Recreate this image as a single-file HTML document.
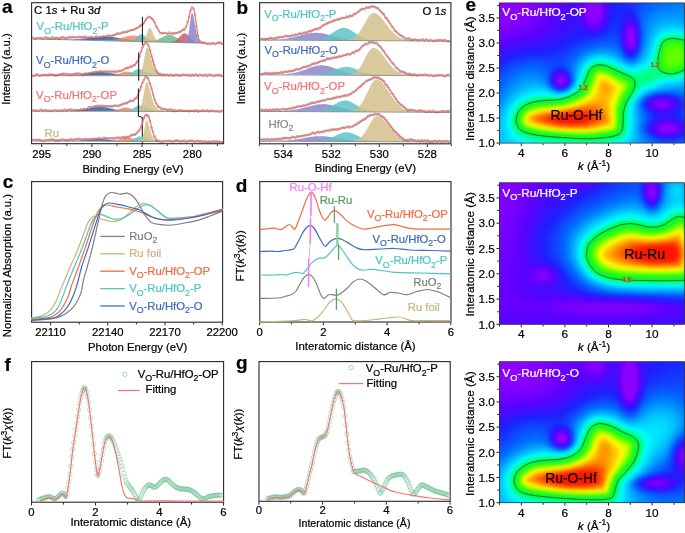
<!DOCTYPE html>
<html><head><meta charset="utf-8"><style>
html,body{margin:0;padding:0;background:#fff;width:685px;height:533px;overflow:hidden}
svg{position:absolute;left:0;top:0}
canvas{position:absolute}
text{font-family:"Liberation Sans", sans-serif}
</style></head><body>
<svg width="685" height="533" style="position:absolute;left:0;top:0"><defs><linearGradient id="fbg" x1="0" y1="0" x2="1" y2="1"><stop offset="0" stop-color="#7a00ff"/><stop offset="0.5" stop-color="#3a20ff"/><stop offset="1" stop-color="#1060ff"/></linearGradient><filter id="fb6" filterUnits="userSpaceOnUse" x="470" y="0" width="230" height="533"><feGaussianBlur stdDeviation="5"/></filter><filter id="fb2" filterUnits="userSpaceOnUse" x="470" y="0" width="230" height="533"><feGaussianBlur stdDeviation="2.5"/></filter><filter id="fb8" filterUnits="userSpaceOnUse" x="470" y="0" width="230" height="533"><feGaussianBlur stdDeviation="7"/></filter><clipPath id="fbc0"><rect x="499" y="3" width="186" height="140"/></clipPath><clipPath id="fbc1"><rect x="499" y="183" width="186" height="141"/></clipPath><clipPath id="fbc2"><rect x="499" y="362" width="186" height="141"/></clipPath></defs><g clip-path="url(#fbc0)"><rect x="499" y="3" width="186" height="140" fill="url(#fbg)"/><path d="M516.2,122.4C515.7,119.85 516.45,116.68 517.3,114.3C518.15,111.92 519.6,109.82 521.3,108.1C523,106.38 525.1,105.08 527.5,104C529.9,102.92 532.63,102.2 535.7,101.6C538.77,101 542.17,100.73 545.9,100.4C549.63,100.07 554.35,100.18 558.1,99.6C561.85,99.02 565.33,98.03 568.4,96.9C571.47,95.77 574.3,94.25 576.5,92.8C578.7,91.35 580.07,90.42 581.6,88.2C583.13,85.98 584.5,82.32 585.7,79.5C586.9,76.68 587.6,73.4 588.8,71.3C590,69.2 591.2,67.98 592.9,66.9C594.6,65.82 596.62,64.92 599,64.8C601.38,64.68 604.13,65.18 607.2,66.2C610.27,67.22 614,69.37 617.4,70.9C620.8,72.43 624.87,73.97 627.6,75.4C630.33,76.83 632.6,77.78 633.8,79.5C635,81.22 635.15,83.32 634.8,85.7C634.45,88.08 633.07,91.08 631.7,93.8C630.33,96.52 627.97,98.93 626.6,102C625.23,105.07 624.08,108.8 623.5,112.2C622.92,115.6 623.43,119.17 623.1,122.4C622.77,125.63 622.78,129.38 621.5,131.6C620.22,133.82 618.47,134.67 615.4,135.7C612.33,136.73 607.88,137.28 603.1,137.8C598.32,138.32 592.83,138.8 586.7,138.8C580.57,138.8 573.1,138.22 566.3,137.8C559.5,137.38 552.03,136.98 545.9,136.3C539.77,135.62 533.77,134.82 529.5,133.7C525.23,132.58 522.52,131.48 520.3,129.6C518.08,127.72 516.7,124.95 516.2,122.4Z" fill="#00ffff" stroke="#00ffff" stroke-width="22" stroke-linejoin="round" filter="url(#fb6)"/><path d="M516.2,122.4C515.7,119.85 516.45,116.68 517.3,114.3C518.15,111.92 519.6,109.82 521.3,108.1C523,106.38 525.1,105.08 527.5,104C529.9,102.92 532.63,102.2 535.7,101.6C538.77,101 542.17,100.73 545.9,100.4C549.63,100.07 554.35,100.18 558.1,99.6C561.85,99.02 565.33,98.03 568.4,96.9C571.47,95.77 574.3,94.25 576.5,92.8C578.7,91.35 580.07,90.42 581.6,88.2C583.13,85.98 584.5,82.32 585.7,79.5C586.9,76.68 587.6,73.4 588.8,71.3C590,69.2 591.2,67.98 592.9,66.9C594.6,65.82 596.62,64.92 599,64.8C601.38,64.68 604.13,65.18 607.2,66.2C610.27,67.22 614,69.37 617.4,70.9C620.8,72.43 624.87,73.97 627.6,75.4C630.33,76.83 632.6,77.78 633.8,79.5C635,81.22 635.15,83.32 634.8,85.7C634.45,88.08 633.07,91.08 631.7,93.8C630.33,96.52 627.97,98.93 626.6,102C625.23,105.07 624.08,108.8 623.5,112.2C622.92,115.6 623.43,119.17 623.1,122.4C622.77,125.63 622.78,129.38 621.5,131.6C620.22,133.82 618.47,134.67 615.4,135.7C612.33,136.73 607.88,137.28 603.1,137.8C598.32,138.32 592.83,138.8 586.7,138.8C580.57,138.8 573.1,138.22 566.3,137.8C559.5,137.38 552.03,136.98 545.9,136.3C539.77,135.62 533.77,134.82 529.5,133.7C525.23,132.58 522.52,131.48 520.3,129.6C518.08,127.72 516.7,124.95 516.2,122.4Z" fill="#ffff00" stroke="#00f040" stroke-width="12" filter="url(#fb2)"/><path d="M671.5,38.5C668.97,38.78 665.78,39.32 663.9,41C662.02,42.68 661.18,45.65 660.2,48.6C659.22,51.55 658.37,55.75 658,58.7C657.63,61.65 657.43,64.18 658,66.3C658.57,68.42 659.3,70.13 661.4,71.4C663.5,72.67 667.65,73.77 670.6,73.9C673.55,74.03 676.53,73.18 679.1,72.2C681.67,71.22 683.85,70.7 686,68C688.15,65.3 692,60.33 692,56C692,51.67 688.15,44.78 686,42C683.85,39.22 681.52,39.88 679.1,39.3C676.68,38.72 674.03,38.22 671.5,38.5Z" fill="#00ffff" stroke="#00ffff" stroke-width="22" stroke-linejoin="round" filter="url(#fb6)"/><path d="M671.5,38.5C668.97,38.78 665.78,39.32 663.9,41C662.02,42.68 661.18,45.65 660.2,48.6C659.22,51.55 658.37,55.75 658,58.7C657.63,61.65 657.43,64.18 658,66.3C658.57,68.42 659.3,70.13 661.4,71.4C663.5,72.67 667.65,73.77 670.6,73.9C673.55,74.03 676.53,73.18 679.1,72.2C681.67,71.22 683.85,70.7 686,68C688.15,65.3 692,60.33 692,56C692,51.67 688.15,44.78 686,42C683.85,39.22 681.52,39.88 679.1,39.3C676.68,38.72 674.03,38.22 671.5,38.5Z" fill="#50ff00" stroke="#00f040" stroke-width="12" filter="url(#fb2)"/><ellipse cx="568" cy="122" rx="30" ry="10" fill="#ff3000" filter="url(#fb8)"/><ellipse cx="604" cy="88" rx="8" ry="12" fill="#ff3000" filter="url(#fb8)"/></g><g clip-path="url(#fbc1)"><rect x="499" y="183" width="186" height="141" fill="url(#fbg)"/><path d="M586.5,254C586.7,252.17 586.8,248.65 587.7,246.4C588.6,244.15 589.8,242.62 591.9,240.5C594,238.38 597.2,235.67 600.3,233.7C603.4,231.73 607.12,230.17 610.5,228.7C613.88,227.23 617.22,225.75 620.6,224.9C623.98,224.05 627.42,223.53 630.8,223.6C634.18,223.67 638.08,224.73 640.9,225.3C643.72,225.87 645.17,226.72 647.7,227C650.23,227.28 653.28,227.43 656.1,227C658.92,226.57 661.92,225.67 664.6,224.4C667.28,223.13 669.95,220.72 672.2,219.4C674.45,218.08 676.13,216.82 678.1,216.5C680.07,216.18 681.68,216.58 684,217.5C686.32,218.42 690,216.58 692,222C694,227.42 696,240.5 696,250C696,259.5 694.15,273.95 692,279C689.85,284.05 686.83,280.02 683.1,280.3C679.37,280.58 674.95,280.63 669.6,280.7C664.25,280.77 657.47,280.78 651,280.7C644.53,280.62 636.43,280.43 630.8,280.2C625.17,279.97 621.43,279.87 617.2,279.3C612.97,278.73 609.05,278.07 605.4,276.8C601.75,275.53 597.97,273.82 595.3,271.7C592.63,269.58 590.87,266.48 589.4,264.1C587.93,261.72 586.98,259.08 586.5,257.4C586.02,255.72 586.3,255.83 586.5,254Z" fill="#00ffff" stroke="#00ffff" stroke-width="22" stroke-linejoin="round" filter="url(#fb6)"/><path d="M586.5,254C586.7,252.17 586.8,248.65 587.7,246.4C588.6,244.15 589.8,242.62 591.9,240.5C594,238.38 597.2,235.67 600.3,233.7C603.4,231.73 607.12,230.17 610.5,228.7C613.88,227.23 617.22,225.75 620.6,224.9C623.98,224.05 627.42,223.53 630.8,223.6C634.18,223.67 638.08,224.73 640.9,225.3C643.72,225.87 645.17,226.72 647.7,227C650.23,227.28 653.28,227.43 656.1,227C658.92,226.57 661.92,225.67 664.6,224.4C667.28,223.13 669.95,220.72 672.2,219.4C674.45,218.08 676.13,216.82 678.1,216.5C680.07,216.18 681.68,216.58 684,217.5C686.32,218.42 690,216.58 692,222C694,227.42 696,240.5 696,250C696,259.5 694.15,273.95 692,279C689.85,284.05 686.83,280.02 683.1,280.3C679.37,280.58 674.95,280.63 669.6,280.7C664.25,280.77 657.47,280.78 651,280.7C644.53,280.62 636.43,280.43 630.8,280.2C625.17,279.97 621.43,279.87 617.2,279.3C612.97,278.73 609.05,278.07 605.4,276.8C601.75,275.53 597.97,273.82 595.3,271.7C592.63,269.58 590.87,266.48 589.4,264.1C587.93,261.72 586.98,259.08 586.5,257.4C586.02,255.72 586.3,255.83 586.5,254Z" fill="#ffff00" stroke="#00f040" stroke-width="12" filter="url(#fb2)"/><ellipse cx="650" cy="256" rx="32" ry="11" fill="#ff3000" filter="url(#fb8)"/></g><g clip-path="url(#fbc2)"><rect x="499" y="362" width="186" height="141" fill="url(#fbg)"/><path d="M514.2,480.4C514.2,478 514.83,475.42 516.2,473.2C517.57,470.98 519.83,468.9 522.4,467.1C524.97,465.3 528.03,463.52 531.6,462.4C535.17,461.28 539.72,460.87 543.8,460.4C547.88,459.93 552.35,460.02 556.1,459.6C559.85,459.18 563.07,458.87 566.3,457.9C569.53,456.93 572.95,455.5 575.5,453.8C578.05,452.1 579.9,450.42 581.6,447.7C583.3,444.98 584.33,440.57 585.7,437.5C587.07,434.43 588.27,431.42 589.8,429.3C591.33,427.18 593.02,425.75 594.9,424.8C596.78,423.85 598.37,423.37 601.1,423.6C603.83,423.83 607.57,424.73 611.3,426.2C615.03,427.67 619.93,430.68 623.5,432.4C627.07,434.12 630.32,434.97 632.7,436.5C635.08,438.03 636.87,439.4 637.8,441.6C638.73,443.8 638.97,446.3 638.3,449.7C637.63,453.1 635.92,458.25 633.8,462C631.68,465.75 628.17,469.13 625.6,472.2C623.03,475.27 620.1,477.67 618.4,480.4C616.7,483.13 616.25,486.05 615.4,488.6C614.55,491.15 614.33,494 613.3,495.7C612.27,497.4 611.92,498.12 609.2,498.8C606.48,499.48 602.45,499.73 597,499.8C591.55,499.87 583.32,499.53 576.5,499.2C569.68,498.87 562.9,498.38 556.1,497.8C549.3,497.22 541.32,496.55 535.7,495.7C530.08,494.85 525.65,494.05 522.4,492.7C519.15,491.35 517.57,489.65 516.2,487.6C514.83,485.55 514.2,482.8 514.2,480.4Z" fill="#00ffff" stroke="#00ffff" stroke-width="22" stroke-linejoin="round" filter="url(#fb6)"/><path d="M514.2,480.4C514.2,478 514.83,475.42 516.2,473.2C517.57,470.98 519.83,468.9 522.4,467.1C524.97,465.3 528.03,463.52 531.6,462.4C535.17,461.28 539.72,460.87 543.8,460.4C547.88,459.93 552.35,460.02 556.1,459.6C559.85,459.18 563.07,458.87 566.3,457.9C569.53,456.93 572.95,455.5 575.5,453.8C578.05,452.1 579.9,450.42 581.6,447.7C583.3,444.98 584.33,440.57 585.7,437.5C587.07,434.43 588.27,431.42 589.8,429.3C591.33,427.18 593.02,425.75 594.9,424.8C596.78,423.85 598.37,423.37 601.1,423.6C603.83,423.83 607.57,424.73 611.3,426.2C615.03,427.67 619.93,430.68 623.5,432.4C627.07,434.12 630.32,434.97 632.7,436.5C635.08,438.03 636.87,439.4 637.8,441.6C638.73,443.8 638.97,446.3 638.3,449.7C637.63,453.1 635.92,458.25 633.8,462C631.68,465.75 628.17,469.13 625.6,472.2C623.03,475.27 620.1,477.67 618.4,480.4C616.7,483.13 616.25,486.05 615.4,488.6C614.55,491.15 614.33,494 613.3,495.7C612.27,497.4 611.92,498.12 609.2,498.8C606.48,499.48 602.45,499.73 597,499.8C591.55,499.87 583.32,499.53 576.5,499.2C569.68,498.87 562.9,498.38 556.1,497.8C549.3,497.22 541.32,496.55 535.7,495.7C530.08,494.85 525.65,494.05 522.4,492.7C519.15,491.35 517.57,489.65 516.2,487.6C514.83,485.55 514.2,482.8 514.2,480.4Z" fill="#ffff00" stroke="#00f040" stroke-width="12" filter="url(#fb2)"/><ellipse cx="566" cy="482" rx="28" ry="10" fill="#ff3000" filter="url(#fb8)"/><ellipse cx="604" cy="450" rx="8" ry="12" fill="#ff3000" filter="url(#fb8)"/></g></svg>
<canvas id="hm0" width="186" height="140" style="left:499px;top:3px"></canvas>
<canvas id="hm1" width="186" height="141" style="left:499px;top:183px"></canvas>
<canvas id="hm2" width="186" height="141" style="left:499px;top:362px"></canvas>

<svg width="685" height="533" viewBox="0 0 685 533" font-family='"Liberation Sans", sans-serif'>
<text x="2" y="12.7" font-size="19" fill="#000" stroke="#000" stroke-width="0.22" text-anchor="start" font-weight="bold">a</text>
<text x="236.5" y="13.5" font-size="19" fill="#000" stroke="#000" stroke-width="0.22" text-anchor="start" font-weight="bold">b</text>
<text x="465.5" y="10.5" font-size="19" fill="#000" stroke="#000" stroke-width="0.22" text-anchor="start" font-weight="bold">e</text>
<text x="2.8" y="187.7" font-size="19" fill="#000" stroke="#000" stroke-width="0.22" text-anchor="start" font-weight="bold">c</text>
<text x="235.8" y="191.7" font-size="19" fill="#000" stroke="#000" stroke-width="0.22" text-anchor="start" font-weight="bold">d</text>
<text x="4.5" y="371" font-size="19" fill="#000" stroke="#000" stroke-width="0.22" text-anchor="start" font-weight="bold">f</text>
<text x="236" y="368.5" font-size="19" fill="#000" stroke="#000" stroke-width="0.22" text-anchor="start" font-weight="bold">g</text>
<rect x="31.6" y="2.7" width="192" height="141" fill="none" stroke="#262626" stroke-width="1.1"/>
<path d="M41.7,144.2v2.8M91.9,144.2v2.8M142.1,144.2v2.8M192.3,144.2v2.8" stroke="#262626" stroke-width="1.0" fill="none"/>
<path d="M66.8,144.2v1.8M117,144.2v1.8M167.2,144.2v1.8M217.4,144.2v1.8" stroke="#262626" stroke-width="1.0" fill="none"/>
<text x="41.7" y="157.6" font-size="11.3" fill="#000" stroke="#000" stroke-width="0.22" text-anchor="middle" >295</text>
<text x="91.9" y="157.6" font-size="11.3" fill="#000" stroke="#000" stroke-width="0.22" text-anchor="middle" >290</text>
<text x="142.1" y="157.6" font-size="11.3" fill="#000" stroke="#000" stroke-width="0.22" text-anchor="middle" >285</text>
<text x="192.3" y="157.6" font-size="11.3" fill="#000" stroke="#000" stroke-width="0.22" text-anchor="middle" >280</text>
<text x="133.1" y="173.2" font-size="11.3" fill="#000" stroke="#000" stroke-width="0.22" text-anchor="middle" >Binding Energy (eV)</text>
<text transform="translate(9.9,69) rotate(-90)" font-size="11.3" fill="#000" stroke="#000" stroke-width="0.22" text-anchor="middle" >Intensity (a.u.)</text>
<rect x="259.6" y="2.7" width="191.3" height="141.1" fill="none" stroke="#262626" stroke-width="1.1"/>
<path d="M283.3,144.3v2.8M331.3,144.3v2.8M379.3,144.3v2.8M427.3,144.3v2.8" stroke="#262626" stroke-width="1.0" fill="none"/>
<path d="M259.3,144.3v1.8M307.3,144.3v1.8M355.3,144.3v1.8M403.3,144.3v1.8M451.3,144.3v1.8" stroke="#262626" stroke-width="1.0" fill="none"/>
<text x="283.3" y="157.6" font-size="11.3" fill="#000" stroke="#000" stroke-width="0.22" text-anchor="middle" >534</text>
<text x="331.3" y="157.6" font-size="11.3" fill="#000" stroke="#000" stroke-width="0.22" text-anchor="middle" >532</text>
<text x="379.3" y="157.6" font-size="11.3" fill="#000" stroke="#000" stroke-width="0.22" text-anchor="middle" >530</text>
<text x="427.3" y="157.6" font-size="11.3" fill="#000" stroke="#000" stroke-width="0.22" text-anchor="middle" >528</text>
<text x="365.4" y="172.4" font-size="11.3" fill="#000" stroke="#000" stroke-width="0.22" text-anchor="middle" >Binding Energy (eV)</text>
<text transform="translate(244.6,68.5) rotate(-90)" font-size="11.3" fill="#000" stroke="#000" stroke-width="0.22" text-anchor="middle" >Intensity (a.u.)</text>
<rect x="31.6" y="181.6" width="191" height="140.6" fill="none" stroke="#262626" stroke-width="1.1"/>
<path d="M50.6,322.7v2.8M107.8,322.7v2.8M165,322.7v2.8M222.2,322.7v2.8" stroke="#262626" stroke-width="1.0" fill="none"/>
<path d="M79.2,322.7v1.8M136.4,322.7v1.8M193.6,322.7v1.8" stroke="#262626" stroke-width="1.0" fill="none"/>
<text x="50.6" y="335.8" font-size="11.3" fill="#000" stroke="#000" stroke-width="0.22" text-anchor="middle" >22110</text>
<text x="107.8" y="335.8" font-size="11.3" fill="#000" stroke="#000" stroke-width="0.22" text-anchor="middle" >22140</text>
<text x="165" y="335.8" font-size="11.3" fill="#000" stroke="#000" stroke-width="0.22" text-anchor="middle" >22170</text>
<text x="222.2" y="335.8" font-size="11.3" fill="#000" stroke="#000" stroke-width="0.22" text-anchor="middle" >22200</text>
<text x="137.7" y="350.7" font-size="11.3" fill="#000" stroke="#000" stroke-width="0.22" text-anchor="middle" >Photon Energy (eV)</text>
<text transform="translate(11.3,265.6) rotate(-90)" font-size="11.3" fill="#000" stroke="#000" stroke-width="0.22" text-anchor="middle" >Normalized Absorption (a.u.)</text>
<rect x="259.8" y="181.6" width="191.2" height="140.4" fill="none" stroke="#262626" stroke-width="1.1"/>
<path d="M259.7,322.5v2.8M323.4,322.5v2.8M387.1,322.5v2.8M450.8,322.5v2.8" stroke="#262626" stroke-width="1.0" fill="none"/>
<path d="M291.55,322.5v1.8M355.25,322.5v1.8M418.95,322.5v1.8" stroke="#262626" stroke-width="1.0" fill="none"/>
<text x="259.7" y="335.8" font-size="11.3" fill="#000" stroke="#000" stroke-width="0.22" text-anchor="middle" >0</text>
<text x="323.4" y="335.8" font-size="11.3" fill="#000" stroke="#000" stroke-width="0.22" text-anchor="middle" >2</text>
<text x="387.1" y="335.8" font-size="11.3" fill="#000" stroke="#000" stroke-width="0.22" text-anchor="middle" >4</text>
<text x="450.8" y="335.8" font-size="11.3" fill="#000" stroke="#000" stroke-width="0.22" text-anchor="middle" >6</text>
<text x="355.5" y="349.8" font-size="11.4" fill="#000" stroke="#000" stroke-width="0.22" text-anchor="middle" >Interatomic distance (Å)</text>
<text transform="translate(244.4,255.9) rotate(-90)" font-size="11.3" fill="#000" stroke="#000" stroke-width="0.22" text-anchor="middle" >FT(<tspan font-style="italic">k</tspan><tspan font-size="8.5" dy="-4">3</tspan><tspan dy="4" font-style="italic">χ</tspan>(<tspan font-style="italic">k</tspan>))</text>
<rect x="31.6" y="361.6" width="192" height="140.6" fill="none" stroke="#262626" stroke-width="1.1"/>
<path d="M31.5,502.7v2.8M95.5,502.7v2.8M159.5,502.7v2.8M223.5,502.7v2.8" stroke="#262626" stroke-width="1.0" fill="none"/>
<path d="M63.5,502.7v1.8M127.5,502.7v1.8M191.5,502.7v1.8" stroke="#262626" stroke-width="1.0" fill="none"/>
<text x="31.5" y="515.6" font-size="11.3" fill="#000" stroke="#000" stroke-width="0.22" text-anchor="middle" >0</text>
<text x="95.5" y="515.6" font-size="11.3" fill="#000" stroke="#000" stroke-width="0.22" text-anchor="middle" >2</text>
<text x="159.5" y="515.6" font-size="11.3" fill="#000" stroke="#000" stroke-width="0.22" text-anchor="middle" >4</text>
<text x="223.5" y="515.6" font-size="11.3" fill="#000" stroke="#000" stroke-width="0.22" text-anchor="middle" >6</text>
<text x="130.8" y="526" font-size="11.45" fill="#000" stroke="#000" stroke-width="0.22" text-anchor="middle" >Interatomic distance (Å)</text>
<text transform="translate(10.8,433.2) rotate(-90)" font-size="11.3" fill="#000" stroke="#000" stroke-width="0.22" text-anchor="middle" >FT(<tspan font-style="italic">k</tspan><tspan font-size="8.5" dy="-4">3</tspan><tspan dy="4" font-style="italic">χ</tspan>(<tspan font-style="italic">k</tspan>))</text>
<rect x="259" y="361.6" width="191.2" height="139.7" fill="none" stroke="#262626" stroke-width="1.1"/>
<path d="M258.9,501.8v2.8M322.6,501.8v2.8M386.3,501.8v2.8M450,501.8v2.8" stroke="#262626" stroke-width="1.0" fill="none"/>
<path d="M290.75,501.8v1.8M354.45,501.8v1.8M418.15,501.8v1.8" stroke="#262626" stroke-width="1.0" fill="none"/>
<text x="258.9" y="514.2" font-size="11.3" fill="#000" stroke="#000" stroke-width="0.22" text-anchor="middle" >0</text>
<text x="322.6" y="514.2" font-size="11.3" fill="#000" stroke="#000" stroke-width="0.22" text-anchor="middle" >2</text>
<text x="386.3" y="514.2" font-size="11.3" fill="#000" stroke="#000" stroke-width="0.22" text-anchor="middle" >4</text>
<text x="450" y="514.2" font-size="11.3" fill="#000" stroke="#000" stroke-width="0.22" text-anchor="middle" >6</text>
<text x="354.5" y="526.7" font-size="10.6" fill="#000" stroke="#000" stroke-width="0.22" text-anchor="middle" >Interatomic distance (Å)</text>
<text transform="translate(242.2,434.2) rotate(-90)" font-size="11.3" fill="#000" stroke="#000" stroke-width="0.22" text-anchor="middle" >FT(<tspan font-style="italic">k</tspan><tspan font-size="8.5" dy="-4">3</tspan><tspan dy="4" font-style="italic">χ</tspan>(<tspan font-style="italic">k</tspan>))</text>
<rect x="499.4" y="2.9" width="184.9" height="140.2" fill="none" stroke="#333" stroke-width="0.8"/>
<path d="M521.3,143.4v2.6M564.9,143.4v2.6M608.5,143.4v2.6M652.1,143.4v2.6" stroke="#262626" stroke-width="1.0" fill="none"/>
<path d="M499.5,143.4v1.8M543.1,143.4v1.8M586.7,143.4v1.8M630.3,143.4v1.8M673.9,143.4v1.8" stroke="#262626" stroke-width="1.0" fill="none"/>
<path d="M499.1,143.1h-2.6M499.1,118.06h-2.6M499.1,93.03h-2.6M499.1,67.99h-2.6M499.1,42.96h-2.6M499.1,17.92h-2.6" stroke="#262626" stroke-width="1.0" fill="none"/>
<path d="M499.1,130.58h-1.8M499.1,105.55h-1.8M499.1,80.51h-1.8M499.1,55.47h-1.8M499.1,30.44h-1.8M499.1,5.4h-1.8" stroke="#262626" stroke-width="1.0" fill="none"/>
<text x="521.3" y="157" font-size="11.8" fill="#000" stroke="#000" stroke-width="0.22" text-anchor="middle" >4</text>
<text x="564.9" y="157" font-size="11.8" fill="#000" stroke="#000" stroke-width="0.22" text-anchor="middle" >6</text>
<text x="608.5" y="157" font-size="11.8" fill="#000" stroke="#000" stroke-width="0.22" text-anchor="middle" >8</text>
<text x="652.1" y="157" font-size="11.8" fill="#000" stroke="#000" stroke-width="0.22" text-anchor="middle" >10</text>
<text x="494.8" y="147.3" font-size="11.8" fill="#000" stroke="#000" stroke-width="0.22" text-anchor="end" >1.0</text>
<text x="494.8" y="122.26" font-size="11.8" fill="#000" stroke="#000" stroke-width="0.22" text-anchor="end" >1.5</text>
<text x="494.8" y="97.23" font-size="11.8" fill="#000" stroke="#000" stroke-width="0.22" text-anchor="end" >2.0</text>
<text x="494.8" y="72.19" font-size="11.8" fill="#000" stroke="#000" stroke-width="0.22" text-anchor="end" >2.5</text>
<text x="494.8" y="47.16" font-size="11.8" fill="#000" stroke="#000" stroke-width="0.22" text-anchor="end" >3.0</text>
<text x="494.8" y="22.12" font-size="11.8" fill="#000" stroke="#000" stroke-width="0.22" text-anchor="end" >3.5</text>
<text x="594" y="170" font-size="11.8" fill="#000" stroke="#000" stroke-width="0.22" text-anchor="middle" ><tspan font-style="italic">k</tspan> (Å<tspan font-size="8.5" dy="-4.5">-1</tspan><tspan dy="4.5">)</tspan></text>
<text transform="translate(474.1,78.8) rotate(-90)" font-size="11.8" fill="#000" stroke="#000" stroke-width="0.22" text-anchor="middle" >Interatomic distance (Å)</text>
<rect x="499.4" y="182.7" width="184.9" height="141.7" fill="none" stroke="#333" stroke-width="0.8"/>
<path d="M521.3,324.7v2.6M564.9,324.7v2.6M608.5,324.7v2.6M652.1,324.7v2.6" stroke="#262626" stroke-width="1.0" fill="none"/>
<path d="M499.5,324.7v1.8M543.1,324.7v1.8M586.7,324.7v1.8M630.3,324.7v1.8M673.9,324.7v1.8" stroke="#262626" stroke-width="1.0" fill="none"/>
<path d="M499.1,324.4h-2.6M499.1,299.1h-2.6M499.1,273.79h-2.6M499.1,248.49h-2.6M499.1,223.19h-2.6M499.1,197.88h-2.6" stroke="#262626" stroke-width="1.0" fill="none"/>
<path d="M499.1,311.75h-1.8M499.1,286.44h-1.8M499.1,261.14h-1.8M499.1,235.84h-1.8M499.1,210.53h-1.8M499.1,185.23h-1.8" stroke="#262626" stroke-width="1.0" fill="none"/>
<text x="521.3" y="338.3" font-size="11.8" fill="#000" stroke="#000" stroke-width="0.22" text-anchor="middle" >4</text>
<text x="564.9" y="338.3" font-size="11.8" fill="#000" stroke="#000" stroke-width="0.22" text-anchor="middle" >6</text>
<text x="608.5" y="338.3" font-size="11.8" fill="#000" stroke="#000" stroke-width="0.22" text-anchor="middle" >8</text>
<text x="652.1" y="338.3" font-size="11.8" fill="#000" stroke="#000" stroke-width="0.22" text-anchor="middle" >10</text>
<text x="494.8" y="328.6" font-size="11.8" fill="#000" stroke="#000" stroke-width="0.22" text-anchor="end" >1.0</text>
<text x="494.8" y="303.3" font-size="11.8" fill="#000" stroke="#000" stroke-width="0.22" text-anchor="end" >1.5</text>
<text x="494.8" y="277.99" font-size="11.8" fill="#000" stroke="#000" stroke-width="0.22" text-anchor="end" >2.0</text>
<text x="494.8" y="252.69" font-size="11.8" fill="#000" stroke="#000" stroke-width="0.22" text-anchor="end" >2.5</text>
<text x="494.8" y="227.39" font-size="11.8" fill="#000" stroke="#000" stroke-width="0.22" text-anchor="end" >3.0</text>
<text x="494.8" y="202.08" font-size="11.8" fill="#000" stroke="#000" stroke-width="0.22" text-anchor="end" >3.5</text>
<text x="594" y="351.3" font-size="11.8" fill="#000" stroke="#000" stroke-width="0.22" text-anchor="middle" ><tspan font-style="italic">k</tspan> (Å<tspan font-size="8.5" dy="-4.5">-1</tspan><tspan dy="4.5">)</tspan></text>
<text transform="translate(474.1,254.3) rotate(-90)" font-size="11.8" fill="#000" stroke="#000" stroke-width="0.22" text-anchor="middle" >Interatomic distance (Å)</text>
<rect x="499.4" y="361.6" width="184.9" height="141.1" fill="none" stroke="#333" stroke-width="0.8"/>
<path d="M521.3,503v2.6M564.9,503v2.6M608.5,503v2.6M652.1,503v2.6" stroke="#262626" stroke-width="1.0" fill="none"/>
<path d="M499.5,503v1.8M543.1,503v1.8M586.7,503v1.8M630.3,503v1.8M673.9,503v1.8" stroke="#262626" stroke-width="1.0" fill="none"/>
<path d="M499.1,502.7h-2.6M499.1,477.5h-2.6M499.1,452.31h-2.6M499.1,427.11h-2.6M499.1,401.91h-2.6M499.1,376.72h-2.6" stroke="#262626" stroke-width="1.0" fill="none"/>
<path d="M499.1,490.1h-1.8M499.1,464.91h-1.8M499.1,439.71h-1.8M499.1,414.51h-1.8M499.1,389.32h-1.8M499.1,364.12h-1.8" stroke="#262626" stroke-width="1.0" fill="none"/>
<text x="521.3" y="516.6" font-size="11.8" fill="#000" stroke="#000" stroke-width="0.22" text-anchor="middle" >4</text>
<text x="564.9" y="516.6" font-size="11.8" fill="#000" stroke="#000" stroke-width="0.22" text-anchor="middle" >6</text>
<text x="608.5" y="516.6" font-size="11.8" fill="#000" stroke="#000" stroke-width="0.22" text-anchor="middle" >8</text>
<text x="652.1" y="516.6" font-size="11.8" fill="#000" stroke="#000" stroke-width="0.22" text-anchor="middle" >10</text>
<text x="494.8" y="506.9" font-size="11.8" fill="#000" stroke="#000" stroke-width="0.22" text-anchor="end" >1.0</text>
<text x="494.8" y="481.7" font-size="11.8" fill="#000" stroke="#000" stroke-width="0.22" text-anchor="end" >1.5</text>
<text x="494.8" y="456.51" font-size="11.8" fill="#000" stroke="#000" stroke-width="0.22" text-anchor="end" >2.0</text>
<text x="494.8" y="431.31" font-size="11.8" fill="#000" stroke="#000" stroke-width="0.22" text-anchor="end" >2.5</text>
<text x="494.8" y="406.11" font-size="11.8" fill="#000" stroke="#000" stroke-width="0.22" text-anchor="end" >3.0</text>
<text x="494.8" y="380.92" font-size="11.8" fill="#000" stroke="#000" stroke-width="0.22" text-anchor="end" >3.5</text>
<text x="594" y="529.6" font-size="11.8" fill="#000" stroke="#000" stroke-width="0.22" text-anchor="middle" ><tspan font-style="italic">k</tspan> (Å<tspan font-size="8.5" dy="-4.5">-1</tspan><tspan dy="4.5">)</tspan></text>
<text transform="translate(474.1,433.6) rotate(-90)" font-size="11.8" fill="#000" stroke="#000" stroke-width="0.22" text-anchor="middle" >Interatomic distance (Å)</text>
<text x="502.3" y="16.2" font-size="11.8" fill="#fff" stroke="#fff" stroke-width="0.22" text-anchor="start" >V<tspan font-size="9.2" dy="3.4">O</tspan><tspan dy="-3.4">-Ru/HfO</tspan><tspan font-size="9.2" dy="3.4">2</tspan><tspan dy="-3.4">-OP</tspan></text>
<text x="502.3" y="196.9" font-size="11.8" fill="#fff" stroke="#fff" stroke-width="0.22" text-anchor="start" >V<tspan font-size="9.2" dy="3.4">O</tspan><tspan dy="-3.4">-Ru/HfO</tspan><tspan font-size="9.2" dy="3.4">2</tspan><tspan dy="-3.4">-P</tspan></text>
<text x="502.3" y="377.3" font-size="11.8" fill="#fff" stroke="#fff" stroke-width="0.22" text-anchor="start" >V<tspan font-size="9.2" dy="3.4">O</tspan><tspan dy="-3.4">-Ru/HfO</tspan><tspan font-size="9.2" dy="3.4">2</tspan><tspan dy="-3.4">-O</tspan></text>
<text x="550.6" y="120.3" font-size="13.9" fill="#000" stroke="#000" stroke-width="0.22" text-anchor="start" >Ru-O-Hf</text>
<text x="624.2" y="259.4" font-size="14.2" fill="#000" stroke="#000" stroke-width="0.22" text-anchor="start" >Ru-Ru</text>
<text x="545.2" y="483.3" font-size="13.9" fill="#000" stroke="#000" stroke-width="0.22" text-anchor="start" >Ru-O-Hf</text>
<text x="583" y="89.8" font-size="6.5" fill="#D04010" stroke="#D04010" stroke-width="0.22" text-anchor="middle" font-weight="bold">1.2</text>
<text x="655.1" y="66.6" font-size="6.5" fill="#D04010" stroke="#D04010" stroke-width="0.22" text-anchor="middle" font-weight="bold">1.2</text>
<text x="626.6" y="282.4" font-size="6.5" fill="#D04010" stroke="#D04010" stroke-width="0.22" text-anchor="middle" font-weight="bold">4.6</text>
<path d="M31.5,320.3C33.75,320.15 41.43,319.7 45,319.4C48.57,319.1 50.13,319.08 52.9,318.5C55.67,317.92 58.97,317.07 61.6,315.9C64.23,314.73 66.65,313.1 68.7,311.5C70.75,309.9 72.3,308.33 73.9,306.3C75.5,304.27 77.05,301.78 78.3,299.3C79.55,296.82 80.53,294.62 81.4,291.4C82.27,288.18 82.5,284.18 83.5,280C84.5,275.82 85.93,271.63 87.4,266.3C88.87,260.97 90.9,253.63 92.3,248C93.7,242.37 94.73,237.18 95.8,232.5C96.87,227.82 97.87,223.65 98.7,219.9C99.53,216.15 100.13,212.82 100.8,210C101.47,207.18 101.95,205.28 102.7,203C103.45,200.72 104.12,198.02 105.3,196.3C106.48,194.58 108.2,193.27 109.8,192.7C111.4,192.13 113.2,192.65 114.9,192.9C116.6,193.15 117.93,194.17 120,194.2C122.07,194.23 125.15,192.75 127.3,193.1C129.45,193.45 131.03,194.55 132.9,196.3C134.77,198.05 136.6,200.62 138.5,203.6C140.4,206.58 142.72,211.63 144.3,214.2C145.88,216.77 146.73,217.58 148,219C149.27,220.42 149.9,221.78 151.9,222.7C153.9,223.62 156.83,224.08 160,224.5C163.17,224.92 166.73,225.45 170.9,225.2C175.07,224.95 180.25,223.9 185,223C189.75,222.1 195.23,220.97 199.4,219.8C203.57,218.63 206.22,217.42 210,216C213.78,214.58 220.08,212.08 222.1,211.3" fill="none" stroke="#808080" stroke-width="1.2" stroke-linejoin="round" stroke-linecap="round" />
<path d="M31.5,317.8C32.88,317.55 37.4,316.98 39.8,316.3C42.2,315.62 44.15,314.72 45.9,313.7C47.65,312.68 48.98,311.58 50.3,310.2C51.62,308.82 52.63,307.37 53.8,305.4C54.97,303.43 56.28,300.73 57.3,298.4C58.32,296.07 59,293.7 59.9,291.4C60.8,289.1 61.17,288.3 62.7,284.6C64.23,280.9 66.87,274.35 69.1,269.2C71.33,264.05 73.75,259.33 76.1,253.7C78.45,248.07 81.43,240.1 83.2,235.4C84.97,230.7 85.53,228.2 86.7,225.5C87.87,222.8 89.03,220.73 90.2,219.2C91.37,217.67 92.52,216.67 93.7,216.3C94.88,215.93 96,216.52 97.3,217C98.6,217.48 99.97,218.62 101.5,219.2C103.03,219.78 104.65,220.1 106.5,220.5C108.35,220.9 110.27,221.7 112.6,221.6C114.93,221.5 117.87,221.22 120.5,219.9C123.13,218.58 125.95,215.77 128.4,213.7C130.85,211.63 133.27,209 135.2,207.5C137.13,206 138.63,205.33 140,204.7C141.37,204.07 142.07,203.73 143.4,203.7C144.73,203.67 146.07,203.62 148,204.5C149.93,205.38 152.67,207.33 155,209C157.33,210.67 159.67,212.85 162,214.5C164.33,216.15 166.83,218.23 169,218.9C171.17,219.57 172.83,218.73 175,218.5C177.17,218.27 179.5,217.75 182,217.5C184.5,217.25 187,217.25 190,217C193,216.75 196.67,216.67 200,216C203.33,215.33 206.27,214.17 210,213C213.73,211.83 220.33,209.67 222.4,209" fill="none" stroke="#C9B47C" stroke-width="1.2" stroke-linejoin="round" stroke-linecap="round" />
<path d="M31.5,318.5C33.6,318.22 40.83,317.52 44.1,316.8C47.37,316.08 49.05,315.37 51.1,314.2C53.15,313.03 54.93,311.57 56.4,309.8C57.87,308.03 58.73,306.08 59.9,303.6C61.07,301.12 62.22,298.07 63.4,294.9C64.58,291.73 65.35,288.88 67,284.6C68.65,280.32 71.07,274.58 73.3,269.2C75.53,263.82 78.17,257.93 80.4,252.3C82.63,246.67 84.95,240.1 86.7,235.4C88.45,230.7 89.5,227.17 90.9,224.1C92.3,221.03 93.68,218.65 95.1,217C96.52,215.35 97.87,214.43 99.4,214.2C100.93,213.97 102.85,215.12 104.3,215.6C105.75,216.08 106.52,216.52 108.1,217.1C109.68,217.68 111.35,218.92 113.8,219.1C116.25,219.28 119.98,219.1 122.8,218.2C125.62,217.3 127.83,215.57 130.7,213.7C133.57,211.83 137.25,208.5 140,207C142.75,205.5 145.2,204.78 147.2,204.7C149.2,204.62 150.2,205.45 152,206.5C153.8,207.55 156.17,209.5 158,211C159.83,212.5 161.48,214.33 163,215.5C164.52,216.67 165.1,217.58 167.1,218C169.1,218.42 171.2,218.17 175,218C178.8,217.83 185.73,217.33 189.9,217C194.07,216.67 196.65,216.67 200,216C203.35,215.33 206.27,214.08 210,213C213.73,211.92 220.33,210.08 222.4,209.5" fill="none" stroke="#4FC4C4" stroke-width="1.2" stroke-linejoin="round" stroke-linecap="round" />
<path d="M31.5,319.4C34.33,319.12 44.5,318.5 48.5,317.7C52.5,316.9 53.45,315.92 55.5,314.6C57.55,313.28 59.18,311.77 60.8,309.8C62.42,307.83 63.88,305.28 65.2,302.8C66.52,300.32 67.58,297.93 68.7,294.9C69.82,291.87 70.32,289.13 71.9,284.6C73.48,280.07 76.08,273.57 78.2,267.7C80.32,261.83 82.6,255.27 84.6,249.4C86.6,243.53 88.45,237.65 90.2,232.5C91.95,227.35 93.7,222.12 95.1,218.5C96.5,214.88 97.45,212.72 98.6,210.8C99.75,208.88 100.68,207.97 102,207C103.32,206.03 103.98,205 106.5,205C109.02,205 113.27,206.3 117.1,207C120.93,207.7 125.68,208.37 129.5,209.2C133.32,210.03 136.25,210.7 140,212C143.75,213.3 148.5,215.78 152,217C155.5,218.22 158,218.83 161,219.3C164,219.77 166.83,219.85 170,219.8C173.17,219.75 176.67,219.38 180,219C183.33,218.62 186.67,218.17 190,217.5C193.33,216.83 196.67,215.83 200,215C203.33,214.17 206.27,213.43 210,212.5C213.73,211.57 220.33,209.92 222.4,209.4" fill="none" stroke="#F26B43" stroke-width="1.2" stroke-linejoin="round" stroke-linecap="round" />
<path d="M31.5,320.3C35.07,319.93 48.17,319.05 52.9,318.1C57.63,317.15 57.85,315.98 59.9,314.6C61.95,313.22 63.6,311.63 65.2,309.8C66.8,307.97 68.2,305.87 69.5,303.6C70.8,301.33 71.9,298.82 73,296.2C74.1,293.58 75.22,290.6 76.1,287.9C76.98,285.2 77.35,283.6 78.3,280C79.25,276.4 80.17,271.63 81.8,266.3C83.43,260.97 86.23,253.63 88.1,248C89.97,242.37 91.47,237.3 93,232.5C94.53,227.7 96.15,222.78 97.3,219.2C98.45,215.62 98.85,213.28 99.9,211C100.95,208.72 102.13,206.83 103.6,205.5C105.07,204.17 106.07,203.13 108.7,203C111.33,202.87 115.73,203.95 119.4,204.7C123.07,205.45 127.27,206.57 130.7,207.5C134.13,208.43 136.45,208.72 140,210.3C143.55,211.88 148.5,215.47 152,217C155.5,218.53 157.85,218.97 161,219.5C164.15,220.03 167.73,220.2 170.9,220.2C174.07,220.2 176.82,219.87 180,219.5C183.18,219.13 186.77,218.58 190,218C193.23,217.42 196.07,216.75 199.4,216C202.73,215.25 206.17,214.43 210,213.5C213.83,212.57 220.33,210.92 222.4,210.4" fill="none" stroke="#3D6CC0" stroke-width="1.2" stroke-linejoin="round" stroke-linecap="round" />
<path d="M100.3,236.4H124.8" stroke="#808080" stroke-width="1.3"/>
<text x="129.2" y="240" font-size="11.3" fill="#808080" stroke="#808080" stroke-width="0.22" text-anchor="start" >RuO<tspan font-size="8.8" dy="3.4">2</tspan></text>
<path d="M100.3,253.8H124.8" stroke="#C9B47C" stroke-width="1.3"/>
<text x="129.2" y="257.4" font-size="11.3" fill="#C9B47C" stroke="#C9B47C" stroke-width="0.22" text-anchor="start" >Ru foil</text>
<path d="M100.3,271.2H124.8" stroke="#F26B43" stroke-width="1.3"/>
<text x="129.2" y="274.8" font-size="11.3" fill="#F26B43" stroke="#F26B43" stroke-width="0.22" text-anchor="start" >V<tspan font-size="8.81" dy="3.4">O</tspan><tspan dy="-3.4">-Ru/HfO</tspan><tspan font-size="8.81" dy="3.4">2</tspan><tspan dy="-3.4">-OP</tspan></text>
<path d="M100.3,288.6H124.8" stroke="#4FC4C4" stroke-width="1.3"/>
<text x="129.2" y="292.2" font-size="11.3" fill="#4FC4C4" stroke="#4FC4C4" stroke-width="0.22" text-anchor="start" >V<tspan font-size="8.81" dy="3.4">O</tspan><tspan dy="-3.4">-Ru/HfO</tspan><tspan font-size="8.81" dy="3.4">2</tspan><tspan dy="-3.4">-P</tspan></text>
<path d="M100.3,306H124.8" stroke="#3D6CC0" stroke-width="1.3"/>
<text x="129.2" y="309.6" font-size="11.3" fill="#3D6CC0" stroke="#3D6CC0" stroke-width="0.22" text-anchor="start" >V<tspan font-size="8.81" dy="3.4">O</tspan><tspan dy="-3.4">-Ru/HfO</tspan><tspan font-size="8.81" dy="3.4">2</tspan><tspan dy="-3.4">-O</tspan></text>
<path d="M259.7,229.6C260.75,229.5 263.68,229.23 266,229C268.32,228.77 271.12,228.1 273.6,228.2C276.08,228.3 279,229.8 280.9,229.6C282.8,229.4 283.67,227.85 285,227C286.33,226.15 287.73,224.58 288.9,224.5C290.07,224.42 291.02,225.7 292,226.5C292.98,227.3 293.8,230.05 294.8,229.3C295.8,228.55 296.67,225.35 298,222C299.33,218.65 301.3,213.2 302.8,209.2C304.3,205.2 305.58,200.8 307,198C308.42,195.2 309.97,192.57 311.3,192.4C312.63,192.23 313.73,194.2 315,197C316.27,199.8 317.73,205.95 318.9,209.2C320.07,212.45 321.03,214.68 322,216.5C322.97,218.32 323.7,220.02 324.7,220.1C325.7,220.18 326.95,218.27 328,217C329.05,215.73 329.85,213.55 331,212.5C332.15,211.45 333.4,210.45 334.9,210.7C336.4,210.95 338.05,212.35 340,214C341.95,215.65 344.6,218.85 346.6,220.6C348.6,222.35 350.1,223.35 352,224.5C353.9,225.65 355.85,226.73 358,227.5C360.15,228.27 362.57,229.02 364.9,229.1C367.23,229.18 369.48,228.47 372,228C374.52,227.53 376.47,226.85 380,226.3C383.53,225.75 389.87,224.75 393.2,224.7C396.53,224.65 397.27,225.38 400,226C402.73,226.62 406.27,227.88 409.6,228.4C412.93,228.92 413.13,228.98 420,229.1C426.87,229.22 445.67,229.1 450.8,229.1" fill="none" stroke="#F26B43" stroke-width="1.2" stroke-linejoin="round" stroke-linecap="round" />
<path d="M259.7,251.5C261.42,251.45 266.95,251.2 270,251.2C273.05,251.2 275.5,251.62 278,251.5C280.5,251.38 282.93,250.78 285,250.5C287.07,250.22 288.9,250.12 290.4,249.8C291.9,249.48 292.73,249.9 294,248.6C295.27,247.3 296.67,244.43 298,242C299.33,239.57 300.67,236.33 302,234C303.33,231.67 304.65,229.45 306,228C307.35,226.55 308.77,225.3 310.1,225.3C311.43,225.3 312.68,226.38 314,228C315.32,229.62 316.67,232.58 318,235C319.33,237.42 320.77,240.6 322,242.5C323.23,244.4 324.07,246.57 325.4,246.4C326.73,246.23 328.17,242.83 330,241.5C331.83,240.17 334.4,238.73 336.4,238.4C338.4,238.07 339.73,238.57 342,239.5C344.27,240.43 347.67,242.67 350,244C352.33,245.33 353.77,246.55 356,247.5C358.23,248.45 359.4,249.45 363.4,249.7C367.4,249.95 374.78,249.2 380,249C385.22,248.8 389.7,248.33 394.7,248.5C399.7,248.67 404.12,249.67 410,250C415.88,250.33 423.2,250.3 430,250.5C436.8,250.7 447.33,251.08 450.8,251.2" fill="none" stroke="#3D6CC0" stroke-width="1.2" stroke-linejoin="round" stroke-linecap="round" />
<path d="M259.7,275C262.18,275 270.88,275.08 274.6,275C278.32,274.92 279.93,274.5 282,274.5C284.07,274.5 285.5,275.17 287,275C288.5,274.83 289.43,273.93 291,273.5C292.57,273.07 294.9,272.48 296.4,272.4C297.9,272.32 298.83,272.87 300,273C301.17,273.13 302.23,273.87 303.4,273.2C304.57,272.53 305.57,270.77 307,269C308.43,267.23 310.13,264.37 312,262.6C313.87,260.83 316.13,259.18 318.2,258.4C320.27,257.62 322.43,258.8 324.4,257.9C326.37,257 328.4,254.65 330,253C331.6,251.35 332.6,249.25 334,248C335.4,246.75 336.9,245 338.4,245.5C339.9,246 341.18,248.55 343,251C344.82,253.45 347.63,257.87 349.3,260.2C350.97,262.53 351.4,263.47 353,265C354.6,266.53 356.9,268.57 358.9,269.4C360.9,270.23 362.77,270 365,270C367.23,270 368.97,269.23 372.3,269.4C375.63,269.57 381.27,270.52 385,271C388.73,271.48 388.87,271.97 394.7,272.3C400.53,272.63 410.65,272.75 420,273C429.35,273.25 445.67,273.67 450.8,273.8" fill="none" stroke="#4FC4C4" stroke-width="1.2" stroke-linejoin="round" stroke-linecap="round" />
<path d="M259.7,298.4C262.7,298.33 273.48,298.32 277.7,298C281.92,297.68 282.67,297.08 285,296.5C287.33,295.92 289.87,295.42 291.7,294.5C293.53,293.58 294.62,292.75 296,291C297.38,289.25 298.67,286.25 300,284C301.33,281.75 302.53,279.12 304,277.5C305.47,275.88 307.3,274.3 308.8,274.3C310.3,274.3 311.63,275.72 313,277.5C314.37,279.28 315.83,282.42 317,285C318.17,287.58 318.9,290.77 320,293C321.1,295.23 322.43,297.9 323.6,298.4C324.77,298.9 325.95,296.65 327,296C328.05,295.35 328.25,294.62 329.9,294.5C331.55,294.38 334.88,295.63 336.9,295.3C338.92,294.97 340.15,293.8 342,292.5C343.85,291.2 346.17,289.25 348,287.5C349.83,285.75 351.05,283.42 353,282C354.95,280.58 357.53,279.17 359.7,279C361.87,278.83 363.45,279.5 366,281C368.55,282.5 372.08,285.72 375,288C377.92,290.28 380.97,293.97 383.5,294.7C386.03,295.43 387.78,292.68 390.2,292.4C392.62,292.12 395.15,292.62 398,293C400.85,293.38 404.13,294.95 407.3,294.7C410.47,294.45 413.65,292.37 417,291.5C420.35,290.63 424.07,289.5 427.4,289.5C430.73,289.5 434.23,290.67 437,291.5C439.77,292.33 441.7,293.48 444,294.5C446.3,295.52 449.67,297.08 450.8,297.6" fill="none" stroke="#808080" stroke-width="1.2" stroke-linejoin="round" stroke-linecap="round" />
<path d="M259.7,321.6C263.08,321.55 274.12,321.48 280,321.3C285.88,321.12 290.97,320.82 295,320.5C299.03,320.18 302.03,319.48 304.2,319.4C306.37,319.32 306.7,319.78 308,320C309.3,320.22 310.33,321.2 312,320.7C313.67,320.2 316,318.78 318,317C320,315.22 322,312.5 324,310C326,307.5 327.98,303.85 330,302C332.02,300.15 334.27,298.98 336.1,298.9C337.93,298.82 339.35,299.82 341,301.5C342.65,303.18 344.5,306.58 346,309C347.5,311.42 348.92,314.13 350,316C351.08,317.87 351.33,319.4 352.5,320.2C353.67,321 355.18,320.72 357,320.8C358.82,320.88 360.4,320.92 363.4,320.7C366.4,320.48 371.07,319.95 375,319.5C378.93,319.05 382.98,318.42 387,318C391.02,317.58 395.93,316.83 399.1,317C402.27,317.17 403.77,318.38 406,319C408.23,319.62 408.5,320.45 412.5,320.7C416.5,320.95 423.62,320.5 430,320.5C436.38,320.5 447.33,320.67 450.8,320.7" fill="none" stroke="#C9B47C" stroke-width="1.2" stroke-linejoin="round" stroke-linecap="round" />
<path d="M311.1,192.2L310.9,215" fill="none" stroke="#F57AF5" stroke-width="1.6" stroke-linejoin="round" stroke-linecap="round" />
<path d="M310.9,215L310.5,219.1" fill="none" stroke="#999" stroke-width="0.6" stroke-linejoin="round" stroke-linecap="round" />
<path d="M310.5,219.1L310.2,243" fill="none" stroke="#F57AF5" stroke-width="1.6" stroke-linejoin="round" stroke-linecap="round" />
<path d="M310.2,243L309,259.4" fill="none" stroke="#999" stroke-width="0.6" stroke-linejoin="round" stroke-linecap="round" />
<path d="M308.7,259.4L308.6,286.2" fill="none" stroke="#F57AF5" stroke-width="1.6" stroke-linejoin="round" stroke-linecap="round" />
<path d="M334.3,206.7L334.3,222.2" fill="none" stroke="#4CA064" stroke-width="1.2" stroke-linejoin="round" stroke-linecap="round" />
<path d="M334.3,222.2L337.4,224.3" fill="none" stroke="#999" stroke-width="0.6" stroke-linejoin="round" stroke-linecap="round" />
<path d="M337.4,224.3L337.4,244.9" fill="none" stroke="#8ccf9f" stroke-width="2.4" stroke-linejoin="round" stroke-linecap="round" />
<path d="M338.6,244.9L338.6,259.4" fill="none" stroke="#4CA064" stroke-width="1.2" stroke-linejoin="round" stroke-linecap="round" />
<path d="M336.4,289L336.4,309.3" fill="none" stroke="#4CA064" stroke-width="1.2" stroke-linejoin="round" stroke-linecap="round" />
<text x="310.5" y="190.5" font-size="11.3" fill="#F57AF5" stroke="#F57AF5" stroke-width="0.22" text-anchor="middle" >Ru-O-Hf</text>
<text x="336" y="204.1" font-size="11.3" fill="#4CA064" stroke="#4CA064" stroke-width="0.22" text-anchor="middle" >Ru-Ru</text>
<text x="447.8" y="218" font-size="11.3" fill="#F26B43" stroke="#F26B43" stroke-width="0.22" text-anchor="end" >V<tspan font-size="8.81" dy="3.4">O</tspan><tspan dy="-3.4">-Ru/HfO</tspan><tspan font-size="8.81" dy="3.4">2</tspan><tspan dy="-3.4">-OP</tspan></text>
<text x="445.8" y="242.5" font-size="11.3" fill="#3D6CC0" stroke="#3D6CC0" stroke-width="0.22" text-anchor="end" >V<tspan font-size="8.81" dy="3.4">O</tspan><tspan dy="-3.4">-Ru/HfO</tspan><tspan font-size="8.81" dy="3.4">2</tspan><tspan dy="-3.4">-O</tspan></text>
<text x="447.3" y="264.1" font-size="11.3" fill="#4FC4C4" stroke="#4FC4C4" stroke-width="0.22" text-anchor="end" >V<tspan font-size="8.81" dy="3.4">O</tspan><tspan dy="-3.4">-Ru/HfO</tspan><tspan font-size="8.81" dy="3.4">2</tspan><tspan dy="-3.4">-P</tspan></text>
<text x="441.5" y="285.7" font-size="11.3" fill="#808080" stroke="#808080" stroke-width="0.22" text-anchor="end" >RuO<tspan font-size="8.8" dy="3.4">2</tspan></text>
<text x="439.8" y="311.3" font-size="11.3" fill="#C9B47C" stroke="#C9B47C" stroke-width="0.22" text-anchor="end" >Ru foil</text>
<g fill="none" stroke="#62BC8D" stroke-width="0.55" stroke-opacity="0.78"><circle cx="38.6" cy="500" r="2.2"/><circle cx="39.58" cy="499.57" r="2.2"/><circle cx="40.56" cy="499.13" r="2.2"/><circle cx="41.54" cy="498.73" r="2.2"/><circle cx="42.52" cy="498.36" r="2.2"/><circle cx="43.5" cy="498.04" r="2.2"/><circle cx="44.48" cy="497.73" r="2.2"/><circle cx="45.46" cy="497.44" r="2.2"/><circle cx="46.44" cy="497.16" r="2.2"/><circle cx="47.42" cy="496.91" r="2.2"/><circle cx="48.4" cy="496.71" r="2.2"/><circle cx="49.38" cy="496.6" r="2.2"/><circle cx="50.36" cy="496.76" r="2.2"/><circle cx="51.34" cy="497.4" r="2.2"/><circle cx="52.32" cy="497.95" r="2.2"/><circle cx="53.3" cy="498.54" r="2.2"/><circle cx="54.28" cy="498.92" r="2.2"/><circle cx="55.26" cy="498.78" r="2.2"/><circle cx="56.24" cy="498.2" r="2.2"/><circle cx="57.22" cy="497.4" r="2.2"/><circle cx="58.2" cy="496.55" r="2.2"/><circle cx="59.18" cy="495.68" r="2.2"/><circle cx="60.16" cy="494.66" r="2.2"/><circle cx="61.14" cy="493.68" r="2.2"/><circle cx="62.12" cy="493" r="2.2"/><circle cx="63.1" cy="493.25" r="2.2"/><circle cx="64.08" cy="494.4" r="2.2"/><circle cx="65.06" cy="496.45" r="2.2"/><circle cx="66.04" cy="496.89" r="2.2"/><circle cx="67.02" cy="493.45" r="2.2"/><circle cx="68" cy="488.04" r="2.2"/><circle cx="68.98" cy="481.87" r="2.2"/><circle cx="69.96" cy="474.44" r="2.2"/><circle cx="70.94" cy="466.11" r="2.2"/><circle cx="71.92" cy="456.82" r="2.2"/><circle cx="72.9" cy="448.92" r="2.2"/><circle cx="73.88" cy="442.28" r="2.2"/><circle cx="74.86" cy="435.92" r="2.2"/><circle cx="75.84" cy="429.49" r="2.2"/><circle cx="76.82" cy="423.15" r="2.2"/><circle cx="77.8" cy="416.6" r="2.2"/><circle cx="78.78" cy="409.77" r="2.2"/><circle cx="79.76" cy="403.39" r="2.2"/><circle cx="80.74" cy="398.17" r="2.2"/><circle cx="81.72" cy="393.86" r="2.2"/><circle cx="82.7" cy="390.35" r="2.2"/><circle cx="83.68" cy="388.07" r="2.2"/><circle cx="84.66" cy="387.8" r="2.2"/><circle cx="85.64" cy="389.16" r="2.2"/><circle cx="86.62" cy="392.18" r="2.2"/><circle cx="87.6" cy="396.71" r="2.2"/><circle cx="88.58" cy="402.53" r="2.2"/><circle cx="89.56" cy="409.75" r="2.2"/><circle cx="90.54" cy="417.82" r="2.2"/><circle cx="91.52" cy="426.25" r="2.2"/><circle cx="92.5" cy="435.24" r="2.2"/><circle cx="93.48" cy="444.4" r="2.2"/><circle cx="94.46" cy="453.67" r="2.2"/><circle cx="95.44" cy="462.17" r="2.2"/><circle cx="96.42" cy="469.5" r="2.2"/><circle cx="97.4" cy="474.91" r="2.2"/><circle cx="98.38" cy="475.17" r="2.2"/><circle cx="99.36" cy="471.21" r="2.2"/><circle cx="100.34" cy="466.2" r="2.2"/><circle cx="101.32" cy="460.43" r="2.2"/><circle cx="102.3" cy="454.61" r="2.2"/><circle cx="103.28" cy="449.45" r="2.2"/><circle cx="104.26" cy="444.66" r="2.2"/><circle cx="105.24" cy="440.8" r="2.2"/><circle cx="106.22" cy="438.32" r="2.2"/><circle cx="107.2" cy="436.88" r="2.2"/><circle cx="108.18" cy="436.11" r="2.2"/><circle cx="109.16" cy="435.92" r="2.2"/><circle cx="110.14" cy="436.53" r="2.2"/><circle cx="111.12" cy="437.66" r="2.2"/><circle cx="112.1" cy="439.17" r="2.2"/><circle cx="113.08" cy="441.03" r="2.2"/><circle cx="114.06" cy="443.14" r="2.2"/><circle cx="115.04" cy="445.55" r="2.2"/><circle cx="116.02" cy="448.22" r="2.2"/><circle cx="117" cy="451" r="2.2"/><circle cx="117.98" cy="453.85" r="2.2"/><circle cx="118.96" cy="456.8" r="2.2"/><circle cx="119.94" cy="459.81" r="2.2"/><circle cx="120.92" cy="462.84" r="2.2"/><circle cx="121.9" cy="465.95" r="2.2"/><circle cx="122.88" cy="469.43" r="2.2"/><circle cx="123.86" cy="473.51" r="2.2"/><circle cx="124.84" cy="477.18" r="2.2"/><circle cx="125.82" cy="480.29" r="2.2"/><circle cx="126.8" cy="482.63" r="2.2"/><circle cx="127.78" cy="484.27" r="2.2"/><circle cx="128.76" cy="485.66" r="2.2"/><circle cx="129.74" cy="486.99" r="2.2"/><circle cx="130.72" cy="488.23" r="2.2"/><circle cx="131.7" cy="489.47" r="2.2"/><circle cx="132.68" cy="490.82" r="2.2"/><circle cx="133.66" cy="492.46" r="2.2"/><circle cx="134.64" cy="494.38" r="2.2"/><circle cx="135.62" cy="496.22" r="2.2"/><circle cx="136.6" cy="498.23" r="2.2"/><circle cx="137.58" cy="499.99" r="2.2"/><circle cx="138.56" cy="500.42" r="2.2"/><circle cx="139.54" cy="499.1" r="2.2"/><circle cx="140.52" cy="496.97" r="2.2"/><circle cx="141.5" cy="495.03" r="2.2"/><circle cx="142.48" cy="492.97" r="2.2"/><circle cx="143.46" cy="490.97" r="2.2"/><circle cx="144.44" cy="489.29" r="2.2"/><circle cx="145.42" cy="487.87" r="2.2"/><circle cx="146.4" cy="486.64" r="2.2"/><circle cx="147.38" cy="485.65" r="2.2"/><circle cx="148.36" cy="484.98" r="2.2"/><circle cx="149.34" cy="484.8" r="2.2"/><circle cx="150.32" cy="485.08" r="2.2"/><circle cx="151.3" cy="485.61" r="2.2"/><circle cx="152.28" cy="486.17" r="2.2"/><circle cx="153.26" cy="486.94" r="2.2"/><circle cx="154.24" cy="487.48" r="2.2"/><circle cx="155.22" cy="487.33" r="2.2"/><circle cx="156.2" cy="486.65" r="2.2"/><circle cx="157.18" cy="485.76" r="2.2"/><circle cx="158.16" cy="484.85" r="2.2"/><circle cx="159.14" cy="483.86" r="2.2"/><circle cx="160.12" cy="482.79" r="2.2"/><circle cx="161.1" cy="481.78" r="2.2"/><circle cx="162.08" cy="480.94" r="2.2"/><circle cx="163.06" cy="480.27" r="2.2"/><circle cx="164.04" cy="479.72" r="2.2"/><circle cx="165.02" cy="479.38" r="2.2"/><circle cx="166" cy="479.32" r="2.2"/><circle cx="166.98" cy="479.61" r="2.2"/><circle cx="167.96" cy="480.21" r="2.2"/><circle cx="168.94" cy="480.95" r="2.2"/><circle cx="169.92" cy="481.86" r="2.2"/><circle cx="170.9" cy="482.94" r="2.2"/><circle cx="171.88" cy="483.99" r="2.2"/><circle cx="172.86" cy="484.89" r="2.2"/><circle cx="173.84" cy="485.63" r="2.2"/><circle cx="174.82" cy="486.32" r="2.2"/><circle cx="175.8" cy="486.96" r="2.2"/><circle cx="176.78" cy="487.55" r="2.2"/><circle cx="177.76" cy="488.07" r="2.2"/><circle cx="178.74" cy="488.49" r="2.2"/><circle cx="179.72" cy="488.76" r="2.2"/><circle cx="180.7" cy="488.89" r="2.2"/><circle cx="181.68" cy="488.93" r="2.2"/><circle cx="182.66" cy="488.97" r="2.2"/><circle cx="183.64" cy="489.05" r="2.2"/><circle cx="184.62" cy="489.07" r="2.2"/><circle cx="185.6" cy="489.09" r="2.2"/><circle cx="186.58" cy="489.14" r="2.2"/><circle cx="187.56" cy="489.29" r="2.2"/><circle cx="188.54" cy="489.54" r="2.2"/><circle cx="189.52" cy="489.86" r="2.2"/><circle cx="190.5" cy="490.25" r="2.2"/><circle cx="191.48" cy="490.72" r="2.2"/><circle cx="192.46" cy="491.27" r="2.2"/><circle cx="193.44" cy="491.94" r="2.2"/><circle cx="194.42" cy="492.7" r="2.2"/><circle cx="195.4" cy="493.51" r="2.2"/><circle cx="196.38" cy="494.32" r="2.2"/><circle cx="197.36" cy="495.18" r="2.2"/><circle cx="198.34" cy="496.08" r="2.2"/><circle cx="199.32" cy="496.95" r="2.2"/><circle cx="200.3" cy="497.73" r="2.2"/><circle cx="201.28" cy="498.51" r="2.2"/><circle cx="202.26" cy="499.15" r="2.2"/><circle cx="203.24" cy="499.4" r="2.2"/><circle cx="204.22" cy="499.11" r="2.2"/><circle cx="205.2" cy="498.48" r="2.2"/><circle cx="206.18" cy="497.91" r="2.2"/><circle cx="207.16" cy="497.35" r="2.2"/><circle cx="208.14" cy="496.83" r="2.2"/><circle cx="209.12" cy="496.46" r="2.2"/><circle cx="210.1" cy="496.24" r="2.2"/><circle cx="211.08" cy="496.08" r="2.2"/><circle cx="212.06" cy="495.95" r="2.2"/><circle cx="213.04" cy="495.82" r="2.2"/><circle cx="214.02" cy="495.68" r="2.2"/><circle cx="215" cy="495.54" r="2.2"/><circle cx="215.98" cy="495.41" r="2.2"/><circle cx="216.96" cy="495.29" r="2.2"/><circle cx="217.94" cy="495.2" r="2.2"/><circle cx="218.92" cy="495.14" r="2.2"/><circle cx="219.9" cy="495.1" r="2.2"/><circle cx="220.88" cy="495.07" r="2.2"/></g>
<path d="M40.6,500.5C41.33,500.25 43.55,499.52 45,499C46.45,498.48 48.13,497.48 49.3,497.4C50.47,497.32 51.07,498.12 52,498.5C52.93,498.88 53.82,499.95 54.9,499.7C55.98,499.45 57.3,498 58.5,497C59.7,496 61.18,494.03 62.1,493.7C63.02,493.37 63.33,494.38 64,495C64.67,495.62 65.35,499.07 66.1,497.4C66.85,495.73 67.77,489.57 68.5,485C69.23,480.43 69.83,475.52 70.5,470C71.17,464.48 71.75,457.73 72.5,451.9C73.25,446.07 74.2,440.32 75,435C75.8,429.68 76.47,425.5 77.3,420C78.13,414.5 79.13,406.83 80,402C80.87,397.17 81.78,393.38 82.5,391C83.22,388.62 83.67,387.7 84.3,387.7C84.93,387.7 85.6,388.62 86.3,391C87,393.38 87.75,397.17 88.5,402C89.25,406.83 90.08,414 90.8,420C91.52,426 92.13,431.88 92.8,438C93.47,444.12 94.18,451.37 94.8,456.7C95.42,462.03 95.97,466.82 96.5,470C97.03,473.18 97.42,476.13 98,475.8C98.58,475.47 99.2,471.98 100,468C100.8,464.02 101.88,456.57 102.8,451.9C103.72,447.23 104.57,442.65 105.5,440C106.43,437.35 107.48,436.33 108.4,436C109.32,435.67 110.07,436.33 111,438C111.93,439.67 112.98,442.35 114,446C115.02,449.65 116.13,455.23 117.1,459.9C118.07,464.57 119,469.67 119.8,474C120.6,478.33 121.2,482.65 121.9,485.9C122.6,489.15 123.23,491.57 124,493.5C124.77,495.43 125.5,496.68 126.5,497.5C127.5,498.32 128.63,498.18 130,498.4C131.37,498.62 133.45,498.47 134.7,498.8C135.95,499.13 136.45,500.03 137.5,500.4C138.55,500.77 137.25,500.93 141,501C144.75,501.07 153.5,500.8 160,500.8C166.5,500.8 169.4,500.97 180,501C190.6,501.03 216.33,501 223.6,501" fill="none" stroke="#F47575" stroke-width="1.2" stroke-linejoin="round" stroke-linecap="round" />
<circle cx="124.9" cy="374.3" r="2.2" fill="none" stroke="#62BC8D" stroke-width="0.6"/>
<text x="137.7" y="377.7" font-size="11.3" fill="#000" stroke="#000" stroke-width="0.22" text-anchor="start" >V<tspan font-size="8.81" dy="3.4">O</tspan><tspan dy="-3.4">-Ru/HfO</tspan><tspan font-size="8.81" dy="3.4">2</tspan><tspan dy="-3.4">-OP</tspan></text>
<path d="M118,390.5H139.6" stroke="#F47575" stroke-width="1.2"/>
<text x="145.5" y="392.6" font-size="11.3" fill="#000" stroke="#000" stroke-width="0.22" text-anchor="start" >Fitting</text>
<g fill="none" stroke="#62BC8D" stroke-width="0.55" stroke-opacity="0.78"><circle cx="267.5" cy="498.7" r="2.2"/><circle cx="268.48" cy="498.45" r="2.2"/><circle cx="269.46" cy="498.19" r="2.2"/><circle cx="270.44" cy="497.95" r="2.2"/><circle cx="271.42" cy="497.72" r="2.2"/><circle cx="272.4" cy="497.52" r="2.2"/><circle cx="273.38" cy="497.31" r="2.2"/><circle cx="274.36" cy="497.12" r="2.2"/><circle cx="275.34" cy="496.95" r="2.2"/><circle cx="276.32" cy="496.83" r="2.2"/><circle cx="277.3" cy="496.81" r="2.2"/><circle cx="278.28" cy="497.01" r="2.2"/><circle cx="279.26" cy="497.34" r="2.2"/><circle cx="280.24" cy="497.58" r="2.2"/><circle cx="281.22" cy="497.52" r="2.2"/><circle cx="282.2" cy="497.23" r="2.2"/><circle cx="283.18" cy="496.92" r="2.2"/><circle cx="284.16" cy="496.77" r="2.2"/><circle cx="285.14" cy="496.79" r="2.2"/><circle cx="286.12" cy="496.85" r="2.2"/><circle cx="287.1" cy="496.82" r="2.2"/><circle cx="288.08" cy="496.57" r="2.2"/><circle cx="289.06" cy="496.02" r="2.2"/><circle cx="290.04" cy="495.28" r="2.2"/><circle cx="291.02" cy="494.43" r="2.2"/><circle cx="292" cy="493.6" r="2.2"/><circle cx="292.98" cy="492.75" r="2.2"/><circle cx="293.96" cy="491.83" r="2.2"/><circle cx="294.94" cy="490.99" r="2.2"/><circle cx="295.92" cy="490.36" r="2.2"/><circle cx="296.9" cy="489.9" r="2.2"/><circle cx="297.88" cy="489.6" r="2.2"/><circle cx="298.86" cy="489.5" r="2.2"/><circle cx="299.84" cy="489.68" r="2.2"/><circle cx="300.82" cy="490.15" r="2.2"/><circle cx="301.8" cy="490.9" r="2.2"/><circle cx="302.78" cy="492.43" r="2.2"/><circle cx="303.76" cy="493.46" r="2.2"/><circle cx="304.74" cy="492.42" r="2.2"/><circle cx="305.72" cy="489.65" r="2.2"/><circle cx="306.7" cy="486.11" r="2.2"/><circle cx="307.68" cy="482.25" r="2.2"/><circle cx="308.66" cy="477.72" r="2.2"/><circle cx="309.64" cy="473.44" r="2.2"/><circle cx="310.62" cy="469.76" r="2.2"/><circle cx="311.6" cy="466.15" r="2.2"/><circle cx="312.58" cy="462.02" r="2.2"/><circle cx="313.56" cy="457.05" r="2.2"/><circle cx="314.54" cy="452.05" r="2.2"/><circle cx="315.52" cy="448.01" r="2.2"/><circle cx="316.5" cy="444.82" r="2.2"/><circle cx="317.48" cy="442.05" r="2.2"/><circle cx="318.46" cy="439.66" r="2.2"/><circle cx="319.44" cy="438.47" r="2.2"/><circle cx="320.42" cy="437.79" r="2.2"/><circle cx="321.4" cy="437.29" r="2.2"/><circle cx="322.38" cy="436.87" r="2.2"/><circle cx="323.36" cy="436.81" r="2.2"/><circle cx="324.34" cy="436.38" r="2.2"/><circle cx="325.32" cy="435.07" r="2.2"/><circle cx="326.3" cy="433.23" r="2.2"/><circle cx="327.28" cy="430.7" r="2.2"/><circle cx="328.26" cy="426.91" r="2.2"/><circle cx="329.24" cy="421.86" r="2.2"/><circle cx="330.22" cy="416.95" r="2.2"/><circle cx="331.2" cy="412.18" r="2.2"/><circle cx="332.18" cy="407.53" r="2.2"/><circle cx="333.16" cy="403.37" r="2.2"/><circle cx="334.14" cy="399.71" r="2.2"/><circle cx="335.12" cy="396.46" r="2.2"/><circle cx="336.1" cy="393.76" r="2.2"/><circle cx="337.08" cy="391.91" r="2.2"/><circle cx="338.06" cy="391.3" r="2.2"/><circle cx="339.04" cy="391.77" r="2.2"/><circle cx="340.02" cy="393.36" r="2.2"/><circle cx="341" cy="395.86" r="2.2"/><circle cx="341.98" cy="398.86" r="2.2"/><circle cx="342.96" cy="402.5" r="2.2"/><circle cx="343.94" cy="407.58" r="2.2"/><circle cx="344.92" cy="415.66" r="2.2"/><circle cx="345.9" cy="424.61" r="2.2"/><circle cx="346.88" cy="434.17" r="2.2"/><circle cx="347.86" cy="442.78" r="2.2"/><circle cx="348.84" cy="450.18" r="2.2"/><circle cx="349.82" cy="456.06" r="2.2"/><circle cx="350.8" cy="460.75" r="2.2"/><circle cx="351.78" cy="464.86" r="2.2"/><circle cx="352.76" cy="468.61" r="2.2"/><circle cx="353.74" cy="471.77" r="2.2"/><circle cx="354.72" cy="471.51" r="2.2"/><circle cx="355.7" cy="471.36" r="2.2"/><circle cx="356.68" cy="471.3" r="2.2"/><circle cx="357.66" cy="471.24" r="2.2"/><circle cx="358.64" cy="471.16" r="2.2"/><circle cx="359.62" cy="471.05" r="2.2"/><circle cx="360.6" cy="470.88" r="2.2"/><circle cx="361.58" cy="470.57" r="2.2"/><circle cx="362.56" cy="470.24" r="2.2"/><circle cx="363.54" cy="470.02" r="2.2"/><circle cx="364.52" cy="470.06" r="2.2"/><circle cx="365.5" cy="470.38" r="2.2"/><circle cx="366.48" cy="470.92" r="2.2"/><circle cx="367.46" cy="471.59" r="2.2"/><circle cx="368.44" cy="472.37" r="2.2"/><circle cx="369.42" cy="473.3" r="2.2"/><circle cx="370.4" cy="474.38" r="2.2"/><circle cx="371.38" cy="475.61" r="2.2"/><circle cx="372.36" cy="476.98" r="2.2"/><circle cx="373.34" cy="478.48" r="2.2"/><circle cx="374.32" cy="480.19" r="2.2"/><circle cx="375.3" cy="482.19" r="2.2"/><circle cx="376.28" cy="484.39" r="2.2"/><circle cx="377.26" cy="486.62" r="2.2"/><circle cx="378.24" cy="489.36" r="2.2"/><circle cx="379.22" cy="491.91" r="2.2"/><circle cx="380.2" cy="493.2" r="2.2"/><circle cx="381.18" cy="492.62" r="2.2"/><circle cx="382.16" cy="490.81" r="2.2"/><circle cx="383.14" cy="488.7" r="2.2"/><circle cx="384.12" cy="486.76" r="2.2"/><circle cx="385.1" cy="484.57" r="2.2"/><circle cx="386.08" cy="482.38" r="2.2"/><circle cx="387.06" cy="480.46" r="2.2"/><circle cx="388.04" cy="479.02" r="2.2"/><circle cx="389.02" cy="477.98" r="2.2"/><circle cx="390" cy="477.2" r="2.2"/><circle cx="390.98" cy="476.57" r="2.2"/><circle cx="391.96" cy="476.02" r="2.2"/><circle cx="392.94" cy="475.58" r="2.2"/><circle cx="393.92" cy="475.33" r="2.2"/><circle cx="394.9" cy="475.18" r="2.2"/><circle cx="395.88" cy="475.02" r="2.2"/><circle cx="396.86" cy="474.81" r="2.2"/><circle cx="397.84" cy="474.57" r="2.2"/><circle cx="398.82" cy="474.36" r="2.2"/><circle cx="399.8" cy="474.2" r="2.2"/><circle cx="400.78" cy="474.16" r="2.2"/><circle cx="401.76" cy="474.33" r="2.2"/><circle cx="402.74" cy="474.79" r="2.2"/><circle cx="403.72" cy="475.62" r="2.2"/><circle cx="404.7" cy="476.75" r="2.2"/><circle cx="405.68" cy="478.12" r="2.2"/><circle cx="406.66" cy="479.73" r="2.2"/><circle cx="407.64" cy="481.57" r="2.2"/><circle cx="408.62" cy="483.72" r="2.2"/><circle cx="409.6" cy="486.32" r="2.2"/><circle cx="410.58" cy="488.98" r="2.2"/><circle cx="411.56" cy="491.37" r="2.2"/><circle cx="412.54" cy="493.65" r="2.2"/><circle cx="413.52" cy="494.5" r="2.2"/><circle cx="414.5" cy="493.79" r="2.2"/><circle cx="415.48" cy="492.38" r="2.2"/><circle cx="416.46" cy="491.05" r="2.2"/><circle cx="417.44" cy="489.76" r="2.2"/><circle cx="418.42" cy="488.37" r="2.2"/><circle cx="419.4" cy="487.04" r="2.2"/><circle cx="420.38" cy="485.88" r="2.2"/><circle cx="421.36" cy="485.08" r="2.2"/><circle cx="422.34" cy="484.78" r="2.2"/><circle cx="423.32" cy="485" r="2.2"/><circle cx="424.3" cy="485.55" r="2.2"/><circle cx="425.28" cy="486.14" r="2.2"/><circle cx="426.26" cy="486.62" r="2.2"/><circle cx="427.24" cy="487.1" r="2.2"/><circle cx="428.22" cy="487.62" r="2.2"/><circle cx="429.2" cy="488.15" r="2.2"/><circle cx="430.18" cy="488.68" r="2.2"/><circle cx="431.16" cy="489.2" r="2.2"/><circle cx="432.14" cy="489.71" r="2.2"/><circle cx="433.12" cy="490.19" r="2.2"/><circle cx="434.1" cy="490.63" r="2.2"/><circle cx="435.08" cy="491.01" r="2.2"/><circle cx="436.06" cy="491.34" r="2.2"/><circle cx="437.04" cy="491.65" r="2.2"/><circle cx="438.02" cy="491.93" r="2.2"/><circle cx="439" cy="492.2" r="2.2"/><circle cx="439.98" cy="492.49" r="2.2"/><circle cx="440.96" cy="492.79" r="2.2"/><circle cx="441.94" cy="493.07" r="2.2"/><circle cx="442.92" cy="493.36" r="2.2"/><circle cx="443.9" cy="493.65" r="2.2"/><circle cx="444.88" cy="493.96" r="2.2"/><circle cx="445.86" cy="494.3" r="2.2"/><circle cx="446.84" cy="494.67" r="2.2"/><circle cx="447.82" cy="495.05" r="2.2"/><circle cx="448.8" cy="495.43" r="2.2"/></g>
<path d="M267.5,499.1C268.25,498.92 270.42,498.32 272,498C273.58,497.68 275.58,497.2 277,497.2C278.42,497.2 279.37,498 280.5,498C281.63,498 282.55,497.37 283.8,497.2C285.05,497.03 286.63,497.53 288,497C289.37,496.47 290.75,495 292,494C293.25,493 294.37,491.68 295.5,491C296.63,490.32 297.8,489.9 298.8,489.9C299.8,489.9 300.6,490.37 301.5,491C302.4,491.63 303.28,494.7 304.2,493.7C305.12,492.7 306.12,488.28 307,485C307.88,481.72 308.62,477.62 309.5,474C310.38,470.38 311.38,467.3 312.3,463.3C313.22,459.3 314.13,453.55 315,450C315.87,446.45 316.82,443.87 317.5,442C318.18,440.13 318.35,439.63 319.1,438.8C319.85,437.97 321.08,437.45 322,437C322.92,436.55 323.68,437.27 324.6,436.1C325.52,434.93 326.6,433.02 327.5,430C328.4,426.98 329.08,422.33 330,418C330.92,413.67 332,408 333,404C334,400 335.13,396.12 336,394C336.87,391.88 337.45,391.22 338.2,391.3C338.95,391.38 339.62,392.22 340.5,394.5C341.38,396.78 342.68,400.75 343.5,405C344.32,409.25 344.7,413.92 345.4,420C346.1,426.08 346.93,435.33 347.7,441.5C348.47,447.67 349.02,452.02 350,457C350.98,461.98 352.55,468.53 353.6,471.4C354.65,474.27 354.9,473.27 356.3,474.2C357.7,475.13 359.28,475.65 362,477C364.72,478.35 369.1,480.63 372.6,482.3C376.1,483.97 379.37,485.42 383,487C386.63,488.58 390.73,490.63 394.4,491.8C398.07,492.97 401.38,493.32 405,494C408.62,494.68 411.93,495.23 416.1,495.9C420.27,496.57 424.35,497.32 430,498C435.65,498.68 446.67,499.67 450,500" fill="none" stroke="#F47575" stroke-width="1.2" stroke-linejoin="round" stroke-linecap="round" />
<circle cx="351" cy="367.6" r="2.2" fill="none" stroke="#62BC8D" stroke-width="0.6"/>
<text x="365.8" y="372.2" font-size="11.3" fill="#000" stroke="#000" stroke-width="0.22" text-anchor="start" >V<tspan font-size="8.81" dy="3.4">O</tspan><tspan dy="-3.4">-Ru/HfO</tspan><tspan font-size="8.81" dy="3.4">2</tspan><tspan dy="-3.4">-P</tspan></text>
<path d="M339,383.6H363.1" stroke="#F47575" stroke-width="1.2"/>
<text x="366.4" y="387.2" font-size="11.3" fill="#000" stroke="#000" stroke-width="0.22" text-anchor="start" >Fitting</text>
<path d="M48.8,39.03 L48.8,39.03 L49.3,39.04 L49.8,39.05 L50.3,39.06 L50.8,39.07 L51.3,39.08 L51.8,39.1 L52.3,39.11 L52.8,39.12 L53.3,39.13 L53.8,39.14 L54.3,39.15 L54.8,39.16 L55.3,39.17 L55.8,39.18 L56.3,39.19 L56.8,39.2 L57.3,39.21 L57.8,39.22 L58.3,39.23 L58.8,39.24 L59.3,39.25 L59.8,39.25 L60.3,39.26 L60.8,39.27 L61.3,39.27 L61.8,39.28 L62.3,39.28 L62.8,39.29 L63.3,39.29 L63.8,39.3 L64.3,39.3 L64.8,39.3 L65.3,39.3 L65.8,39.31 L66.3,39.31 L66.8,39.3 L67.3,39.3 L67.8,39.3 L68.3,39.3 L68.8,39.29 L69.3,39.29 L69.8,39.28 L70.3,39.27 L70.8,39.26 L71.3,39.25 L71.8,39.24 L72.3,39.23 L72.8,39.21 L73.3,39.2 L73.8,39.18 L74.3,39.16 L74.8,39.14 L75.3,39.12 L75.8,39.1 L76.3,39.07 L76.8,39.05 L77.3,39.02 L77.8,38.99 L78.3,38.96 L78.8,38.92 L79.3,38.89 L79.8,38.85 L80.3,38.82 L80.8,38.78 L81.3,38.73 L81.8,38.69 L82.3,38.65 L82.8,38.6 L83.3,38.55 L83.8,38.51 L84.3,38.46 L84.8,38.4 L85.3,38.35 L85.8,38.3 L86.3,38.24 L86.8,38.19 L87.3,38.13 L87.8,38.07 L88.3,38.02 L88.8,37.96 L89.3,37.9 L89.8,37.84 L90.3,37.78 L90.8,37.72 L91.3,37.66 L91.8,37.6 L92.3,37.54 L92.8,37.48 L93.3,37.43 L93.8,37.37 L94.3,37.32 L94.8,37.26 L95.3,37.21 L95.8,37.16 L96.3,37.11 L96.8,37.06 L97.3,37.01 L97.8,36.97 L98.3,36.93 L98.8,36.89 L99.3,36.85 L99.8,36.82 L100.3,36.79 L100.8,36.76 L101.3,36.73 L101.8,36.71 L102.3,36.69 L102.8,36.68 L103.3,36.67 L103.8,36.66 L104.3,36.65 L104.8,36.65 L105.3,36.65 L105.8,36.66 L106.3,36.67 L106.8,36.68 L107.3,36.7 L107.8,36.72 L108.3,36.75 L108.8,36.78 L109.3,36.81 L109.8,36.84 L110.3,36.88 L110.8,36.92 L111.3,36.97 L111.8,37.02 L112.3,37.07 L112.8,37.12 L113.3,37.18 L113.8,37.24 L114.3,37.31 L114.8,37.37 L115.3,37.44 L115.8,37.51 L116.3,37.58 L116.8,37.66 L117.3,37.73 L117.8,37.81 L118.3,37.89 L118.8,37.97 L119.3,38.05 L119.8,38.13 L120.3,38.21 L120.8,38.3 L121.3,38.38 L121.8,38.47 L122.3,38.55 L122.8,38.64 L123.3,38.72 L123.8,38.8 L124.3,38.89 L124.8,38.97 L125.3,39.05 L125.8,39.14 L126.3,39.22 L126.8,39.3 L127.3,39.38 L127.8,39.45 L128.3,39.53 L128.8,39.61 L129.3,39.68 L129.8,39.75 L130.3,39.82 L130.8,39.89 L131.3,39.96 L131.8,40.03 L132.3,40.09 L132.8,40.16 L133.3,40.22 L133.8,40.28 L134.3,40.34 L134.8,40.4 L135.3,40.45 L135.8,40.51 L136.3,40.56 L136.8,40.61 L137.3,40.66 L137.8,40.7 L138.3,40.75 L138.8,40.79 L139.3,40.84 L139.8,40.88 L140.3,40.92 L140.8,40.96 L141.3,40.99 L141.8,41.03 L142.3,41.06 L142.8,41.1 L143.3,41.13 L143.8,41.16 L144.3,41.19 L144.8,41.22 L145.3,41.25 L145.8,41.27 L146.3,41.3 L146.8,41.33 L147.3,41.35 L147.8,41.37 L148.3,41.4 L148.8,41.42 L149.3,41.44 L149.8,41.46 L150.3,41.48 L150.8,41.5 L151.3,41.52 L151.8,41.54 L152.3,41.56 L152.8,41.58 L153.3,41.59 L153.8,41.61 L154.3,41.63 L154.8,41.64 L155.3,41.66 L155.8,41.68 L156.3,41.69 L156.8,41.71 L157.3,41.72 L157.8,41.74 L158.3,41.75 L158.8,41.76 L159.3,41.78 L159.8,41.79 L160.3,41.81 L160.8,41.82 L161.3,41.83 L161.8,41.85 L162.3,41.86 L162.8,41.87 L163.3,41.89 L163.8,41.9 L164,41.91Z" fill="#2B64A8" fill-opacity="0.85" stroke="none"/>
<path d="M97,40.24 L97,40.23 L97.5,40.24 L98,40.25 L98.5,40.26 L99,40.27 L99.5,40.28 L100,40.29 L100.5,40.3 L101,40.3 L101.5,40.31 L102,40.32 L102.5,40.32 L103,40.33 L103.5,40.33 L104,40.33 L104.5,40.33 L105,40.33 L105.5,40.32 L106,40.32 L106.5,40.31 L107,40.3 L107.5,40.28 L108,40.27 L108.5,40.25 L109,40.22 L109.5,40.2 L110,40.16 L110.5,40.13 L111,40.09 L111.5,40.04 L112,40 L112.5,39.94 L113,39.88 L113.5,39.81 L114,39.74 L114.5,39.66 L115,39.58 L115.5,39.49 L116,39.39 L116.5,39.29 L117,39.18 L117.5,39.07 L118,38.94 L118.5,38.82 L119,38.69 L119.5,38.55 L120,38.41 L120.5,38.26 L121,38.11 L121.5,37.96 L122,37.8 L122.5,37.65 L123,37.49 L123.5,37.33 L124,37.18 L124.5,37.02 L125,36.87 L125.5,36.72 L126,36.58 L126.5,36.44 L127,36.31 L127.5,36.19 L128,36.07 L128.5,35.96 L129,35.87 L129.5,35.78 L130,35.71 L130.5,35.65 L131,35.6 L131.5,35.56 L132,35.54 L132.5,35.53 L133,35.54 L133.5,35.55 L134,35.58 L134.5,35.61 L135,35.65 L135.5,35.7 L136,35.76 L136.5,35.82 L137,35.9 L137.5,35.98 L138,36.06 L138.5,36.15 L139,36.25 L139.5,36.36 L140,36.47 L140.5,36.58 L141,36.7 L141.5,36.83 L142,36.96 L142.5,37.09 L143,37.22 L143.5,37.36 L144,37.5 L144.5,37.64 L145,37.78 L145.5,37.92 L146,38.07 L146.5,38.21 L147,38.35 L147.5,38.49 L148,38.63 L148.5,38.77 L149,38.91 L149.5,39.05 L150,39.18 L150.5,39.31 L151,39.44 L151.5,39.57 L152,39.69 L152.5,39.81 L153,39.92 L153.5,40.03 L154,40.14 L154.5,40.25 L155,40.35 L155.5,40.45 L156,40.54 L156.5,40.63 L157,40.72 L157.5,40.8 L158,40.88 L158.5,40.96 L159,41.03 L159.5,41.1 L160,41.16 L160.5,41.23 L161,41.29 L161.5,41.34 L162,41.4 L162.5,41.45 L163,41.5 L163.5,41.54 L164,41.59 L164.5,41.63 L165,41.67 L165.5,41.7 L166,41.74 L166.5,41.77 L167,41.8 L167.5,41.83 L168,41.86 L168.5,41.89 L169,41.92 L169.5,41.94 L170,41.96 L170.5,41.99 L171,42.01 L171.5,42.03 L172,42.05 L172.5,42.07 L173,42.09 L173.5,42.11 L174,42.12 L174.5,42.14 L175,42.16 L175.5,42.17 L176,42.19 L176.5,42.2 L177,42.22 L177.5,42.23 L178,42.25 L178.5,42.26 L179,42.28 L179.5,42.29 L179.8,42.31Z" fill="#EE8A62" fill-opacity="0.85" stroke="none"/>
<path d="M125.3,40.95 L125.3,40.93 L125.8,40.94 L126.3,40.95 L126.8,40.95 L127.3,40.95 L127.8,40.94 L128.3,40.93 L128.8,40.9 L129.3,40.87 L129.8,40.82 L130.3,40.75 L130.8,40.67 L131.3,40.56 L131.8,40.42 L132.3,40.25 L132.8,40.05 L133.3,39.81 L133.8,39.54 L134.3,39.22 L134.8,38.87 L135.3,38.49 L135.8,38.07 L136.3,37.63 L136.8,37.18 L137.3,36.72 L137.8,36.27 L138.3,35.83 L138.8,35.44 L139.3,35.08 L139.8,34.79 L140.3,34.56 L140.8,34.42 L141.3,34.35 L141.8,34.37 L142.3,34.48 L142.8,34.67 L143.3,34.93 L143.8,35.26 L144.3,35.65 L144.8,36.08 L145.3,36.54 L145.8,37.02 L146.3,37.51 L146.8,37.98 L147.3,38.44 L147.8,38.88 L148.3,39.29 L148.8,39.65 L149.3,39.99 L149.8,40.28 L150.3,40.54 L150.8,40.76 L151.3,40.94 L151.8,41.1 L152.3,41.23 L152.8,41.33 L153.3,41.42 L153.8,41.49 L154.3,41.55 L154.8,41.59 L155.3,41.63 L155.8,41.66 L156.3,41.69 L156.8,41.71 L157.3,41.73 L157.7,41.76Z" fill="#5EC3C6" fill-opacity="0.85" stroke="none"/>
<path d="M130.2,41.07 L130.2,40.97 L130.7,40.98 L131.2,40.99 L131.7,40.99 L132.2,41 L132.7,41.01 L133.2,41.01 L133.7,41.02 L134.2,41.02 L134.7,41.02 L135.2,41.03 L135.7,41.03 L136.2,41.03 L136.7,41.02 L137.2,41.02 L137.7,41.02 L138.2,41.01 L138.7,41 L139.2,40.98 L139.7,40.96 L140.2,40.92 L140.7,40.88 L141.2,40.81 L141.7,40.71 L142.2,40.56 L142.7,40.35 L143.2,40.06 L143.7,39.66 L144.2,39.13 L144.7,38.44 L145.2,37.59 L145.7,36.56 L146.2,35.37 L146.7,34.04 L147.2,32.64 L147.7,31.24 L148.2,29.93 L148.7,28.84 L149.2,28.09 L149.7,27.76 L150.2,27.89 L150.7,28.37 L151.2,29.16 L151.7,30.18 L152.2,31.35 L152.7,32.6 L153.2,33.86 L153.7,35.06 L154.2,36.19 L154.7,37.19 L155.2,38.07 L155.7,38.81 L156.2,39.43 L156.7,39.93 L157.2,40.32 L157.7,40.62 L158.2,40.86 L158.7,41.04 L159.2,41.18 L159.7,41.28 L160.2,41.36 L160.7,41.43 L161.2,41.48 L161.7,41.53 L162.2,41.57 L162.7,41.61 L163.2,41.64 L163.7,41.67 L164.2,41.7 L164.7,41.72 L165.2,41.75 L165.7,41.77 L166.2,41.79 L166.7,41.82 L167.2,41.84 L167.7,41.86 L168.2,41.88 L168.7,41.9 L169.2,41.92 L169.7,41.94 L170.2,41.95 L170.7,41.97 L171.2,41.99 L171.7,42.01 L172.2,42.02 L172.2,42.12Z" fill="#D2BF8C" fill-opacity="0.85" stroke="none"/>
<path d="M142.3,41.37 L142.3,41.36 L142.8,41.37 L143.3,41.38 L143.8,41.39 L144.3,41.39 L144.8,41.4 L145.3,41.4 L145.8,41.41 L146.3,41.41 L146.8,41.4 L147.3,41.4 L147.8,41.39 L148.3,41.38 L148.8,41.36 L149.3,41.34 L149.8,41.32 L150.3,41.28 L150.8,41.24 L151.3,41.2 L151.8,41.14 L152.3,41.08 L152.8,41 L153.3,40.92 L153.8,40.82 L154.3,40.71 L154.8,40.59 L155.3,40.45 L155.8,40.3 L156.3,40.14 L156.8,39.96 L157.3,39.77 L157.8,39.57 L158.3,39.35 L158.8,39.12 L159.3,38.88 L159.8,38.62 L160.3,38.36 L160.8,38.1 L161.3,37.83 L161.8,37.55 L162.3,37.28 L162.8,37.01 L163.3,36.74 L163.8,36.48 L164.3,36.23 L164.8,36 L165.3,35.79 L165.8,35.59 L166.3,35.42 L166.8,35.27 L167.3,35.14 L167.8,35.05 L168.3,34.98 L168.8,34.95 L169.3,34.95 L169.8,34.97 L170.3,35.03 L170.8,35.12 L171.3,35.24 L171.8,35.39 L172.3,35.57 L172.8,35.77 L173.3,35.99 L173.8,36.23 L174.3,36.48 L174.8,36.76 L175.3,37.04 L175.8,37.33 L176.3,37.63 L176.8,37.93 L177.3,38.23 L177.8,38.52 L178.3,38.81 L178.8,39.1 L179.3,39.38 L179.8,39.64 L180.3,39.9 L180.8,40.14 L181.3,40.37 L181.8,40.59 L182.3,40.79 L182.8,40.98 L183.3,41.15 L183.8,41.31 L184.3,41.46 L184.8,41.59 L185.3,41.72 L185.8,41.83 L186.3,41.93 L186.8,42.02 L187.3,42.1 L187.8,42.17 L188.3,42.23 L188.8,42.29 L189.3,42.34 L189.8,42.39 L190.3,42.43 L190.8,42.47 L191.3,42.5 L191.8,42.53 L192.3,42.56 L192.8,42.58 L193.3,42.6 L193.8,42.62 L194.3,42.64 L194.8,42.66 L195.3,42.68 L195.8,42.69 L196.3,42.71 L196.3,42.72Z" fill="#6DB98B" fill-opacity="0.85" stroke="none"/>
<path d="M166.6,41.98 L166.6,41.96 L167.1,41.97 L167.6,41.97 L168.1,41.98 L168.6,41.97 L169.1,41.96 L169.6,41.95 L170.1,41.93 L170.6,41.89 L171.1,41.85 L171.6,41.79 L172.1,41.71 L172.6,41.61 L173.1,41.49 L173.6,41.33 L174.1,41.15 L174.6,40.93 L175.1,40.68 L175.6,40.38 L176.1,40.05 L176.6,39.67 L177.1,39.25 L177.6,38.8 L178.1,38.31 L178.6,37.8 L179.1,37.27 L179.6,36.72 L180.1,36.18 L180.6,35.65 L181.1,35.14 L181.6,34.67 L182.1,34.25 L182.6,33.88 L183.1,33.59 L183.6,33.38 L184.1,33.26 L184.6,33.23 L185.1,33.29 L185.6,33.43 L186.1,33.67 L186.6,33.98 L187.1,34.37 L187.6,34.82 L188.1,35.31 L188.6,35.85 L189.1,36.4 L189.6,36.97 L190.1,37.54 L190.6,38.1 L191.1,38.64 L191.6,39.15 L192.1,39.63 L192.6,40.07 L193.1,40.47 L193.6,40.83 L194.1,41.15 L194.6,41.43 L195.1,41.68 L195.6,41.88 L196.1,42.06 L196.6,42.21 L197.1,42.34 L197.6,42.44 L198.1,42.52 L198.6,42.59 L199.1,42.65 L199.6,42.7 L200.1,42.74 L200.6,42.77 L201.1,42.8 L201.6,42.82 L202.1,42.84 L202.6,42.86 L202.6,42.88Z" fill="#C8606F" fill-opacity="0.85" stroke="none"/>
<path d="M184.08,42.41 L184.08,42.37 L184.58,42.33 L185.08,42.23 L185.58,42.03 L186.08,41.66 L186.58,41.03 L187.08,40.03 L187.58,38.52 L188.08,36.38 L188.58,33.57 L189.08,30.11 L189.58,26.17 L190.08,22.07 L190.58,18.22 L191.08,15.1 L191.58,13.14 L192.08,12.63 L192.58,13.18 L193.08,14.52 L193.58,16.54 L194.08,19.07 L194.58,21.95 L195.08,24.98 L195.58,27.98 L196.08,30.82 L196.58,33.37 L197.08,35.59 L197.58,37.43 L198.08,38.92 L198.58,40.07 L199.08,40.94 L199.58,41.57 L200.08,42.02 L200.58,42.32 L201.08,42.53 L201.58,42.67 L202.08,42.76 L202.58,42.82 L202.8,42.88Z" fill="#8A86CF" fill-opacity="0.85" stroke="none"/>
<path d="M32.2,38.92L223,43.69" stroke="#8a8a8a" stroke-width="0.9"/>
<g fill="none" stroke="#555" stroke-width="0.5" stroke-opacity="0.85"><circle cx="33" cy="37.63" r="0.85"/><circle cx="34.5" cy="38.9" r="0.85"/><circle cx="36" cy="38.74" r="0.85"/><circle cx="37.5" cy="37.81" r="0.85"/><circle cx="39" cy="38.23" r="0.85"/><circle cx="40.5" cy="38.13" r="0.85"/><circle cx="42" cy="38.48" r="0.85"/><circle cx="43.5" cy="38.72" r="0.85"/><circle cx="45" cy="37.45" r="0.85"/><circle cx="46.5" cy="37.32" r="0.85"/><circle cx="48" cy="38.76" r="0.85"/><circle cx="49.5" cy="38.02" r="0.85"/><circle cx="51" cy="38.6" r="0.85"/><circle cx="52.5" cy="37.21" r="0.85"/><circle cx="54" cy="37.99" r="0.85"/><circle cx="55.5" cy="38.47" r="0.85"/><circle cx="57" cy="37.56" r="0.85"/><circle cx="58.5" cy="38.83" r="0.85"/><circle cx="60" cy="38.72" r="0.85"/><circle cx="61.5" cy="37.12" r="0.85"/><circle cx="63" cy="37.08" r="0.85"/><circle cx="64.5" cy="37.97" r="0.85"/><circle cx="66" cy="38.64" r="0.85"/><circle cx="67.5" cy="37.58" r="0.85"/><circle cx="69" cy="37.23" r="0.85"/><circle cx="70.5" cy="37.55" r="0.85"/><circle cx="72" cy="36.79" r="0.85"/><circle cx="73.5" cy="37.08" r="0.85"/><circle cx="75" cy="37.41" r="0.85"/><circle cx="76.5" cy="37.47" r="0.85"/><circle cx="78" cy="36.95" r="0.85"/><circle cx="79.5" cy="36.91" r="0.85"/><circle cx="81" cy="36.86" r="0.85"/><circle cx="82.5" cy="37.27" r="0.85"/><circle cx="84" cy="36.96" r="0.85"/><circle cx="85.5" cy="36.47" r="0.85"/><circle cx="87" cy="37.93" r="0.85"/><circle cx="88.5" cy="37.42" r="0.85"/><circle cx="90" cy="37.56" r="0.85"/><circle cx="91.5" cy="36.73" r="0.85"/><circle cx="93" cy="38.15" r="0.85"/><circle cx="94.5" cy="37.87" r="0.85"/><circle cx="96" cy="36.47" r="0.85"/><circle cx="97.5" cy="36.76" r="0.85"/><circle cx="99" cy="37.34" r="0.85"/><circle cx="100.5" cy="37.17" r="0.85"/><circle cx="102" cy="37.4" r="0.85"/><circle cx="103.5" cy="36.28" r="0.85"/><circle cx="105" cy="36.83" r="0.85"/><circle cx="106.5" cy="36.36" r="0.85"/><circle cx="108" cy="35.51" r="0.85"/><circle cx="109.5" cy="35.82" r="0.85"/><circle cx="111" cy="36.12" r="0.85"/><circle cx="112.5" cy="35.81" r="0.85"/><circle cx="114" cy="34.91" r="0.85"/><circle cx="115.5" cy="34.74" r="0.85"/><circle cx="117" cy="33.39" r="0.85"/><circle cx="118.5" cy="33.39" r="0.85"/><circle cx="120" cy="33.99" r="0.85"/><circle cx="121.5" cy="32.89" r="0.85"/><circle cx="123" cy="32.05" r="0.85"/><circle cx="124.5" cy="32.31" r="0.85"/><circle cx="126" cy="32.17" r="0.85"/><circle cx="127.5" cy="31.7" r="0.85"/><circle cx="129" cy="30.73" r="0.85"/><circle cx="130.5" cy="30.39" r="0.85"/><circle cx="132" cy="30.05" r="0.85"/><circle cx="133.5" cy="30.03" r="0.85"/><circle cx="135" cy="29.01" r="0.85"/><circle cx="136.5" cy="28.16" r="0.85"/><circle cx="138" cy="27.6" r="0.85"/><circle cx="139.5" cy="25.94" r="0.85"/><circle cx="141" cy="24.97" r="0.85"/><circle cx="142.5" cy="24.75" r="0.85"/><circle cx="144" cy="23.18" r="0.85"/><circle cx="145.5" cy="20.22" r="0.85"/><circle cx="147" cy="18.23" r="0.85"/><circle cx="148.5" cy="16.77" r="0.85"/><circle cx="150" cy="17.14" r="0.85"/><circle cx="151.5" cy="18.68" r="0.85"/><circle cx="153" cy="19.83" r="0.85"/><circle cx="154.5" cy="22.28" r="0.85"/><circle cx="156" cy="26.17" r="0.85"/><circle cx="157.5" cy="28.14" r="0.85"/><circle cx="159" cy="31.17" r="0.85"/><circle cx="160.5" cy="33.41" r="0.85"/><circle cx="162" cy="33.26" r="0.85"/><circle cx="163.5" cy="33.19" r="0.85"/><circle cx="165" cy="32.88" r="0.85"/><circle cx="166.5" cy="33.39" r="0.85"/><circle cx="168" cy="34.1" r="0.85"/><circle cx="169.5" cy="32.34" r="0.85"/><circle cx="171" cy="33.67" r="0.85"/><circle cx="172.5" cy="33.65" r="0.85"/><circle cx="174" cy="33.65" r="0.85"/><circle cx="175.5" cy="33.22" r="0.85"/><circle cx="177" cy="33.11" r="0.85"/><circle cx="178.5" cy="32.28" r="0.85"/><circle cx="180" cy="31.9" r="0.85"/><circle cx="181.5" cy="31.02" r="0.85"/><circle cx="183" cy="29.49" r="0.85"/><circle cx="184.5" cy="29.72" r="0.85"/><circle cx="186" cy="27.09" r="0.85"/><circle cx="187.5" cy="22.36" r="0.85"/><circle cx="189" cy="16.97" r="0.85"/><circle cx="190.5" cy="10.57" r="0.85"/><circle cx="192" cy="7.44" r="0.85"/><circle cx="193.5" cy="8.61" r="0.85"/><circle cx="195" cy="15.03" r="0.85"/><circle cx="196.5" cy="26.35" r="0.85"/><circle cx="198" cy="35.79" r="0.85"/><circle cx="199.5" cy="40.72" r="0.85"/><circle cx="201" cy="41.83" r="0.85"/><circle cx="202.5" cy="42.5" r="0.85"/><circle cx="204" cy="42.57" r="0.85"/><circle cx="205.5" cy="43.39" r="0.85"/><circle cx="207" cy="43.94" r="0.85"/><circle cx="208.5" cy="43.87" r="0.85"/><circle cx="210" cy="43.89" r="0.85"/><circle cx="211.5" cy="43.95" r="0.85"/><circle cx="213" cy="42.98" r="0.85"/><circle cx="214.5" cy="44.05" r="0.85"/><circle cx="216" cy="43.75" r="0.85"/><circle cx="217.5" cy="42.68" r="0.85"/><circle cx="219" cy="42.56" r="0.85"/><circle cx="220.5" cy="42.54" r="0.85"/><circle cx="222" cy="43.87" r="0.85"/></g>
<path d="M31.8,38.3C36.5,38.25 52.1,38.15 60,38C67.9,37.85 73.37,37.53 79.2,37.4C85.03,37.27 90.78,37.38 95,37.2C99.22,37.02 101.33,36.68 104.5,36.3C107.67,35.92 110.83,35.53 114,34.9C117.17,34.27 120.33,33.37 123.5,32.5C126.67,31.63 130.48,30.57 133,29.7C135.52,28.83 137.03,28.17 138.6,27.3C140.17,26.43 141.13,25.85 142.4,24.5C143.67,23.15 145,20.43 146.2,19.2C147.4,17.97 148.48,17.1 149.6,17.1C150.72,17.1 151.88,17.9 152.9,19.2C153.92,20.5 154.85,23.18 155.7,24.9C156.55,26.62 157.2,28.22 158,29.5C158.8,30.78 159.3,31.97 160.5,32.6C161.7,33.23 162.72,33.27 165.2,33.3C167.68,33.33 172.67,33.17 175.4,32.8C178.13,32.43 179.88,31.98 181.6,31.1C183.32,30.22 184.6,29.28 185.7,27.5C186.8,25.72 187.43,23.12 188.2,20.4C188.97,17.68 189.62,13.33 190.3,11.2C190.98,9.07 191.63,7.6 192.3,7.6C192.97,7.6 193.7,8.9 194.3,11.2C194.9,13.5 195.38,17.83 195.9,21.4C196.42,24.97 196.8,29.37 197.4,32.6C198,35.83 198.73,39.08 199.5,40.8C200.27,42.52 199.88,42.47 202,42.9C204.12,43.33 208.67,43.32 212.2,43.4C215.73,43.48 221.37,43.4 223.2,43.4" fill="none" stroke="#F37878" stroke-width="1.35" stroke-linejoin="round"/>
<path d="M142.4,17.3V45" fill="none" stroke="#111" stroke-width="1.0" stroke-linejoin="round" stroke-linecap="round" />
<path d="M56.8,75.4 L56.8,75.4 L57.3,75.39 L57.8,75.39 L58.3,75.39 L58.8,75.39 L59.3,75.39 L59.8,75.39 L60.3,75.39 L60.8,75.38 L61.3,75.38 L61.8,75.38 L62.3,75.38 L62.8,75.37 L63.3,75.37 L63.8,75.37 L64.3,75.36 L64.8,75.36 L65.3,75.35 L65.8,75.34 L66.3,75.34 L66.8,75.33 L67.3,75.32 L67.8,75.31 L68.3,75.3 L68.8,75.29 L69.3,75.28 L69.8,75.27 L70.3,75.25 L70.8,75.23 L71.3,75.22 L71.8,75.2 L72.3,75.18 L72.8,75.15 L73.3,75.13 L73.8,75.1 L74.3,75.08 L74.8,75.05 L75.3,75.02 L75.8,74.98 L76.3,74.94 L76.8,74.91 L77.3,74.87 L77.8,74.82 L78.3,74.78 L78.8,74.73 L79.3,74.68 L79.8,74.62 L80.3,74.57 L80.8,74.51 L81.3,74.45 L81.8,74.39 L82.3,74.32 L82.8,74.25 L83.3,74.18 L83.8,74.11 L84.3,74.04 L84.8,73.97 L85.3,73.89 L85.8,73.81 L86.3,73.73 L86.8,73.65 L87.3,73.57 L87.8,73.49 L88.3,73.41 L88.8,73.33 L89.3,73.25 L89.8,73.17 L90.3,73.09 L90.8,73.01 L91.3,72.94 L91.8,72.87 L92.3,72.8 L92.8,72.73 L93.3,72.66 L93.8,72.6 L94.3,72.54 L94.8,72.49 L95.3,72.44 L95.8,72.39 L96.3,72.35 L96.8,72.31 L97.3,72.28 L97.8,72.25 L98.3,72.23 L98.8,72.22 L99.3,72.21 L99.8,72.2 L100.3,72.2 L100.8,72.21 L101.3,72.22 L101.8,72.24 L102.3,72.26 L102.8,72.29 L103.3,72.32 L103.8,72.36 L104.3,72.4 L104.8,72.45 L105.3,72.5 L105.8,72.55 L106.3,72.61 L106.8,72.67 L107.3,72.74 L107.8,72.81 L108.3,72.88 L108.8,72.95 L109.3,73.03 L109.8,73.11 L110.3,73.19 L110.8,73.27 L111.3,73.35 L111.8,73.43 L112.3,73.51 L112.8,73.59 L113.3,73.67 L113.8,73.75 L114.3,73.83 L114.8,73.9 L115.3,73.98 L115.8,74.06 L116.3,74.13 L116.8,74.2 L117.3,74.27 L117.8,74.33 L118.3,74.4 L118.8,74.46 L119.3,74.52 L119.8,74.58 L120.3,74.63 L120.8,74.69 L121.3,74.74 L121.8,74.79 L122.3,74.83 L122.8,74.87 L123.3,74.91 L123.8,74.95 L124.3,74.99 L124.8,75.02 L125.3,75.05 L125.8,75.08 L126.3,75.11 L126.8,75.14 L127.3,75.16 L127.8,75.18 L128.3,75.2 L128.8,75.22 L129.3,75.24 L129.8,75.25 L130.3,75.27 L130.8,75.28 L131.3,75.29 L131.8,75.3 L132.3,75.31 L132.8,75.32 L133.3,75.33 L133.8,75.34 L134.3,75.35 L134.8,75.35 L135.3,75.36 L135.8,75.36 L136.3,75.37 L136.8,75.37 L137.3,75.37 L137.8,75.38 L138.3,75.38 L138.8,75.38 L139.3,75.38 L139.8,75.39 L140.3,75.39 L140.8,75.39 L141.3,75.39 L141.8,75.39 L142.3,75.39 L142.8,75.39 L143.2,75.4Z" fill="#2B64A8" fill-opacity="0.85" stroke="none"/>
<path d="M105.1,75.4 L105.1,75.39 L105.6,75.39 L106.1,75.39 L106.6,75.39 L107.1,75.38 L107.6,75.38 L108.1,75.37 L108.6,75.36 L109.1,75.35 L109.6,75.33 L110.1,75.32 L110.6,75.3 L111.1,75.27 L111.6,75.24 L112.1,75.2 L112.6,75.16 L113.1,75.11 L113.6,75.05 L114.1,74.98 L114.6,74.9 L115.1,74.81 L115.6,74.71 L116.1,74.6 L116.6,74.48 L117.1,74.34 L117.6,74.2 L118.1,74.04 L118.6,73.87 L119.1,73.7 L119.6,73.51 L120.1,73.32 L120.6,73.13 L121.1,72.94 L121.6,72.75 L122.1,72.57 L122.6,72.39 L123.1,72.23 L123.6,72.07 L124.1,71.94 L124.6,71.83 L125.1,71.73 L125.6,71.66 L126.1,71.62 L126.6,71.6 L127.1,71.61 L127.6,71.64 L128.1,71.7 L128.6,71.79 L129.1,71.89 L129.6,72.02 L130.1,72.16 L130.6,72.32 L131.1,72.5 L131.6,72.68 L132.1,72.87 L132.6,73.06 L133.1,73.25 L133.6,73.44 L134.1,73.62 L134.6,73.8 L135.1,73.97 L135.6,74.14 L136.1,74.29 L136.6,74.43 L137.1,74.55 L137.6,74.67 L138.1,74.77 L138.6,74.87 L139.1,74.95 L139.6,75.02 L140.1,75.09 L140.6,75.14 L141.1,75.19 L141.6,75.23 L142.1,75.26 L142.6,75.29 L143.1,75.31 L143.6,75.33 L144.1,75.34 L144.6,75.36 L145.1,75.37 L145.6,75.37 L146.1,75.38 L146.6,75.38 L147.1,75.39 L147.6,75.39 L148.1,75.39 L148.3,75.4Z" fill="#EE8A62" fill-opacity="0.85" stroke="none"/>
<path d="M120,75.4 L120,75.39 L120.5,75.39 L121,75.38 L121.5,75.37 L122,75.36 L122.5,75.35 L123,75.33 L123.5,75.31 L124,75.28 L124.5,75.24 L125,75.19 L125.5,75.13 L126,75.05 L126.5,74.96 L127,74.85 L127.5,74.72 L128,74.56 L128.5,74.38 L129,74.17 L129.5,73.94 L130,73.68 L130.5,73.39 L131,73.07 L131.5,72.74 L132,72.38 L132.5,72.01 L133,71.64 L133.5,71.26 L134,70.9 L134.5,70.55 L135,70.22 L135.5,69.93 L136,69.68 L136.5,69.47 L137,69.32 L137.5,69.23 L138,69.2 L138.5,69.21 L139,69.25 L139.5,69.31 L140,69.39 L140.5,69.5 L141,69.62 L141.5,69.77 L142,69.93 L142.5,70.11 L143,70.3 L143.5,70.5 L144,70.72 L144.5,70.94 L145,71.17 L145.5,71.4 L146,71.64 L146.5,71.87 L147,72.11 L147.5,72.34 L148,72.56 L148.5,72.78 L149,72.99 L149.5,73.19 L150,73.39 L150.5,73.57 L151,73.74 L151.5,73.91 L152,74.06 L152.5,74.2 L153,74.33 L153.5,74.45 L154,74.56 L154.5,74.66 L155,74.75 L155.5,74.83 L156,74.91 L156.5,74.97 L157,75.03 L157.5,75.08 L158,75.13 L158.5,75.17 L159,75.2 L159.5,75.23 L160,75.26 L160.5,75.28 L161,75.3 L161.5,75.32 L162,75.33 L162.5,75.34 L163,75.35 L163.5,75.36 L164,75.37 L164.5,75.37 L165,75.38 L165.5,75.38 L166,75.39 L166.5,75.39 L166.8,75.4Z" fill="#5EC3C6" fill-opacity="0.85" stroke="none"/>
<path d="M127.4,75.4 L127.4,75.13 L127.9,75.12 L128.4,75.1 L128.9,75.09 L129.4,75.07 L129.9,75.05 L130.4,75.03 L130.9,75.01 L131.4,74.98 L131.9,74.96 L132.4,74.93 L132.9,74.9 L133.4,74.86 L133.9,74.82 L134.4,74.78 L134.9,74.73 L135.4,74.67 L135.9,74.6 L136.4,74.53 L136.9,74.44 L137.4,74.32 L137.9,74.18 L138.4,73.99 L138.9,73.74 L139.4,73.41 L139.9,72.95 L140.4,72.33 L140.9,71.52 L141.4,70.45 L141.9,69.09 L142.4,67.41 L142.9,65.39 L143.4,63.06 L143.9,60.45 L144.4,57.66 L144.9,54.84 L145.4,52.18 L145.9,49.92 L146.4,48.32 L146.9,47.62 L147.4,47.75 L147.9,48.32 L148.4,49.3 L148.9,50.61 L149.4,52.18 L149.9,53.92 L150.4,55.77 L150.9,57.66 L151.4,59.53 L151.9,61.34 L152.4,63.06 L152.9,64.65 L153.4,66.1 L153.9,67.41 L154.4,68.57 L154.9,69.58 L155.4,70.45 L155.9,71.19 L156.4,71.81 L156.9,72.33 L157.4,72.76 L157.9,73.12 L158.4,73.41 L158.9,73.64 L159.4,73.83 L159.9,73.99 L160.4,74.12 L160.9,74.23 L161.4,74.32 L161.9,74.4 L162.4,74.47 L162.9,74.53 L163.4,74.58 L163.9,74.63 L164.4,74.67 L164.9,74.71 L165.4,74.74 L165.9,74.78 L166.4,74.81 L166.9,74.83 L167.4,74.86 L167.9,74.88 L168.4,74.91 L168.9,74.93 L169.4,74.95 L169.9,74.97 L170.4,74.98 L170.9,75 L171.4,75.02 L171.9,75.03 L172.4,75.04 L172.9,75.06 L173.4,75.07 L173.9,75.08 L174.4,75.09 L174.9,75.1 L175.4,75.11 L175.9,75.12 L176.4,75.13 L176.4,75.4Z" fill="#D2BF8C" fill-opacity="0.85" stroke="none"/>
<path d="M32.2,75.7L223,75.7" stroke="#8a8a8a" stroke-width="0.9"/>
<g fill="none" stroke="#555" stroke-width="0.5" stroke-opacity="0.85"><circle cx="33" cy="76.09" r="0.85"/><circle cx="34.5" cy="76.04" r="0.85"/><circle cx="36" cy="74.39" r="0.85"/><circle cx="37.5" cy="74.4" r="0.85"/><circle cx="39" cy="75.71" r="0.85"/><circle cx="40.5" cy="75.5" r="0.85"/><circle cx="42" cy="75.34" r="0.85"/><circle cx="43.5" cy="74.65" r="0.85"/><circle cx="45" cy="75.14" r="0.85"/><circle cx="46.5" cy="75.11" r="0.85"/><circle cx="48" cy="75.02" r="0.85"/><circle cx="49.5" cy="74.22" r="0.85"/><circle cx="51" cy="74.67" r="0.85"/><circle cx="52.5" cy="74.56" r="0.85"/><circle cx="54" cy="75.12" r="0.85"/><circle cx="55.5" cy="75.57" r="0.85"/><circle cx="57" cy="75.44" r="0.85"/><circle cx="58.5" cy="74.67" r="0.85"/><circle cx="60" cy="74.46" r="0.85"/><circle cx="61.5" cy="74.1" r="0.85"/><circle cx="63" cy="73.64" r="0.85"/><circle cx="64.5" cy="73.59" r="0.85"/><circle cx="66" cy="74.34" r="0.85"/><circle cx="67.5" cy="74.05" r="0.85"/><circle cx="69" cy="74.14" r="0.85"/><circle cx="70.5" cy="75.04" r="0.85"/><circle cx="72" cy="74.35" r="0.85"/><circle cx="73.5" cy="74.39" r="0.85"/><circle cx="75" cy="73.77" r="0.85"/><circle cx="76.5" cy="73.35" r="0.85"/><circle cx="78" cy="73.85" r="0.85"/><circle cx="79.5" cy="73.44" r="0.85"/><circle cx="81" cy="74.03" r="0.85"/><circle cx="82.5" cy="74.81" r="0.85"/><circle cx="84" cy="74.08" r="0.85"/><circle cx="85.5" cy="73" r="0.85"/><circle cx="87" cy="74.05" r="0.85"/><circle cx="88.5" cy="73.61" r="0.85"/><circle cx="90" cy="73.19" r="0.85"/><circle cx="91.5" cy="73.18" r="0.85"/><circle cx="93" cy="72.61" r="0.85"/><circle cx="94.5" cy="72.39" r="0.85"/><circle cx="96" cy="71.41" r="0.85"/><circle cx="97.5" cy="72.4" r="0.85"/><circle cx="99" cy="72.34" r="0.85"/><circle cx="100.5" cy="70.9" r="0.85"/><circle cx="102" cy="71.95" r="0.85"/><circle cx="103.5" cy="71.88" r="0.85"/><circle cx="105" cy="71.43" r="0.85"/><circle cx="106.5" cy="71.57" r="0.85"/><circle cx="108" cy="71.51" r="0.85"/><circle cx="109.5" cy="72.31" r="0.85"/><circle cx="111" cy="71.55" r="0.85"/><circle cx="112.5" cy="72.15" r="0.85"/><circle cx="114" cy="71.27" r="0.85"/><circle cx="115.5" cy="72.18" r="0.85"/><circle cx="117" cy="72.13" r="0.85"/><circle cx="118.5" cy="71.16" r="0.85"/><circle cx="120" cy="70.96" r="0.85"/><circle cx="121.5" cy="71.15" r="0.85"/><circle cx="123" cy="70.22" r="0.85"/><circle cx="124.5" cy="69.17" r="0.85"/><circle cx="126" cy="68.08" r="0.85"/><circle cx="127.5" cy="67.67" r="0.85"/><circle cx="129" cy="67.73" r="0.85"/><circle cx="130.5" cy="66.13" r="0.85"/><circle cx="132" cy="66.85" r="0.85"/><circle cx="133.5" cy="65.07" r="0.85"/><circle cx="135" cy="65.25" r="0.85"/><circle cx="136.5" cy="62.52" r="0.85"/><circle cx="138" cy="61.11" r="0.85"/><circle cx="139.5" cy="56.65" r="0.85"/><circle cx="141" cy="51.81" r="0.85"/><circle cx="142.5" cy="47.34" r="0.85"/><circle cx="144" cy="44.77" r="0.85"/><circle cx="145.5" cy="42.97" r="0.85"/><circle cx="147" cy="42.8" r="0.85"/><circle cx="148.5" cy="45.45" r="0.85"/><circle cx="150" cy="50.27" r="0.85"/><circle cx="151.5" cy="56.1" r="0.85"/><circle cx="153" cy="60.97" r="0.85"/><circle cx="154.5" cy="65.13" r="0.85"/><circle cx="156" cy="70.73" r="0.85"/><circle cx="157.5" cy="72.65" r="0.85"/><circle cx="159" cy="74.22" r="0.85"/><circle cx="160.5" cy="73.79" r="0.85"/><circle cx="162" cy="75.3" r="0.85"/><circle cx="163.5" cy="74.15" r="0.85"/><circle cx="165" cy="75.28" r="0.85"/><circle cx="166.5" cy="74.65" r="0.85"/><circle cx="168" cy="74.6" r="0.85"/><circle cx="169.5" cy="75.79" r="0.85"/><circle cx="171" cy="74.42" r="0.85"/><circle cx="172.5" cy="75.18" r="0.85"/><circle cx="174" cy="75.79" r="0.85"/><circle cx="175.5" cy="74.71" r="0.85"/><circle cx="177" cy="74.65" r="0.85"/><circle cx="178.5" cy="75.87" r="0.85"/><circle cx="180" cy="75.06" r="0.85"/><circle cx="181.5" cy="75.6" r="0.85"/><circle cx="183" cy="74.38" r="0.85"/><circle cx="184.5" cy="74.99" r="0.85"/><circle cx="186" cy="74.66" r="0.85"/><circle cx="187.5" cy="75.57" r="0.85"/><circle cx="189" cy="74.52" r="0.85"/><circle cx="190.5" cy="76.1" r="0.85"/><circle cx="192" cy="74.44" r="0.85"/><circle cx="193.5" cy="75.71" r="0.85"/><circle cx="195" cy="74.45" r="0.85"/><circle cx="196.5" cy="74.88" r="0.85"/><circle cx="198" cy="75.9" r="0.85"/><circle cx="199.5" cy="74.72" r="0.85"/><circle cx="201" cy="74.78" r="0.85"/><circle cx="202.5" cy="75.71" r="0.85"/><circle cx="204" cy="75.17" r="0.85"/><circle cx="205.5" cy="74.56" r="0.85"/><circle cx="207" cy="76.27" r="0.85"/><circle cx="208.5" cy="74.77" r="0.85"/><circle cx="210" cy="74.58" r="0.85"/><circle cx="211.5" cy="75.14" r="0.85"/><circle cx="213" cy="75.64" r="0.85"/><circle cx="214.5" cy="75.88" r="0.85"/><circle cx="216" cy="74.76" r="0.85"/><circle cx="217.5" cy="75.17" r="0.85"/><circle cx="219" cy="74.63" r="0.85"/><circle cx="220.5" cy="75.39" r="0.85"/><circle cx="222" cy="75.97" r="0.85"/></g>
<path d="M31.8,75.3C36.83,75.17 53.53,74.73 62,74.5C70.47,74.27 77.1,74.35 82.6,73.9C88.1,73.45 91.93,72.2 95,71.8C98.07,71.4 97.6,71.55 101,71.5C104.4,71.45 112.15,71.63 115.4,71.5C118.65,71.37 118.78,71.17 120.5,70.7C122.22,70.23 123.98,69.38 125.7,68.7C127.42,68.02 129.27,67.28 130.8,66.6C132.33,65.92 133.72,65.62 134.9,64.6C136.08,63.58 136.97,62.38 137.9,60.5C138.83,58.62 139.65,55.68 140.5,53.3C141.35,50.92 142.07,47.98 143,46.2C143.93,44.42 145.17,42.6 146.1,42.6C147.03,42.6 147.75,44.25 148.6,46.2C149.45,48.15 150.33,51.42 151.2,54.3C152.07,57.18 152.95,60.77 153.8,63.5C154.65,66.23 155.2,68.9 156.3,70.7C157.4,72.5 158.95,73.58 160.4,74.3C161.85,75.02 161.73,74.85 165,75C168.27,75.15 170.3,75.12 180,75.2C189.7,75.28 216,75.45 223.2,75.5" fill="none" stroke="#F37878" stroke-width="1.35" stroke-linejoin="round"/>
<path d="M138.7,52.8V80.3" fill="none" stroke="#111" stroke-width="1.0" stroke-linejoin="round" stroke-linecap="round" />
<path d="M60.4,110.88 L60.4,110.87 L60.9,110.87 L61.4,110.87 L61.9,110.87 L62.4,110.87 L62.9,110.87 L63.4,110.87 L63.9,110.87 L64.4,110.86 L64.9,110.86 L65.4,110.86 L65.9,110.86 L66.4,110.85 L66.9,110.85 L67.4,110.84 L67.9,110.84 L68.4,110.83 L68.9,110.82 L69.4,110.82 L69.9,110.81 L70.4,110.79 L70.9,110.78 L71.4,110.77 L71.9,110.75 L72.4,110.73 L72.9,110.72 L73.4,110.69 L73.9,110.67 L74.4,110.64 L74.9,110.62 L75.4,110.59 L75.9,110.55 L76.4,110.52 L76.9,110.48 L77.4,110.43 L77.9,110.39 L78.4,110.34 L78.9,110.29 L79.4,110.23 L79.9,110.17 L80.4,110.11 L80.9,110.04 L81.4,109.97 L81.9,109.9 L82.4,109.82 L82.9,109.74 L83.4,109.65 L83.9,109.57 L84.4,109.47 L84.9,109.38 L85.4,109.28 L85.9,109.18 L86.4,109.08 L86.9,108.98 L87.4,108.87 L87.9,108.76 L88.4,108.65 L88.9,108.55 L89.4,108.44 L89.9,108.33 L90.4,108.22 L90.9,108.11 L91.4,108.01 L91.9,107.91 L92.4,107.81 L92.9,107.71 L93.4,107.62 L93.9,107.53 L94.4,107.45 L94.9,107.37 L95.4,107.3 L95.9,107.24 L96.4,107.18 L96.9,107.13 L97.4,107.08 L97.9,107.04 L98.4,107.02 L98.9,107 L99.4,106.98 L99.9,106.98 L100.4,106.98 L100.9,106.99 L101.4,107.01 L101.9,107.04 L102.4,107.08 L102.9,107.12 L103.4,107.17 L103.9,107.23 L104.4,107.3 L104.9,107.37 L105.4,107.45 L105.9,107.53 L106.4,107.62 L106.9,107.71 L107.4,107.81 L107.9,107.91 L108.4,108.01 L108.9,108.12 L109.4,108.23 L109.9,108.34 L110.4,108.45 L110.9,108.56 L111.4,108.67 L111.9,108.78 L112.4,108.89 L112.9,109 L113.4,109.11 L113.9,109.21 L114.4,109.32 L114.9,109.42 L115.4,109.52 L115.9,109.61 L116.4,109.7 L116.9,109.79 L117.4,109.88 L117.9,109.96 L118.4,110.04 L118.9,110.11 L119.4,110.18 L119.9,110.25 L120.4,110.31 L120.9,110.37 L121.4,110.43 L121.9,110.48 L122.4,110.53 L122.9,110.58 L123.4,110.62 L123.9,110.66 L124.4,110.7 L124.9,110.73 L125.4,110.77 L125.9,110.8 L126.4,110.82 L126.9,110.85 L127.4,110.87 L127.9,110.89 L128.4,110.91 L128.9,110.93 L129.4,110.94 L129.9,110.96 L130.4,110.97 L130.9,110.98 L131.4,110.99 L131.9,111 L132.4,111.01 L132.9,111.02 L133.4,111.03 L133.9,111.03 L134.4,111.04 L134.9,111.04 L135.4,111.05 L135.9,111.05 L136.4,111.06 L136.9,111.06 L137.4,111.06 L137.9,111.07 L138.4,111.07 L138.9,111.07 L139.4,111.07 L139.6,111.08Z" fill="#2B64A8" fill-opacity="0.85" stroke="none"/>
<path d="M104.1,110.99 L104.1,110.98 L104.6,110.98 L105.1,110.98 L105.6,110.98 L106.1,110.98 L106.6,110.97 L107.1,110.97 L107.6,110.96 L108.1,110.95 L108.6,110.94 L109.1,110.93 L109.6,110.91 L110.1,110.89 L110.6,110.86 L111.1,110.83 L111.6,110.79 L112.1,110.74 L112.6,110.69 L113.1,110.63 L113.6,110.56 L114.1,110.47 L114.6,110.38 L115.1,110.28 L115.6,110.17 L116.1,110.05 L116.6,109.91 L117.1,109.77 L117.6,109.62 L118.1,109.46 L118.6,109.29 L119.1,109.12 L119.6,108.94 L120.1,108.77 L120.6,108.59 L121.1,108.42 L121.6,108.26 L122.1,108.11 L122.6,107.97 L123.1,107.85 L123.6,107.75 L124.1,107.66 L124.6,107.6 L125.1,107.56 L125.6,107.55 L126.1,107.55 L126.6,107.59 L127.1,107.64 L127.6,107.72 L128.1,107.82 L128.6,107.94 L129.1,108.07 L129.6,108.22 L130.1,108.38 L130.6,108.55 L131.1,108.72 L131.6,108.9 L132.1,109.08 L132.6,109.26 L133.1,109.43 L133.6,109.59 L134.1,109.75 L134.6,109.9 L135.1,110.04 L135.6,110.17 L136.1,110.29 L136.6,110.4 L137.1,110.5 L137.6,110.59 L138.1,110.66 L138.6,110.73 L139.1,110.79 L139.6,110.84 L140.1,110.89 L140.6,110.92 L141.1,110.96 L141.6,110.98 L142.1,111 L142.6,111.02 L143.1,111.04 L143.6,111.05 L144.1,111.06 L144.6,111.07 L145.1,111.08 L145.6,111.08 L146.1,111.09 L146.6,111.09 L147.1,111.09 L147.3,111.1Z" fill="#EE8A62" fill-opacity="0.85" stroke="none"/>
<path d="M121,111.03 L121,111.02 L121.5,111.02 L122,111.02 L122.5,111.01 L123,111.01 L123.5,110.99 L124,110.98 L124.5,110.96 L125,110.93 L125.5,110.9 L126,110.86 L126.5,110.81 L127,110.74 L127.5,110.66 L128,110.56 L128.5,110.45 L129,110.31 L129.5,110.15 L130,109.97 L130.5,109.76 L131,109.53 L131.5,109.27 L132,109 L132.5,108.7 L133,108.39 L133.5,108.06 L134,107.73 L134.5,107.4 L135,107.08 L135.5,106.77 L136,106.48 L136.5,106.22 L137,106 L137.5,105.82 L138,105.69 L138.5,105.61 L139,105.58 L139.5,105.59 L140,105.62 L140.5,105.68 L141,105.75 L141.5,105.85 L142,105.96 L142.5,106.09 L143,106.24 L143.5,106.4 L144,106.57 L144.5,106.75 L145,106.94 L145.5,107.14 L146,107.35 L146.5,107.55 L147,107.76 L147.5,107.97 L148,108.18 L148.5,108.39 L149,108.59 L149.5,108.78 L150,108.97 L150.5,109.15 L151,109.33 L151.5,109.49 L152,109.64 L152.5,109.79 L153,109.93 L153.5,110.05 L154,110.17 L154.5,110.28 L155,110.38 L155.5,110.47 L156,110.55 L156.5,110.62 L157,110.69 L157.5,110.75 L158,110.8 L158.5,110.85 L159,110.89 L159.5,110.93 L160,110.96 L160.5,110.99 L161,111.01 L161.5,111.03 L162,111.05 L162.5,111.07 L163,111.08 L163.5,111.09 L164,111.1 L164.5,111.11 L165,111.12 L165.5,111.13 L166,111.13 L166.5,111.14 L167,111.14 L167.5,111.14 L167.8,111.15Z" fill="#5EC3C6" fill-opacity="0.85" stroke="none"/>
<path d="M127,111.05 L127,110.77 L127.5,110.75 L128,110.74 L128.5,110.72 L129,110.71 L129.5,110.69 L130,110.67 L130.5,110.64 L131,110.62 L131.5,110.59 L132,110.56 L132.5,110.53 L133,110.49 L133.5,110.45 L134,110.41 L134.5,110.36 L135,110.3 L135.5,110.23 L136,110.15 L136.5,110.06 L137,109.94 L137.5,109.79 L138,109.59 L138.5,109.33 L139,108.98 L139.5,108.5 L140,107.85 L140.5,106.99 L141,105.87 L141.5,104.44 L142,102.67 L142.5,100.54 L143,98.08 L143.5,95.33 L144,92.4 L144.5,89.42 L145,86.62 L145.5,84.24 L146,82.56 L146.5,81.82 L147,81.95 L147.5,82.56 L148,83.59 L148.5,84.98 L149,86.63 L149.5,88.47 L150,90.42 L150.5,92.41 L151,94.39 L151.5,96.29 L152,98.1 L152.5,99.78 L153,101.32 L153.5,102.7 L154,103.92 L154.5,104.99 L155,105.9 L155.5,106.69 L156,107.34 L156.5,107.89 L157,108.35 L157.5,108.72 L158,109.03 L158.5,109.28 L159,109.48 L159.5,109.65 L160,109.79 L160.5,109.9 L161,110 L161.5,110.09 L162,110.16 L162.5,110.22 L163,110.28 L163.5,110.33 L164,110.37 L164.5,110.42 L165,110.46 L165.5,110.49 L166,110.52 L166.5,110.55 L167,110.58 L167.5,110.61 L168,110.64 L168.5,110.66 L169,110.68 L169.5,110.7 L170,110.72 L170.5,110.74 L171,110.76 L171.5,110.77 L172,110.79 L172.5,110.81 L173,110.82 L173.5,110.83 L174,110.85 L174.5,110.86 L175,110.87 L175.5,110.88 L176,110.89 L176,111.18Z" fill="#D2BF8C" fill-opacity="0.85" stroke="none"/>
<path d="M32.2,111.1L223,111.6" stroke="#8a8a8a" stroke-width="0.9"/>
<g fill="none" stroke="#555" stroke-width="0.5" stroke-opacity="0.85"><circle cx="33" cy="110.12" r="0.85"/><circle cx="34.5" cy="110.66" r="0.85"/><circle cx="36" cy="110.34" r="0.85"/><circle cx="37.5" cy="110.75" r="0.85"/><circle cx="39" cy="110.78" r="0.85"/><circle cx="40.5" cy="109.76" r="0.85"/><circle cx="42" cy="109.66" r="0.85"/><circle cx="43.5" cy="111.13" r="0.85"/><circle cx="45" cy="110.08" r="0.85"/><circle cx="46.5" cy="110.03" r="0.85"/><circle cx="48" cy="111.39" r="0.85"/><circle cx="49.5" cy="110.43" r="0.85"/><circle cx="51" cy="111.07" r="0.85"/><circle cx="52.5" cy="110.41" r="0.85"/><circle cx="54" cy="110.69" r="0.85"/><circle cx="55.5" cy="109.79" r="0.85"/><circle cx="57" cy="110.64" r="0.85"/><circle cx="58.5" cy="111.04" r="0.85"/><circle cx="60" cy="110.39" r="0.85"/><circle cx="61.5" cy="110.75" r="0.85"/><circle cx="63" cy="110.58" r="0.85"/><circle cx="64.5" cy="109.45" r="0.85"/><circle cx="66" cy="110.66" r="0.85"/><circle cx="67.5" cy="110.32" r="0.85"/><circle cx="69" cy="109.76" r="0.85"/><circle cx="70.5" cy="109.23" r="0.85"/><circle cx="72" cy="110.68" r="0.85"/><circle cx="73.5" cy="109.91" r="0.85"/><circle cx="75" cy="110.28" r="0.85"/><circle cx="76.5" cy="110.49" r="0.85"/><circle cx="78" cy="110.1" r="0.85"/><circle cx="79.5" cy="110.36" r="0.85"/><circle cx="81" cy="109.28" r="0.85"/><circle cx="82.5" cy="109.85" r="0.85"/><circle cx="84" cy="109.01" r="0.85"/><circle cx="85.5" cy="109.63" r="0.85"/><circle cx="87" cy="109.2" r="0.85"/><circle cx="88.5" cy="107.42" r="0.85"/><circle cx="90" cy="107.08" r="0.85"/><circle cx="91.5" cy="106.78" r="0.85"/><circle cx="93" cy="107.7" r="0.85"/><circle cx="94.5" cy="106.38" r="0.85"/><circle cx="96" cy="106.46" r="0.85"/><circle cx="97.5" cy="105.69" r="0.85"/><circle cx="99" cy="106.05" r="0.85"/><circle cx="100.5" cy="105.81" r="0.85"/><circle cx="102" cy="105.7" r="0.85"/><circle cx="103.5" cy="106.1" r="0.85"/><circle cx="105" cy="106.08" r="0.85"/><circle cx="106.5" cy="106.64" r="0.85"/><circle cx="108" cy="106.22" r="0.85"/><circle cx="109.5" cy="106.64" r="0.85"/><circle cx="111" cy="106.49" r="0.85"/><circle cx="112.5" cy="106.7" r="0.85"/><circle cx="114" cy="106.08" r="0.85"/><circle cx="115.5" cy="105.09" r="0.85"/><circle cx="117" cy="106.2" r="0.85"/><circle cx="118.5" cy="106.12" r="0.85"/><circle cx="120" cy="105.56" r="0.85"/><circle cx="121.5" cy="104.57" r="0.85"/><circle cx="123" cy="104.43" r="0.85"/><circle cx="124.5" cy="103.08" r="0.85"/><circle cx="126" cy="103.69" r="0.85"/><circle cx="127.5" cy="102.65" r="0.85"/><circle cx="129" cy="101.5" r="0.85"/><circle cx="130.5" cy="100.45" r="0.85"/><circle cx="132" cy="101.24" r="0.85"/><circle cx="133.5" cy="100.84" r="0.85"/><circle cx="135" cy="98.28" r="0.85"/><circle cx="136.5" cy="98.15" r="0.85"/><circle cx="138" cy="95.13" r="0.85"/><circle cx="139.5" cy="90.74" r="0.85"/><circle cx="141" cy="86.53" r="0.85"/><circle cx="142.5" cy="82.84" r="0.85"/><circle cx="144" cy="80.05" r="0.85"/><circle cx="145.5" cy="76.63" r="0.85"/><circle cx="147" cy="77.51" r="0.85"/><circle cx="148.5" cy="78.69" r="0.85"/><circle cx="150" cy="83.81" r="0.85"/><circle cx="151.5" cy="88" r="0.85"/><circle cx="153" cy="94.42" r="0.85"/><circle cx="154.5" cy="99.73" r="0.85"/><circle cx="156" cy="103.13" r="0.85"/><circle cx="157.5" cy="106.4" r="0.85"/><circle cx="159" cy="106.82" r="0.85"/><circle cx="160.5" cy="107.61" r="0.85"/><circle cx="162" cy="109.35" r="0.85"/><circle cx="163.5" cy="108.59" r="0.85"/><circle cx="165" cy="109.06" r="0.85"/><circle cx="166.5" cy="109.6" r="0.85"/><circle cx="168" cy="110.12" r="0.85"/><circle cx="169.5" cy="109.42" r="0.85"/><circle cx="171" cy="109.32" r="0.85"/><circle cx="172.5" cy="110.88" r="0.85"/><circle cx="174" cy="109.96" r="0.85"/><circle cx="175.5" cy="111.18" r="0.85"/><circle cx="177" cy="111.12" r="0.85"/><circle cx="178.5" cy="110.23" r="0.85"/><circle cx="180" cy="110.43" r="0.85"/><circle cx="181.5" cy="110.58" r="0.85"/><circle cx="183" cy="110.84" r="0.85"/><circle cx="184.5" cy="110.79" r="0.85"/><circle cx="186" cy="110.75" r="0.85"/><circle cx="187.5" cy="110.89" r="0.85"/><circle cx="189" cy="111.5" r="0.85"/><circle cx="190.5" cy="110.75" r="0.85"/><circle cx="192" cy="110.64" r="0.85"/><circle cx="193.5" cy="111.19" r="0.85"/><circle cx="195" cy="110.35" r="0.85"/><circle cx="196.5" cy="110.49" r="0.85"/><circle cx="198" cy="111.74" r="0.85"/><circle cx="199.5" cy="110.94" r="0.85"/><circle cx="201" cy="111.02" r="0.85"/><circle cx="202.5" cy="110.08" r="0.85"/><circle cx="204" cy="110.83" r="0.85"/><circle cx="205.5" cy="111.15" r="0.85"/><circle cx="207" cy="110.17" r="0.85"/><circle cx="208.5" cy="111.26" r="0.85"/><circle cx="210" cy="111.32" r="0.85"/><circle cx="211.5" cy="110.31" r="0.85"/><circle cx="213" cy="111.36" r="0.85"/><circle cx="214.5" cy="111.09" r="0.85"/><circle cx="216" cy="111.5" r="0.85"/><circle cx="217.5" cy="110.94" r="0.85"/><circle cx="219" cy="111.6" r="0.85"/><circle cx="220.5" cy="111.68" r="0.85"/><circle cx="222" cy="110.42" r="0.85"/></g>
<path d="M31.8,110.6C36.83,110.55 53.53,110.52 62,110.3C70.47,110.08 77.1,109.95 82.6,109.3C88.1,108.65 91.93,106.95 95,106.4C98.07,105.85 97.6,106.12 101,106C104.4,105.88 112.15,105.92 115.4,105.7C118.65,105.48 118.78,105.12 120.5,104.7C122.22,104.28 123.98,103.8 125.7,103.2C127.42,102.6 129.27,101.78 130.8,101.1C132.33,100.42 133.72,100.03 134.9,99.1C136.08,98.17 136.97,97.28 137.9,95.5C138.83,93.72 139.65,90.78 140.5,88.4C141.35,86.02 142.07,83.08 143,81.2C143.93,79.32 145.17,77.35 146.1,77.1C147.03,76.85 147.75,78 148.6,79.7C149.45,81.4 150.33,84.5 151.2,87.3C152.07,90.1 152.95,93.77 153.8,96.5C154.65,99.23 155.2,101.73 156.3,103.7C157.4,105.67 158.95,107.32 160.4,108.3C161.85,109.28 161.73,109.23 165,109.6C168.27,109.97 170.3,110.22 180,110.5C189.7,110.78 216,111.17 223.2,111.3" fill="none" stroke="#F37878" stroke-width="1.35" stroke-linejoin="round"/>
<path d="M138.4,88.9V116.2L142.3,117.3V143.5" fill="none" stroke="#111" stroke-width="1.0" stroke-linejoin="round" stroke-linecap="round" stroke-linejoin="miter"/>
<path d="M64,140.78 L64,140.78 L64.5,140.78 L65,140.78 L65.5,140.78 L66,140.78 L66.5,140.79 L67,140.79 L67.5,140.79 L68,140.79 L68.5,140.79 L69,140.79 L69.5,140.79 L70,140.79 L70.5,140.79 L71,140.79 L71.5,140.79 L72,140.78 L72.5,140.78 L73,140.78 L73.5,140.77 L74,140.77 L74.5,140.76 L75,140.75 L75.5,140.74 L76,140.73 L76.5,140.72 L77,140.71 L77.5,140.69 L78,140.68 L78.5,140.66 L79,140.64 L79.5,140.62 L80,140.6 L80.5,140.57 L81,140.54 L81.5,140.51 L82,140.48 L82.5,140.45 L83,140.41 L83.5,140.37 L84,140.33 L84.5,140.29 L85,140.24 L85.5,140.2 L86,140.15 L86.5,140.1 L87,140.05 L87.5,139.99 L88,139.94 L88.5,139.88 L89,139.82 L89.5,139.77 L90,139.71 L90.5,139.65 L91,139.59 L91.5,139.54 L92,139.48 L92.5,139.43 L93,139.37 L93.5,139.32 L94,139.27 L94.5,139.23 L95,139.18 L95.5,139.14 L96,139.11 L96.5,139.08 L97,139.05 L97.5,139.02 L98,139.01 L98.5,138.99 L99,138.98 L99.5,138.98 L100,138.98 L100.5,138.98 L101,138.99 L101.5,139.01 L102,139.03 L102.5,139.05 L103,139.08 L103.5,139.11 L104,139.15 L104.5,139.19 L105,139.24 L105.5,139.29 L106,139.34 L106.5,139.39 L107,139.45 L107.5,139.51 L108,139.57 L108.5,139.63 L109,139.69 L109.5,139.76 L110,139.82 L110.5,139.88 L111,139.95 L111.5,140.01 L112,140.07 L112.5,140.13 L113,140.19 L113.5,140.25 L114,140.3 L114.5,140.36 L115,140.41 L115.5,140.46 L116,140.51 L116.5,140.55 L117,140.6 L117.5,140.64 L118,140.68 L118.5,140.72 L119,140.75 L119.5,140.79 L120,140.82 L120.5,140.84 L121,140.87 L121.5,140.9 L122,140.92 L122.5,140.94 L123,140.96 L123.5,140.98 L124,141 L124.5,141.01 L125,141.03 L125.5,141.04 L126,141.05 L126.5,141.06 L127,141.07 L127.5,141.08 L128,141.09 L128.5,141.1 L129,141.11 L129.5,141.11 L130,141.12 L130.5,141.13 L131,141.13 L131.5,141.14 L132,141.14 L132.5,141.15 L133,141.15 L133.5,141.15 L134,141.16 L134.5,141.16 L135,141.16 L135.5,141.17 L136,141.17 L136,141.17Z" fill="#2B64A8" fill-opacity="0.85" stroke="none"/>
<path d="M102.5,140.99 L102.5,140.99 L103,140.99 L103.5,140.99 L104,140.99 L104.5,140.99 L105,140.99 L105.5,140.98 L106,140.98 L106.5,140.98 L107,140.97 L107.5,140.96 L108,140.95 L108.5,140.94 L109,140.93 L109.5,140.91 L110,140.89 L110.5,140.86 L111,140.83 L111.5,140.8 L112,140.76 L112.5,140.71 L113,140.66 L113.5,140.6 L114,140.54 L114.5,140.47 L115,140.38 L115.5,140.3 L116,140.2 L116.5,140.09 L117,139.98 L117.5,139.86 L118,139.74 L118.5,139.6 L119,139.46 L119.5,139.32 L120,139.18 L120.5,139.03 L121,138.88 L121.5,138.73 L122,138.59 L122.5,138.44 L123,138.31 L123.5,138.18 L124,138.07 L124.5,137.96 L125,137.87 L125.5,137.79 L126,137.72 L126.5,137.67 L127,137.64 L127.5,137.63 L128,137.63 L128.5,137.66 L129,137.7 L129.5,137.75 L130,137.83 L130.5,137.91 L131,138.02 L131.5,138.13 L132,138.25 L132.5,138.39 L133,138.53 L133.5,138.68 L134,138.83 L134.5,138.98 L135,139.14 L135.5,139.29 L136,139.44 L136.5,139.59 L137,139.73 L137.5,139.87 L138,140 L138.5,140.12 L139,140.24 L139.5,140.35 L140,140.45 L140.5,140.54 L141,140.63 L141.5,140.7 L142,140.77 L142.5,140.84 L143,140.89 L143.5,140.94 L144,140.99 L144.5,141.03 L145,141.06 L145.5,141.09 L146,141.11 L146.5,141.14 L147,141.16 L147.5,141.17 L148,141.19 L148.5,141.2 L149,141.21 L149.5,141.22 L150,141.23 L150.5,141.24 L151,141.24 L151.5,141.25 L152,141.25 L152.5,141.26 L152.9,141.27Z" fill="#EE8A62" fill-opacity="0.85" stroke="none"/>
<path d="M122,141.1 L122,141.09 L122.5,141.09 L123,141.09 L123.5,141.09 L124,141.08 L124.5,141.07 L125,141.06 L125.5,141.05 L126,141.02 L126.5,141 L127,140.96 L127.5,140.92 L128,140.86 L128.5,140.79 L129,140.71 L129.5,140.61 L130,140.49 L130.5,140.36 L131,140.2 L131.5,140.02 L132,139.82 L132.5,139.6 L133,139.36 L133.5,139.1 L134,138.83 L134.5,138.55 L135,138.26 L135.5,137.97 L136,137.69 L136.5,137.42 L137,137.17 L137.5,136.95 L138,136.75 L138.5,136.6 L139,136.49 L139.5,136.42 L140,136.4 L140.5,136.41 L141,136.45 L141.5,136.51 L142,136.6 L142.5,136.71 L143,136.83 L143.5,136.98 L144,137.14 L144.5,137.32 L145,137.51 L145.5,137.7 L146,137.91 L146.5,138.11 L147,138.32 L147.5,138.53 L148,138.74 L148.5,138.95 L149,139.15 L149.5,139.34 L150,139.52 L150.5,139.7 L151,139.86 L151.5,140.02 L152,140.16 L152.5,140.29 L153,140.41 L153.5,140.52 L154,140.62 L154.5,140.71 L155,140.8 L155.5,140.87 L156,140.93 L156.5,140.99 L157,141.04 L157.5,141.08 L158,141.12 L158.5,141.15 L159,141.18 L159.5,141.2 L160,141.23 L160.5,141.24 L161,141.26 L161.5,141.27 L162,141.28 L162.5,141.29 L163,141.3 L163.5,141.31 L164,141.32 L164.5,141.32 L165,141.33 L165.2,141.34Z" fill="#5EC3C6" fill-opacity="0.85" stroke="none"/>
<path d="M131.9,141.15 L131.9,140.95 L132.4,140.94 L132.9,140.93 L133.4,140.91 L133.9,140.89 L134.4,140.88 L134.9,140.85 L135.4,140.83 L135.9,140.8 L136.4,140.77 L136.9,140.73 L137.4,140.69 L137.9,140.63 L138.4,140.57 L138.9,140.49 L139.4,140.38 L139.9,140.23 L140.4,140.02 L140.9,139.69 L141.4,139.21 L141.9,138.5 L142.4,137.47 L142.9,136.05 L143.4,134.19 L143.9,131.89 L144.4,129.23 L144.9,126.4 L145.4,123.68 L145.9,121.51 L146.4,120.34 L146.9,120.34 L147.4,120.97 L147.9,122.1 L148.4,123.61 L148.9,125.35 L149.4,127.21 L149.9,129.07 L150.4,130.87 L150.9,132.53 L151.4,134.03 L151.9,135.33 L152.4,136.44 L152.9,137.37 L153.4,138.12 L153.9,138.72 L154.4,139.19 L154.9,139.55 L155.4,139.83 L155.9,140.05 L156.4,140.22 L156.9,140.35 L157.4,140.45 L157.9,140.53 L158.4,140.6 L158.9,140.66 L159.4,140.71 L159.9,140.76 L160.4,140.8 L160.9,140.83 L161.4,140.87 L161.9,140.9 L162.4,140.92 L162.9,140.95 L163.4,140.97 L163.9,141 L164.4,141.02 L164.9,141.03 L165.4,141.05 L165.9,141.07 L166.4,141.09 L166.9,141.1 L167.4,141.11 L167.9,141.13 L168.4,141.14 L168.9,141.15 L169,141.36Z" fill="#D2BF8C" fill-opacity="0.85" stroke="none"/>
<path d="M32.2,140.9L223,141.95" stroke="#8a8a8a" stroke-width="0.9"/>
<g fill="none" stroke="#555" stroke-width="0.5" stroke-opacity="0.85"><circle cx="33" cy="139.91" r="0.85"/><circle cx="34.5" cy="139.65" r="0.85"/><circle cx="36" cy="140.17" r="0.85"/><circle cx="37.5" cy="139.72" r="0.85"/><circle cx="39" cy="139.54" r="0.85"/><circle cx="40.5" cy="140.13" r="0.85"/><circle cx="42" cy="141.05" r="0.85"/><circle cx="43.5" cy="140.82" r="0.85"/><circle cx="45" cy="140.74" r="0.85"/><circle cx="46.5" cy="139.74" r="0.85"/><circle cx="48" cy="140.29" r="0.85"/><circle cx="49.5" cy="139.8" r="0.85"/><circle cx="51" cy="139.59" r="0.85"/><circle cx="52.5" cy="139.45" r="0.85"/><circle cx="54" cy="139.61" r="0.85"/><circle cx="55.5" cy="140.87" r="0.85"/><circle cx="57" cy="140.66" r="0.85"/><circle cx="58.5" cy="140.59" r="0.85"/><circle cx="60" cy="140.54" r="0.85"/><circle cx="61.5" cy="139.41" r="0.85"/><circle cx="63" cy="139.58" r="0.85"/><circle cx="64.5" cy="140.1" r="0.85"/><circle cx="66" cy="140.24" r="0.85"/><circle cx="67.5" cy="140.42" r="0.85"/><circle cx="69" cy="140.41" r="0.85"/><circle cx="70.5" cy="138.94" r="0.85"/><circle cx="72" cy="139.82" r="0.85"/><circle cx="73.5" cy="139.89" r="0.85"/><circle cx="75" cy="139.53" r="0.85"/><circle cx="76.5" cy="138.89" r="0.85"/><circle cx="78" cy="139.37" r="0.85"/><circle cx="79.5" cy="138.62" r="0.85"/><circle cx="81" cy="140.09" r="0.85"/><circle cx="82.5" cy="139.91" r="0.85"/><circle cx="84" cy="139.28" r="0.85"/><circle cx="85.5" cy="138.78" r="0.85"/><circle cx="87" cy="139.82" r="0.85"/><circle cx="88.5" cy="139.16" r="0.85"/><circle cx="90" cy="139.66" r="0.85"/><circle cx="91.5" cy="139.55" r="0.85"/><circle cx="93" cy="138.88" r="0.85"/><circle cx="94.5" cy="138.66" r="0.85"/><circle cx="96" cy="138.95" r="0.85"/><circle cx="97.5" cy="138.59" r="0.85"/><circle cx="99" cy="138.06" r="0.85"/><circle cx="100.5" cy="138.27" r="0.85"/><circle cx="102" cy="139.15" r="0.85"/><circle cx="103.5" cy="137.72" r="0.85"/><circle cx="105" cy="137.69" r="0.85"/><circle cx="106.5" cy="138.69" r="0.85"/><circle cx="108" cy="138.04" r="0.85"/><circle cx="109.5" cy="138.47" r="0.85"/><circle cx="111" cy="138.33" r="0.85"/><circle cx="112.5" cy="138.05" r="0.85"/><circle cx="114" cy="139.17" r="0.85"/><circle cx="115.5" cy="137.65" r="0.85"/><circle cx="117" cy="137.93" r="0.85"/><circle cx="118.5" cy="137.44" r="0.85"/><circle cx="120" cy="138.09" r="0.85"/><circle cx="121.5" cy="137.3" r="0.85"/><circle cx="123" cy="137.29" r="0.85"/><circle cx="124.5" cy="137.81" r="0.85"/><circle cx="126" cy="136.83" r="0.85"/><circle cx="127.5" cy="136.99" r="0.85"/><circle cx="129" cy="137.28" r="0.85"/><circle cx="130.5" cy="135.41" r="0.85"/><circle cx="132" cy="134.84" r="0.85"/><circle cx="133.5" cy="134.55" r="0.85"/><circle cx="135" cy="134.71" r="0.85"/><circle cx="136.5" cy="133.35" r="0.85"/><circle cx="138" cy="131.43" r="0.85"/><circle cx="139.5" cy="129.95" r="0.85"/><circle cx="141" cy="126.6" r="0.85"/><circle cx="142.5" cy="122.33" r="0.85"/><circle cx="144" cy="117.48" r="0.85"/><circle cx="145.5" cy="115.41" r="0.85"/><circle cx="147" cy="115.47" r="0.85"/><circle cx="148.5" cy="116.84" r="0.85"/><circle cx="150" cy="121.13" r="0.85"/><circle cx="151.5" cy="127.61" r="0.85"/><circle cx="153" cy="131.68" r="0.85"/><circle cx="154.5" cy="136.26" r="0.85"/><circle cx="156" cy="140.07" r="0.85"/><circle cx="157.5" cy="140.95" r="0.85"/><circle cx="159" cy="140.81" r="0.85"/><circle cx="160.5" cy="141.99" r="0.85"/><circle cx="162" cy="141.47" r="0.85"/><circle cx="163.5" cy="141.85" r="0.85"/><circle cx="165" cy="140.93" r="0.85"/><circle cx="166.5" cy="140.75" r="0.85"/><circle cx="168" cy="141.19" r="0.85"/><circle cx="169.5" cy="140.6" r="0.85"/><circle cx="171" cy="141.01" r="0.85"/><circle cx="172.5" cy="142.03" r="0.85"/><circle cx="174" cy="140.88" r="0.85"/><circle cx="175.5" cy="140.29" r="0.85"/><circle cx="177" cy="140.36" r="0.85"/><circle cx="178.5" cy="140.59" r="0.85"/><circle cx="180" cy="141.71" r="0.85"/><circle cx="181.5" cy="140.97" r="0.85"/><circle cx="183" cy="140.86" r="0.85"/><circle cx="184.5" cy="140.53" r="0.85"/><circle cx="186" cy="142.14" r="0.85"/><circle cx="187.5" cy="141.16" r="0.85"/><circle cx="189" cy="140.8" r="0.85"/><circle cx="190.5" cy="140.55" r="0.85"/><circle cx="192" cy="140.57" r="0.85"/><circle cx="193.5" cy="140.8" r="0.85"/><circle cx="195" cy="141.74" r="0.85"/><circle cx="196.5" cy="140.81" r="0.85"/><circle cx="198" cy="140.64" r="0.85"/><circle cx="199.5" cy="141.48" r="0.85"/><circle cx="201" cy="141.07" r="0.85"/><circle cx="202.5" cy="142.44" r="0.85"/><circle cx="204" cy="140.89" r="0.85"/><circle cx="205.5" cy="141.65" r="0.85"/><circle cx="207" cy="142.11" r="0.85"/><circle cx="208.5" cy="141.48" r="0.85"/><circle cx="210" cy="142.55" r="0.85"/><circle cx="211.5" cy="141.66" r="0.85"/><circle cx="213" cy="141.26" r="0.85"/><circle cx="214.5" cy="141.59" r="0.85"/><circle cx="216" cy="140.94" r="0.85"/><circle cx="217.5" cy="141.66" r="0.85"/><circle cx="219" cy="141.38" r="0.85"/><circle cx="220.5" cy="142.56" r="0.85"/><circle cx="222" cy="142.48" r="0.85"/></g>
<path d="M31.8,140.4C36.5,140.33 49.47,140.27 60,140C70.53,139.73 87.47,139.05 95,138.8C102.53,138.55 101.8,138.6 105.2,138.5C108.6,138.4 111.98,138.42 115.4,138.2C118.82,137.98 122.97,137.62 125.7,137.2C128.43,136.78 130.1,136.3 131.8,135.7C133.5,135.1 134.53,134.63 135.9,133.6C137.27,132.57 138.9,131.37 140,129.5C141.1,127.63 141.65,124.7 142.5,122.4C143.35,120.1 144.42,116.98 145.1,115.7C145.78,114.42 146.02,114.62 146.6,114.7C147.18,114.78 147.92,114.75 148.6,116.2C149.28,117.65 150.02,120.83 150.7,123.4C151.38,125.97 151.93,129.13 152.7,131.6C153.47,134.07 154.35,136.67 155.3,138.2C156.25,139.73 156.78,140.28 158.4,140.8C160.02,141.32 161.4,141.23 165,141.3C168.6,141.37 170.3,141.1 180,141.2C189.7,141.3 216,141.78 223.2,141.9" fill="none" stroke="#F37878" stroke-width="1.35" stroke-linejoin="round"/>
<text x="36.6" y="30.4" font-size="11.3" fill="#4FC4C4" stroke="#4FC4C4" stroke-width="0.22" text-anchor="start" >V<tspan font-size="8.81" dy="3.4">O</tspan><tspan dy="-3.4">-Ru/HfO</tspan><tspan font-size="8.81" dy="3.4">2</tspan><tspan dy="-3.4">-P</tspan></text>
<text x="36.1" y="64.2" font-size="11.3" fill="#3D6CC0" stroke="#3D6CC0" stroke-width="0.22" text-anchor="start" >V<tspan font-size="8.81" dy="3.4">O</tspan><tspan dy="-3.4">-Ru/HfO</tspan><tspan font-size="8.81" dy="3.4">2</tspan><tspan dy="-3.4">-O</tspan></text>
<text x="36.1" y="98.8" font-size="11.3" fill="#F47272" stroke="#F47272" stroke-width="0.22" text-anchor="start" >V<tspan font-size="8.81" dy="3.4">O</tspan><tspan dy="-3.4">-Ru/HfO</tspan><tspan font-size="8.81" dy="3.4">2</tspan><tspan dy="-3.4">-OP</tspan></text>
<text x="44.6" y="136.9" font-size="11.3" fill="#C9B47C" stroke="#C9B47C" stroke-width="0.22" text-anchor="start" >Ru</text>
<text x="34.1" y="13.9" font-size="11.3" fill="#000" stroke="#000" stroke-width="0.22" text-anchor="start" >C 1<tspan font-style="italic">s</tspan> + Ru 3<tspan font-style="italic">d</tspan></text>
<path d="M260.2,39.8 L260.2,39.79 L260.7,39.79 L261.2,39.79 L261.7,39.79 L262.2,39.79 L262.7,39.79 L263.2,39.79 L263.7,39.79 L264.2,39.78 L264.7,39.78 L265.2,39.78 L265.7,39.78 L266.2,39.78 L266.7,39.77 L267.2,39.77 L267.7,39.76 L268.2,39.76 L268.7,39.75 L269.2,39.75 L269.7,39.74 L270.2,39.73 L270.7,39.72 L271.2,39.71 L271.7,39.7 L272.2,39.69 L272.7,39.68 L273.2,39.66 L273.7,39.65 L274.2,39.63 L274.7,39.62 L275.2,39.6 L275.7,39.58 L276.2,39.55 L276.7,39.53 L277.2,39.5 L277.7,39.48 L278.2,39.45 L278.7,39.41 L279.2,39.38 L279.7,39.34 L280.2,39.31 L280.7,39.27 L281.2,39.22 L281.7,39.18 L282.2,39.13 L282.7,39.08 L283.2,39.03 L283.7,38.97 L284.2,38.91 L284.7,38.85 L285.2,38.78 L285.7,38.72 L286.2,38.65 L286.7,38.57 L287.2,38.49 L287.7,38.41 L288.2,38.33 L288.7,38.24 L289.2,38.15 L289.7,38.06 L290.2,37.96 L290.7,37.86 L291.2,37.76 L291.7,37.66 L292.2,37.55 L292.7,37.44 L293.2,37.32 L293.7,37.21 L294.2,37.09 L294.7,36.97 L295.2,36.84 L295.7,36.72 L296.2,36.59 L296.7,36.46 L297.2,36.33 L297.7,36.2 L298.2,36.06 L298.7,35.93 L299.2,35.79 L299.7,35.66 L300.2,35.52 L300.7,35.38 L301.2,35.25 L301.7,35.11 L302.2,34.98 L302.7,34.85 L303.2,34.72 L303.7,34.59 L304.2,34.46 L304.7,34.34 L305.2,34.22 L305.7,34.1 L306.2,33.98 L306.7,33.87 L307.2,33.76 L307.7,33.66 L308.2,33.56 L308.7,33.47 L309.2,33.38 L309.7,33.3 L310.2,33.22 L310.7,33.15 L311.2,33.08 L311.7,33.02 L312.2,32.97 L312.7,32.92 L313.2,32.88 L313.7,32.85 L314.2,32.82 L314.7,32.8 L315.2,32.79 L315.7,32.78 L316.2,32.78 L316.7,32.79 L317.2,32.81 L317.7,32.83 L318.2,32.86 L318.7,32.9 L319.2,32.94 L319.7,32.99 L320.2,33.05 L320.7,33.11 L321.2,33.18 L321.7,33.26 L322.2,33.34 L322.7,33.43 L323.2,33.52 L323.7,33.62 L324.2,33.72 L324.7,33.83 L325.2,33.94 L325.7,34.06 L326.2,34.18 L326.7,34.3 L327.2,34.42 L327.7,34.55 L328.2,34.69 L328.7,34.82 L329.2,34.95 L329.7,35.09 L330.2,35.23 L330.7,35.37 L331.2,35.51 L331.7,35.65 L332.2,35.79 L332.7,35.93 L333.2,36.07 L333.7,36.21 L334.2,36.35 L334.7,36.49 L335.2,36.63 L335.7,36.76 L336.2,36.89 L336.7,37.02 L337.2,37.15 L337.7,37.28 L338.2,37.41 L338.7,37.53 L339.2,37.65 L339.7,37.76 L340.2,37.88 L340.7,37.99 L341.2,38.1 L341.7,38.2 L342.2,38.3 L342.7,38.4 L343.2,38.5 L343.7,38.59 L344.2,38.68 L344.7,38.77 L345.2,38.85 L345.7,38.93 L346.2,39 L346.7,39.08 L347.2,39.15 L347.7,39.22 L348.2,39.28 L348.7,39.34 L349.2,39.4 L349.7,39.46 L350.2,39.51 L350.7,39.56 L351.2,39.61 L351.7,39.66 L352.2,39.7 L352.7,39.74 L353.2,39.78 L353.7,39.82 L354.2,39.85 L354.7,39.88 L355.2,39.92 L355.7,39.94 L356.2,39.97 L356.7,40 L357.2,40.02 L357.7,40.05 L358.2,40.07 L358.7,40.09 L359.2,40.11 L359.7,40.13 L360.2,40.14 L360.7,40.16 L361.2,40.17 L361.7,40.19 L362.2,40.2 L362.7,40.21 L363.2,40.22 L363.7,40.24 L364.2,40.25 L364.7,40.25 L365.2,40.26 L365.7,40.27 L366.2,40.28 L366.7,40.29 L367.2,40.29 L367.7,40.3 L368.2,40.31 L368.7,40.31 L369.2,40.32 L369.7,40.32 L370.2,40.33 L370.7,40.33 L371.2,40.34 L371.7,40.34 L372.2,40.35 L372.7,40.35 L373.2,40.36 L373.6,40.37Z" fill="#8A86CF" fill-opacity="0.85" stroke="none"/>
<path d="M304.1,40.02 L304.1,40 L304.6,40 L305.1,40 L305.6,40 L306.1,40 L306.6,39.99 L307.1,39.99 L307.6,39.98 L308.1,39.98 L308.6,39.97 L309.1,39.96 L309.6,39.95 L310.1,39.94 L310.6,39.92 L311.1,39.91 L311.6,39.89 L312.1,39.86 L312.6,39.84 L313.1,39.81 L313.6,39.78 L314.1,39.74 L314.6,39.7 L315.1,39.66 L315.6,39.61 L316.1,39.55 L316.6,39.49 L317.1,39.43 L317.6,39.35 L318.1,39.27 L318.6,39.18 L319.1,39.09 L319.6,38.98 L320.1,38.87 L320.6,38.75 L321.1,38.62 L321.6,38.48 L322.1,38.32 L322.6,38.16 L323.1,37.99 L323.6,37.8 L324.1,37.61 L324.6,37.4 L325.1,37.18 L325.6,36.95 L326.1,36.71 L326.6,36.46 L327.1,36.2 L327.6,35.93 L328.1,35.64 L328.6,35.35 L329.1,35.05 L329.6,34.74 L330.1,34.43 L330.6,34.1 L331.1,33.78 L331.6,33.44 L332.1,33.11 L332.6,32.77 L333.1,32.44 L333.6,32.1 L334.1,31.77 L334.6,31.44 L335.1,31.12 L335.6,30.8 L336.1,30.49 L336.6,30.2 L337.1,29.91 L337.6,29.64 L338.1,29.39 L338.6,29.15 L339.1,28.93 L339.6,28.73 L340.1,28.54 L340.6,28.38 L341.1,28.25 L341.6,28.13 L342.1,28.04 L342.6,27.98 L343.1,27.94 L343.6,27.92 L344.1,27.93 L344.6,27.97 L345.1,28.03 L345.6,28.11 L346.1,28.22 L346.6,28.36 L347.1,28.51 L347.6,28.69 L348.1,28.89 L348.6,29.11 L349.1,29.34 L349.6,29.6 L350.1,29.87 L350.6,30.15 L351.1,30.45 L351.6,30.76 L352.1,31.07 L352.6,31.4 L353.1,31.73 L353.6,32.07 L354.1,32.41 L354.6,32.75 L355.1,33.09 L355.6,33.43 L356.1,33.77 L356.6,34.1 L357.1,34.43 L357.6,34.75 L358.1,35.07 L358.6,35.38 L359.1,35.68 L359.6,35.97 L360.1,36.26 L360.6,36.53 L361.1,36.79 L361.6,37.04 L362.1,37.28 L362.6,37.5 L363.1,37.72 L363.6,37.93 L364.1,38.12 L364.6,38.3 L365.1,38.47 L365.6,38.64 L366.1,38.79 L366.6,38.93 L367.1,39.06 L367.6,39.18 L368.1,39.29 L368.6,39.4 L369.1,39.49 L369.6,39.58 L370.1,39.66 L370.6,39.74 L371.1,39.81 L371.6,39.87 L372.1,39.92 L372.6,39.98 L373.1,40.02 L373.6,40.06 L374.1,40.1 L374.6,40.14 L375.1,40.17 L375.6,40.2 L376.1,40.22 L376.6,40.25 L377.1,40.27 L377.6,40.28 L378.1,40.3 L378.6,40.32 L379.1,40.33 L379.6,40.34 L380.1,40.35 L380.6,40.36 L381.1,40.37 L381.6,40.38 L382.1,40.39 L382.6,40.39 L383.1,40.4 L383.3,40.42Z" fill="#5EC3C6" fill-opacity="0.85" stroke="none"/>
<path d="M341.1,40.21 L341.1,40.17 L341.6,40.16 L342.1,40.15 L342.6,40.14 L343.1,40.13 L343.6,40.11 L344.1,40.09 L344.6,40.07 L345.1,40.04 L345.6,40.01 L346.1,39.97 L346.6,39.92 L347.1,39.87 L347.6,39.8 L348.1,39.73 L348.6,39.65 L349.1,39.55 L349.6,39.44 L350.1,39.32 L350.6,39.18 L351.1,39.02 L351.6,38.84 L352.1,38.64 L352.6,38.41 L353.1,38.16 L353.6,37.88 L354.1,37.58 L354.6,37.24 L355.1,36.88 L355.6,36.48 L356.1,36.04 L356.6,35.57 L357.1,35.06 L357.6,34.51 L358.1,33.93 L358.6,33.31 L359.1,32.65 L359.6,31.96 L360.1,31.23 L360.6,30.46 L361.1,29.66 L361.6,28.84 L362.1,27.98 L362.6,27.11 L363.1,26.21 L363.6,25.3 L364.1,24.38 L364.6,23.46 L365.1,22.54 L365.6,21.62 L366.1,20.72 L366.6,19.84 L367.1,18.98 L367.6,18.16 L368.1,17.37 L368.6,16.63 L369.1,15.95 L369.6,15.31 L370.1,14.75 L370.6,14.25 L371.1,13.82 L371.6,13.47 L372.1,13.19 L372.6,13 L373.1,12.9 L373.6,12.87 L374.1,12.9 L374.6,12.98 L375.1,13.1 L375.6,13.27 L376.1,13.47 L376.6,13.72 L377.1,14.01 L377.6,14.33 L378.1,14.69 L378.6,15.09 L379.1,15.52 L379.6,15.99 L380.1,16.48 L380.6,17 L381.1,17.55 L381.6,18.12 L382.1,18.71 L382.6,19.32 L383.1,19.94 L383.6,20.58 L384.1,21.23 L384.6,21.89 L385.1,22.55 L385.6,23.22 L386.1,23.89 L386.6,24.56 L387.1,25.22 L387.6,25.88 L388.1,26.54 L388.6,27.19 L389.1,27.83 L389.6,28.45 L390.1,29.07 L390.6,29.67 L391.1,30.25 L391.6,30.82 L392.1,31.37 L392.6,31.91 L393.1,32.42 L393.6,32.92 L394.1,33.4 L394.6,33.86 L395.1,34.3 L395.6,34.72 L396.1,35.12 L396.6,35.5 L397.1,35.86 L397.6,36.2 L398.1,36.53 L398.6,36.83 L399.1,37.12 L399.6,37.39 L400.1,37.65 L400.6,37.88 L401.1,38.11 L401.6,38.31 L402.1,38.51 L402.6,38.69 L403.1,38.85 L403.6,39.01 L404.1,39.15 L404.6,39.28 L405.1,39.4 L405.6,39.51 L406.1,39.62 L406.6,39.71 L407.1,39.8 L407.6,39.87 L408.1,39.95 L408.6,40.01 L409.1,40.07 L409.6,40.13 L410.1,40.17 L410.6,40.22 L411.1,40.26 L411.6,40.3 L412.1,40.33 L412.6,40.36 L413.1,40.39 L413.6,40.41 L414.1,40.43 L414.6,40.45 L415.1,40.47 L415.6,40.49 L416.1,40.5 L416.6,40.51 L417.1,40.53 L417.6,40.54 L418.1,40.55 L418.5,40.59Z" fill="#D2BF8C" fill-opacity="0.85" stroke="none"/>
<path d="M260.2,40.1L450.2,41.05" stroke="#8a8a8a" stroke-width="0.9"/>
<g fill="none" stroke="#555" stroke-width="0.5" stroke-opacity="0.85"><circle cx="261" cy="38.89" r="0.85"/><circle cx="262.5" cy="39.08" r="0.85"/><circle cx="264" cy="39.15" r="0.85"/><circle cx="265.5" cy="39.38" r="0.85"/><circle cx="267" cy="38.97" r="0.85"/><circle cx="268.5" cy="39.25" r="0.85"/><circle cx="270" cy="37.58" r="0.85"/><circle cx="271.5" cy="38.29" r="0.85"/><circle cx="273" cy="39.05" r="0.85"/><circle cx="274.5" cy="38.39" r="0.85"/><circle cx="276" cy="38.68" r="0.85"/><circle cx="277.5" cy="37.09" r="0.85"/><circle cx="279" cy="37.55" r="0.85"/><circle cx="280.5" cy="36.94" r="0.85"/><circle cx="282" cy="37.26" r="0.85"/><circle cx="283.5" cy="37.09" r="0.85"/><circle cx="285" cy="35.85" r="0.85"/><circle cx="286.5" cy="35.97" r="0.85"/><circle cx="288" cy="35.84" r="0.85"/><circle cx="289.5" cy="36.73" r="0.85"/><circle cx="291" cy="36.21" r="0.85"/><circle cx="292.5" cy="34.86" r="0.85"/><circle cx="294" cy="35.74" r="0.85"/><circle cx="295.5" cy="34.27" r="0.85"/><circle cx="297" cy="34.84" r="0.85"/><circle cx="298.5" cy="33.65" r="0.85"/><circle cx="300" cy="33.09" r="0.85"/><circle cx="301.5" cy="34.3" r="0.85"/><circle cx="303" cy="32.72" r="0.85"/><circle cx="304.5" cy="32.32" r="0.85"/><circle cx="306" cy="33.26" r="0.85"/><circle cx="307.5" cy="32.61" r="0.85"/><circle cx="309" cy="31.08" r="0.85"/><circle cx="310.5" cy="31.8" r="0.85"/><circle cx="312" cy="30.53" r="0.85"/><circle cx="313.5" cy="30.26" r="0.85"/><circle cx="315" cy="28.87" r="0.85"/><circle cx="316.5" cy="29.64" r="0.85"/><circle cx="318" cy="28.6" r="0.85"/><circle cx="319.5" cy="28.44" r="0.85"/><circle cx="321" cy="27.54" r="0.85"/><circle cx="322.5" cy="25.61" r="0.85"/><circle cx="324" cy="24.9" r="0.85"/><circle cx="325.5" cy="23.82" r="0.85"/><circle cx="327" cy="23.1" r="0.85"/><circle cx="328.5" cy="22.28" r="0.85"/><circle cx="330" cy="22.06" r="0.85"/><circle cx="331.5" cy="21.99" r="0.85"/><circle cx="333" cy="20.31" r="0.85"/><circle cx="334.5" cy="20.95" r="0.85"/><circle cx="336" cy="19.8" r="0.85"/><circle cx="337.5" cy="19.23" r="0.85"/><circle cx="339" cy="19.66" r="0.85"/><circle cx="340.5" cy="18.63" r="0.85"/><circle cx="342" cy="17.98" r="0.85"/><circle cx="343.5" cy="17.95" r="0.85"/><circle cx="345" cy="18" r="0.85"/><circle cx="346.5" cy="16.43" r="0.85"/><circle cx="348" cy="17.64" r="0.85"/><circle cx="349.5" cy="15.47" r="0.85"/><circle cx="351" cy="16.27" r="0.85"/><circle cx="352.5" cy="15.86" r="0.85"/><circle cx="354" cy="13.68" r="0.85"/><circle cx="355.5" cy="14.22" r="0.85"/><circle cx="357" cy="12.5" r="0.85"/><circle cx="358.5" cy="11.88" r="0.85"/><circle cx="360" cy="9.89" r="0.85"/><circle cx="361.5" cy="9.08" r="0.85"/><circle cx="363" cy="8.6" r="0.85"/><circle cx="364.5" cy="9.32" r="0.85"/><circle cx="366" cy="7.34" r="0.85"/><circle cx="367.5" cy="7.8" r="0.85"/><circle cx="369" cy="7.69" r="0.85"/><circle cx="370.5" cy="7.44" r="0.85"/><circle cx="372" cy="6.32" r="0.85"/><circle cx="373.5" cy="6.5" r="0.85"/><circle cx="375" cy="7.18" r="0.85"/><circle cx="376.5" cy="8.22" r="0.85"/><circle cx="378" cy="7.84" r="0.85"/><circle cx="379.5" cy="10.11" r="0.85"/><circle cx="381" cy="11.75" r="0.85"/><circle cx="382.5" cy="13.73" r="0.85"/><circle cx="384" cy="14.21" r="0.85"/><circle cx="385.5" cy="17.82" r="0.85"/><circle cx="387" cy="18.39" r="0.85"/><circle cx="388.5" cy="21" r="0.85"/><circle cx="390" cy="23.6" r="0.85"/><circle cx="391.5" cy="26.27" r="0.85"/><circle cx="393" cy="27.37" r="0.85"/><circle cx="394.5" cy="30.46" r="0.85"/><circle cx="396" cy="31.59" r="0.85"/><circle cx="397.5" cy="32.78" r="0.85"/><circle cx="399" cy="34.21" r="0.85"/><circle cx="400.5" cy="35.14" r="0.85"/><circle cx="402" cy="35.91" r="0.85"/><circle cx="403.5" cy="36.82" r="0.85"/><circle cx="405" cy="38.4" r="0.85"/><circle cx="406.5" cy="39.43" r="0.85"/><circle cx="408" cy="38.29" r="0.85"/><circle cx="409.5" cy="38.38" r="0.85"/><circle cx="411" cy="40.32" r="0.85"/><circle cx="412.5" cy="39.7" r="0.85"/><circle cx="414" cy="39.61" r="0.85"/><circle cx="415.5" cy="39.4" r="0.85"/><circle cx="417" cy="40.12" r="0.85"/><circle cx="418.5" cy="40.6" r="0.85"/><circle cx="420" cy="39.99" r="0.85"/><circle cx="421.5" cy="39.99" r="0.85"/><circle cx="423" cy="39.37" r="0.85"/><circle cx="424.5" cy="40.96" r="0.85"/><circle cx="426" cy="39.4" r="0.85"/><circle cx="427.5" cy="40.26" r="0.85"/><circle cx="429" cy="40.91" r="0.85"/><circle cx="430.5" cy="39.66" r="0.85"/><circle cx="432" cy="40.77" r="0.85"/><circle cx="433.5" cy="41.18" r="0.85"/><circle cx="435" cy="40.63" r="0.85"/><circle cx="436.5" cy="40.93" r="0.85"/><circle cx="438" cy="39.73" r="0.85"/><circle cx="439.5" cy="40.34" r="0.85"/><circle cx="441" cy="39.85" r="0.85"/><circle cx="442.5" cy="41.12" r="0.85"/><circle cx="444" cy="40.15" r="0.85"/><circle cx="445.5" cy="40.45" r="0.85"/><circle cx="447" cy="41.45" r="0.85"/><circle cx="448.5" cy="41.21" r="0.85"/><circle cx="450" cy="41.45" r="0.85"/></g>
<path d="M259.8,38.7C262.1,38.62 268.87,38.62 273.6,38.2C278.33,37.78 283.33,37.02 288.2,36.2C293.07,35.38 297.93,34.58 302.8,33.3C307.67,32.02 313.75,29.92 317.4,28.5C321.05,27.08 322.27,25.95 324.7,24.8C327.13,23.65 329.57,22.57 332,21.6C334.43,20.63 336.87,19.73 339.3,19C341.73,18.27 344.17,17.93 346.6,17.2C349.03,16.47 351.28,15.88 353.9,14.6C356.52,13.32 359.43,10.83 362.3,9.5C365.17,8.17 368.42,6.72 371.1,6.6C373.78,6.48 376.22,7.35 378.4,8.8C380.58,10.25 382.27,12.87 384.2,15.3C386.13,17.73 388.05,20.72 390,23.4C391.95,26.08 393.95,29.22 395.9,31.4C397.85,33.58 399.52,35.22 401.7,36.5C403.88,37.78 405.83,38.5 409,39.1C412.17,39.7 413.82,39.85 420.7,40.1C427.58,40.35 445.37,40.52 450.3,40.6" fill="none" stroke="#F37878" stroke-width="1.35" stroke-linejoin="round"/>
<path d="M267.8,74.54 L267.8,74.53 L268.3,74.53 L268.8,74.53 L269.3,74.53 L269.8,74.53 L270.3,74.53 L270.8,74.53 L271.3,74.53 L271.8,74.52 L272.3,74.52 L272.8,74.52 L273.3,74.52 L273.8,74.51 L274.3,74.51 L274.8,74.51 L275.3,74.5 L275.8,74.5 L276.3,74.49 L276.8,74.48 L277.3,74.47 L277.8,74.46 L278.3,74.45 L278.8,74.44 L279.3,74.43 L279.8,74.41 L280.3,74.4 L280.8,74.38 L281.3,74.36 L281.8,74.34 L282.3,74.32 L282.8,74.29 L283.3,74.27 L283.8,74.24 L284.3,74.21 L284.8,74.17 L285.3,74.14 L285.8,74.1 L286.3,74.06 L286.8,74.01 L287.3,73.96 L287.8,73.91 L288.3,73.86 L288.8,73.8 L289.3,73.74 L289.8,73.68 L290.3,73.61 L290.8,73.53 L291.3,73.46 L291.8,73.38 L292.3,73.29 L292.8,73.2 L293.3,73.11 L293.8,73.01 L294.3,72.9 L294.8,72.8 L295.3,72.68 L295.8,72.57 L296.3,72.44 L296.8,72.32 L297.3,72.19 L297.8,72.05 L298.3,71.91 L298.8,71.76 L299.3,71.61 L299.8,71.46 L300.3,71.3 L300.8,71.14 L301.3,70.98 L301.8,70.81 L302.3,70.63 L302.8,70.46 L303.3,70.28 L303.8,70.1 L304.3,69.91 L304.8,69.73 L305.3,69.54 L305.8,69.35 L306.3,69.16 L306.8,68.97 L307.3,68.78 L307.8,68.6 L308.3,68.41 L308.8,68.22 L309.3,68.04 L309.8,67.85 L310.3,67.67 L310.8,67.5 L311.3,67.32 L311.8,67.15 L312.3,66.99 L312.8,66.83 L313.3,66.68 L313.8,66.53 L314.3,66.39 L314.8,66.26 L315.3,66.13 L315.8,66.01 L316.3,65.9 L316.8,65.8 L317.3,65.71 L317.8,65.62 L318.3,65.55 L318.8,65.48 L319.3,65.43 L319.8,65.39 L320.3,65.35 L320.8,65.33 L321.3,65.31 L321.8,65.31 L322.3,65.32 L322.8,65.34 L323.3,65.37 L323.8,65.41 L324.3,65.46 L324.8,65.51 L325.3,65.58 L325.8,65.66 L326.3,65.75 L326.8,65.85 L327.3,65.96 L327.8,66.07 L328.3,66.2 L328.8,66.33 L329.3,66.47 L329.8,66.61 L330.3,66.76 L330.8,66.92 L331.3,67.09 L331.8,67.25 L332.3,67.43 L332.8,67.61 L333.3,67.79 L333.8,67.97 L334.3,68.16 L334.8,68.35 L335.3,68.54 L335.8,68.74 L336.3,68.93 L336.8,69.12 L337.3,69.32 L337.8,69.51 L338.3,69.71 L338.8,69.9 L339.3,70.09 L339.8,70.28 L340.3,70.46 L340.8,70.65 L341.3,70.83 L341.8,71.01 L342.3,71.18 L342.8,71.35 L343.3,71.52 L343.8,71.68 L344.3,71.84 L344.8,71.99 L345.3,72.14 L345.8,72.29 L346.3,72.43 L346.8,72.57 L347.3,72.7 L347.8,72.83 L348.3,72.95 L348.8,73.07 L349.3,73.18 L349.8,73.29 L350.3,73.39 L350.8,73.49 L351.3,73.59 L351.8,73.68 L352.3,73.76 L352.8,73.84 L353.3,73.92 L353.8,74 L354.3,74.07 L354.8,74.13 L355.3,74.19 L355.8,74.25 L356.3,74.31 L356.8,74.36 L357.3,74.41 L357.8,74.46 L358.3,74.5 L358.8,74.54 L359.3,74.58 L359.8,74.62 L360.3,74.65 L360.8,74.68 L361.3,74.71 L361.8,74.74 L362.3,74.77 L362.8,74.79 L363.3,74.81 L363.8,74.83 L364.3,74.85 L364.8,74.87 L365.3,74.89 L365.8,74.9 L366.3,74.92 L366.8,74.93 L367.3,74.94 L367.8,74.96 L368.3,74.97 L368.8,74.98 L369.3,74.99 L369.8,74.99 L370.3,75 L370.8,75.01 L371.3,75.02 L371.8,75.02 L372.3,75.03 L372.8,75.04 L373.3,75.04 L373.8,75.05 L374.3,75.05 L374.8,75.06 L375.3,75.06 L375.8,75.07 L375.8,75.08Z" fill="#8A86CF" fill-opacity="0.85" stroke="none"/>
<path d="M303.4,74.72 L303.4,74.71 L303.9,74.71 L304.4,74.71 L304.9,74.71 L305.4,74.71 L305.9,74.71 L306.4,74.71 L306.9,74.7 L307.4,74.7 L307.9,74.7 L308.4,74.69 L308.9,74.69 L309.4,74.68 L309.9,74.68 L310.4,74.67 L310.9,74.66 L311.4,74.65 L311.9,74.64 L312.4,74.63 L312.9,74.61 L313.4,74.6 L313.9,74.58 L314.4,74.56 L314.9,74.53 L315.4,74.51 L315.9,74.48 L316.4,74.45 L316.9,74.41 L317.4,74.38 L317.9,74.33 L318.4,74.29 L318.9,74.24 L319.4,74.19 L319.9,74.13 L320.4,74.07 L320.9,74 L321.4,73.93 L321.9,73.85 L322.4,73.77 L322.9,73.68 L323.4,73.59 L323.9,73.49 L324.4,73.38 L324.9,73.27 L325.4,73.15 L325.9,73.03 L326.4,72.89 L326.9,72.76 L327.4,72.62 L327.9,72.47 L328.4,72.31 L328.9,72.15 L329.4,71.99 L329.9,71.81 L330.4,71.64 L330.9,71.46 L331.4,71.27 L331.9,71.08 L332.4,70.89 L332.9,70.7 L333.4,70.5 L333.9,70.3 L334.4,70.1 L334.9,69.9 L335.4,69.7 L335.9,69.51 L336.4,69.31 L336.9,69.12 L337.4,68.93 L337.9,68.74 L338.4,68.56 L338.9,68.39 L339.4,68.22 L339.9,68.06 L340.4,67.9 L340.9,67.76 L341.4,67.63 L341.9,67.5 L342.4,67.39 L342.9,67.29 L343.4,67.2 L343.9,67.12 L344.4,67.06 L344.9,67.01 L345.4,66.97 L345.9,66.95 L346.4,66.94 L346.9,66.94 L347.4,66.96 L347.9,66.99 L348.4,67.03 L348.9,67.09 L349.4,67.16 L349.9,67.25 L350.4,67.35 L350.9,67.45 L351.4,67.57 L351.9,67.71 L352.4,67.85 L352.9,68 L353.4,68.16 L353.9,68.32 L354.4,68.5 L354.9,68.68 L355.4,68.87 L355.9,69.06 L356.4,69.25 L356.9,69.45 L357.4,69.65 L357.9,69.86 L358.4,70.06 L358.9,70.27 L359.4,70.47 L359.9,70.67 L360.4,70.87 L360.9,71.07 L361.4,71.27 L361.9,71.46 L362.4,71.65 L362.9,71.84 L363.4,72.02 L363.9,72.19 L364.4,72.36 L364.9,72.53 L365.4,72.68 L365.9,72.84 L366.4,72.98 L366.9,73.12 L367.4,73.26 L367.9,73.39 L368.4,73.51 L368.9,73.62 L369.4,73.73 L369.9,73.84 L370.4,73.94 L370.9,74.03 L371.4,74.11 L371.9,74.2 L372.4,74.27 L372.9,74.34 L373.4,74.41 L373.9,74.47 L374.4,74.53 L374.9,74.58 L375.4,74.63 L375.9,74.68 L376.4,74.72 L376.9,74.76 L377.4,74.79 L377.9,74.83 L378.4,74.86 L378.9,74.88 L379.4,74.91 L379.9,74.93 L380.4,74.95 L380.9,74.97 L381.4,74.99 L381.9,75.01 L382.4,75.02 L382.9,75.03 L383.4,75.05 L383.9,75.06 L384.4,75.07 L384.9,75.08 L385.4,75.09 L385.9,75.09 L386.4,75.1 L386.9,75.11 L387.4,75.11 L387.9,75.12 L388.4,75.13 L388.9,75.13 L389.4,75.14 L389.8,75.15Z" fill="#5EC3C6" fill-opacity="0.85" stroke="none"/>
<path d="M342.9,74.92 L342.9,74.88 L343.4,74.87 L343.9,74.86 L344.4,74.85 L344.9,74.83 L345.4,74.81 L345.9,74.79 L346.4,74.77 L346.9,74.73 L347.4,74.7 L347.9,74.65 L348.4,74.6 L348.9,74.53 L349.4,74.46 L349.9,74.38 L350.4,74.28 L350.9,74.16 L351.4,74.03 L351.9,73.88 L352.4,73.72 L352.9,73.52 L353.4,73.31 L353.9,73.07 L354.4,72.8 L354.9,72.5 L355.4,72.16 L355.9,71.79 L356.4,71.39 L356.9,70.95 L357.4,70.47 L357.9,69.94 L358.4,69.38 L358.9,68.78 L359.4,68.13 L359.9,67.44 L360.4,66.71 L360.9,65.94 L361.4,65.13 L361.9,64.29 L362.4,63.42 L362.9,62.52 L363.4,61.59 L363.9,60.65 L364.4,59.69 L364.9,58.72 L365.4,57.76 L365.9,56.79 L366.4,55.85 L366.9,54.92 L367.4,54.01 L367.9,53.15 L368.4,52.33 L368.9,51.55 L369.4,50.84 L369.9,50.19 L370.4,49.6 L370.9,49.1 L371.4,48.68 L371.9,48.34 L372.4,48.09 L372.9,47.93 L373.4,47.87 L373.9,47.89 L374.4,47.95 L374.9,48.06 L375.4,48.22 L375.9,48.42 L376.4,48.67 L376.9,48.96 L377.4,49.29 L377.9,49.66 L378.4,50.07 L378.9,50.52 L379.4,51 L379.9,51.51 L380.4,52.05 L380.9,52.62 L381.4,53.21 L381.9,53.82 L382.4,54.45 L382.9,55.1 L383.4,55.77 L383.9,56.44 L384.4,57.12 L384.9,57.81 L385.4,58.49 L385.9,59.18 L386.4,59.87 L386.9,60.56 L387.4,61.23 L387.9,61.9 L388.4,62.56 L388.9,63.21 L389.4,63.84 L389.9,64.46 L390.4,65.06 L390.9,65.65 L391.4,66.22 L391.9,66.77 L392.4,67.3 L392.9,67.8 L393.4,68.29 L393.9,68.76 L394.4,69.21 L394.9,69.63 L395.4,70.04 L395.9,70.42 L396.4,70.78 L396.9,71.12 L397.4,71.45 L397.9,71.75 L398.4,72.04 L398.9,72.3 L399.4,72.55 L399.9,72.78 L400.4,73 L400.9,73.2 L401.4,73.39 L401.9,73.56 L402.4,73.72 L402.9,73.86 L403.4,74 L403.9,74.12 L404.4,74.24 L404.9,74.34 L405.4,74.44 L405.9,74.52 L406.4,74.6 L406.9,74.67 L407.4,74.74 L407.9,74.8 L408.4,74.85 L408.9,74.9 L409.4,74.94 L409.9,74.98 L410.4,75.01 L410.9,75.05 L411.4,75.07 L411.9,75.1 L412.4,75.12 L412.9,75.14 L413.4,75.16 L413.9,75.18 L414.4,75.19 L414.9,75.21 L415.4,75.22 L415.9,75.23 L416.4,75.24 L416.7,75.29Z" fill="#D2BF8C" fill-opacity="0.85" stroke="none"/>
<path d="M260.2,74.8L450.2,75.75" stroke="#8a8a8a" stroke-width="0.9"/>
<g fill="none" stroke="#555" stroke-width="0.5" stroke-opacity="0.85"><circle cx="261" cy="74.19" r="0.85"/><circle cx="262.5" cy="74.21" r="0.85"/><circle cx="264" cy="73.57" r="0.85"/><circle cx="265.5" cy="73.13" r="0.85"/><circle cx="267" cy="72.62" r="0.85"/><circle cx="268.5" cy="73.76" r="0.85"/><circle cx="270" cy="73.36" r="0.85"/><circle cx="271.5" cy="73.8" r="0.85"/><circle cx="273" cy="73.02" r="0.85"/><circle cx="274.5" cy="73.62" r="0.85"/><circle cx="276" cy="72.6" r="0.85"/><circle cx="277.5" cy="73.42" r="0.85"/><circle cx="279" cy="73.15" r="0.85"/><circle cx="280.5" cy="72.43" r="0.85"/><circle cx="282" cy="72.49" r="0.85"/><circle cx="283.5" cy="72.56" r="0.85"/><circle cx="285" cy="71.47" r="0.85"/><circle cx="286.5" cy="71.89" r="0.85"/><circle cx="288" cy="72.09" r="0.85"/><circle cx="289.5" cy="70.83" r="0.85"/><circle cx="291" cy="71.48" r="0.85"/><circle cx="292.5" cy="70.93" r="0.85"/><circle cx="294" cy="70.86" r="0.85"/><circle cx="295.5" cy="69.56" r="0.85"/><circle cx="297" cy="68.73" r="0.85"/><circle cx="298.5" cy="69.59" r="0.85"/><circle cx="300" cy="69.18" r="0.85"/><circle cx="301.5" cy="68.09" r="0.85"/><circle cx="303" cy="67.01" r="0.85"/><circle cx="304.5" cy="66.71" r="0.85"/><circle cx="306" cy="66.98" r="0.85"/><circle cx="307.5" cy="65.82" r="0.85"/><circle cx="309" cy="66.43" r="0.85"/><circle cx="310.5" cy="65.2" r="0.85"/><circle cx="312" cy="63.91" r="0.85"/><circle cx="313.5" cy="64.15" r="0.85"/><circle cx="315" cy="63.06" r="0.85"/><circle cx="316.5" cy="63.53" r="0.85"/><circle cx="318" cy="62.91" r="0.85"/><circle cx="319.5" cy="61.62" r="0.85"/><circle cx="321" cy="61.29" r="0.85"/><circle cx="322.5" cy="60.85" r="0.85"/><circle cx="324" cy="60.56" r="0.85"/><circle cx="325.5" cy="60.44" r="0.85"/><circle cx="327" cy="58.35" r="0.85"/><circle cx="328.5" cy="58.62" r="0.85"/><circle cx="330" cy="58.75" r="0.85"/><circle cx="331.5" cy="57.92" r="0.85"/><circle cx="333" cy="58.15" r="0.85"/><circle cx="334.5" cy="56.95" r="0.85"/><circle cx="336" cy="58.05" r="0.85"/><circle cx="337.5" cy="57.1" r="0.85"/><circle cx="339" cy="56.06" r="0.85"/><circle cx="340.5" cy="56.73" r="0.85"/><circle cx="342" cy="55.77" r="0.85"/><circle cx="343.5" cy="55.2" r="0.85"/><circle cx="345" cy="55.35" r="0.85"/><circle cx="346.5" cy="54.35" r="0.85"/><circle cx="348" cy="54.08" r="0.85"/><circle cx="349.5" cy="54.84" r="0.85"/><circle cx="351" cy="54.07" r="0.85"/><circle cx="352.5" cy="52.28" r="0.85"/><circle cx="354" cy="53.01" r="0.85"/><circle cx="355.5" cy="50.89" r="0.85"/><circle cx="357" cy="50.6" r="0.85"/><circle cx="358.5" cy="50.67" r="0.85"/><circle cx="360" cy="49.02" r="0.85"/><circle cx="361.5" cy="46.93" r="0.85"/><circle cx="363" cy="45.65" r="0.85"/><circle cx="364.5" cy="44.72" r="0.85"/><circle cx="366" cy="43.47" r="0.85"/><circle cx="367.5" cy="44.36" r="0.85"/><circle cx="369" cy="42.09" r="0.85"/><circle cx="370.5" cy="42.34" r="0.85"/><circle cx="372" cy="42.74" r="0.85"/><circle cx="373.5" cy="42.18" r="0.85"/><circle cx="375" cy="43.56" r="0.85"/><circle cx="376.5" cy="42.84" r="0.85"/><circle cx="378" cy="45.07" r="0.85"/><circle cx="379.5" cy="46.21" r="0.85"/><circle cx="381" cy="47.62" r="0.85"/><circle cx="382.5" cy="50.12" r="0.85"/><circle cx="384" cy="51.44" r="0.85"/><circle cx="385.5" cy="54.16" r="0.85"/><circle cx="387" cy="56.2" r="0.85"/><circle cx="388.5" cy="57.8" r="0.85"/><circle cx="390" cy="59.75" r="0.85"/><circle cx="391.5" cy="62.14" r="0.85"/><circle cx="393" cy="63.56" r="0.85"/><circle cx="394.5" cy="64.81" r="0.85"/><circle cx="396" cy="67.65" r="0.85"/><circle cx="397.5" cy="68.26" r="0.85"/><circle cx="399" cy="69.98" r="0.85"/><circle cx="400.5" cy="71.6" r="0.85"/><circle cx="402" cy="71.37" r="0.85"/><circle cx="403.5" cy="71.79" r="0.85"/><circle cx="405" cy="72.51" r="0.85"/><circle cx="406.5" cy="73.76" r="0.85"/><circle cx="408" cy="73.67" r="0.85"/><circle cx="409.5" cy="73.75" r="0.85"/><circle cx="411" cy="74.34" r="0.85"/><circle cx="412.5" cy="75.39" r="0.85"/><circle cx="414" cy="74.32" r="0.85"/><circle cx="415.5" cy="74.71" r="0.85"/><circle cx="417" cy="75.63" r="0.85"/><circle cx="418.5" cy="75.22" r="0.85"/><circle cx="420" cy="74.66" r="0.85"/><circle cx="421.5" cy="75.08" r="0.85"/><circle cx="423" cy="75.13" r="0.85"/><circle cx="424.5" cy="74.55" r="0.85"/><circle cx="426" cy="75.01" r="0.85"/><circle cx="427.5" cy="74.9" r="0.85"/><circle cx="429" cy="75.82" r="0.85"/><circle cx="430.5" cy="74.98" r="0.85"/><circle cx="432" cy="75.6" r="0.85"/><circle cx="433.5" cy="76.18" r="0.85"/><circle cx="435" cy="76.11" r="0.85"/><circle cx="436.5" cy="75.14" r="0.85"/><circle cx="438" cy="75.57" r="0.85"/><circle cx="439.5" cy="75.07" r="0.85"/><circle cx="441" cy="75.23" r="0.85"/><circle cx="442.5" cy="75.4" r="0.85"/><circle cx="444" cy="75.97" r="0.85"/><circle cx="445.5" cy="76.24" r="0.85"/><circle cx="447" cy="75.09" r="0.85"/><circle cx="448.5" cy="74.59" r="0.85"/><circle cx="450" cy="75.4" r="0.85"/></g>
<path d="M259.8,73.7C262.1,73.62 268.87,73.57 273.6,73.2C278.33,72.83 283.33,72.4 288.2,71.5C293.07,70.6 298.42,69.13 302.8,67.8C307.18,66.47 310.85,64.83 314.5,63.5C318.15,62.17 321.3,60.78 324.7,59.8C328.1,58.82 331.73,58.28 334.9,57.6C338.07,56.92 340.78,56.43 343.7,55.7C346.62,54.97 349.85,54.22 352.4,53.2C354.95,52.18 357.07,50.93 359,49.6C360.93,48.27 361.87,46.42 364,45.2C366.13,43.98 369.4,42.42 371.8,42.3C374.2,42.18 376.33,42.92 378.4,44.5C380.47,46.08 382.27,49.25 384.2,51.8C386.13,54.35 388.05,57.25 390,59.8C391.95,62.35 393.95,65.1 395.9,67.1C397.85,69.1 399.52,70.63 401.7,71.8C403.88,72.97 405.83,73.55 409,74.1C412.17,74.65 413.82,74.87 420.7,75.1C427.58,75.33 445.37,75.43 450.3,75.5" fill="none" stroke="#F37878" stroke-width="1.35" stroke-linejoin="round"/>
<path d="M265.6,111.13 L265.6,111.12 L266.1,111.12 L266.6,111.12 L267.1,111.12 L267.6,111.12 L268.1,111.12 L268.6,111.12 L269.1,111.12 L269.6,111.12 L270.1,111.12 L270.6,111.12 L271.1,111.12 L271.6,111.12 L272.1,111.12 L272.6,111.12 L273.1,111.11 L273.6,111.11 L274.1,111.11 L274.6,111.1 L275.1,111.1 L275.6,111.09 L276.1,111.09 L276.6,111.08 L277.1,111.07 L277.6,111.06 L278.1,111.06 L278.6,111.05 L279.1,111.03 L279.6,111.02 L280.1,111.01 L280.6,110.99 L281.1,110.98 L281.6,110.96 L282.1,110.94 L282.6,110.92 L283.1,110.9 L283.6,110.88 L284.1,110.85 L284.6,110.83 L285.1,110.8 L285.6,110.77 L286.1,110.74 L286.6,110.7 L287.1,110.67 L287.6,110.63 L288.1,110.58 L288.6,110.54 L289.1,110.49 L289.6,110.45 L290.1,110.39 L290.6,110.34 L291.1,110.28 L291.6,110.22 L292.1,110.16 L292.6,110.09 L293.1,110.02 L293.6,109.95 L294.1,109.88 L294.6,109.8 L295.1,109.72 L295.6,109.63 L296.1,109.54 L296.6,109.45 L297.1,109.36 L297.6,109.26 L298.1,109.16 L298.6,109.06 L299.1,108.95 L299.6,108.84 L300.1,108.73 L300.6,108.61 L301.1,108.5 L301.6,108.38 L302.1,108.25 L302.6,108.13 L303.1,108 L303.6,107.87 L304.1,107.74 L304.6,107.61 L305.1,107.48 L305.6,107.34 L306.1,107.21 L306.6,107.07 L307.1,106.94 L307.6,106.8 L308.1,106.67 L308.6,106.53 L309.1,106.4 L309.6,106.26 L310.1,106.13 L310.6,106 L311.1,105.87 L311.6,105.75 L312.1,105.62 L312.6,105.5 L313.1,105.39 L313.6,105.27 L314.1,105.16 L314.6,105.06 L315.1,104.96 L315.6,104.86 L316.1,104.77 L316.6,104.68 L317.1,104.6 L317.6,104.52 L318.1,104.45 L318.6,104.39 L319.1,104.33 L319.6,104.28 L320.1,104.24 L320.6,104.2 L321.1,104.17 L321.6,104.15 L322.1,104.13 L322.6,104.12 L323.1,104.12 L323.6,104.12 L324.1,104.13 L324.6,104.15 L325.1,104.18 L325.6,104.21 L326.1,104.25 L326.6,104.3 L327.1,104.35 L327.6,104.41 L328.1,104.48 L328.6,104.55 L329.1,104.63 L329.6,104.71 L330.1,104.8 L330.6,104.9 L331.1,105 L331.6,105.1 L332.1,105.21 L332.6,105.32 L333.1,105.44 L333.6,105.56 L334.1,105.68 L334.6,105.81 L335.1,105.94 L335.6,106.07 L336.1,106.21 L336.6,106.34 L337.1,106.48 L337.6,106.62 L338.1,106.76 L338.6,106.9 L339.1,107.04 L339.6,107.18 L340.1,107.32 L340.6,107.46 L341.1,107.6 L341.6,107.74 L342.1,107.88 L342.6,108.02 L343.1,108.15 L343.6,108.28 L344.1,108.41 L344.6,108.54 L345.1,108.67 L345.6,108.79 L346.1,108.91 L346.6,109.03 L347.1,109.15 L347.6,109.26 L348.1,109.37 L348.6,109.47 L349.1,109.58 L349.6,109.68 L350.1,109.78 L350.6,109.87 L351.1,109.96 L351.6,110.05 L352.1,110.13 L352.6,110.22 L353.1,110.29 L353.6,110.37 L354.1,110.44 L354.6,110.51 L355.1,110.58 L355.6,110.64 L356.1,110.7 L356.6,110.76 L357.1,110.81 L357.6,110.87 L358.1,110.92 L358.6,110.96 L359.1,111.01 L359.6,111.05 L360.1,111.09 L360.6,111.13 L361.1,111.17 L361.6,111.2 L362.1,111.23 L362.6,111.26 L363.1,111.29 L363.6,111.32 L364.1,111.34 L364.6,111.37 L365.1,111.39 L365.6,111.41 L366.1,111.43 L366.6,111.45 L367.1,111.47 L367.6,111.49 L368.1,111.5 L368.6,111.52 L369.1,111.53 L369.6,111.54 L370.1,111.55 L370.6,111.56 L371.1,111.58 L371.6,111.59 L372.1,111.59 L372.6,111.6 L373.1,111.61 L373.6,111.62 L374.1,111.63 L374.6,111.63 L375.1,111.64 L375.6,111.65 L376.1,111.65 L376.6,111.66 L377.1,111.66 L377.6,111.67 L378.1,111.67 L378.6,111.68 L379.1,111.68 L379.6,111.69 L380.1,111.69 L380.6,111.69 L380.8,111.71Z" fill="#8A86CF" fill-opacity="0.85" stroke="none"/>
<path d="M305.5,111.33 L305.5,111.31 L306,111.31 L306.5,111.31 L307,111.31 L307.5,111.31 L308,111.31 L308.5,111.3 L309,111.3 L309.5,111.29 L310,111.28 L310.5,111.28 L311,111.27 L311.5,111.26 L312,111.24 L312.5,111.23 L313,111.21 L313.5,111.19 L314,111.17 L314.5,111.15 L315,111.12 L315.5,111.09 L316,111.05 L316.5,111.01 L317,110.97 L317.5,110.92 L318,110.86 L318.5,110.8 L319,110.74 L319.5,110.67 L320,110.59 L320.5,110.5 L321,110.41 L321.5,110.31 L322,110.2 L322.5,110.08 L323,109.96 L323.5,109.82 L324,109.68 L324.5,109.52 L325,109.36 L325.5,109.18 L326,109 L326.5,108.8 L327,108.6 L327.5,108.38 L328,108.16 L328.5,107.92 L329,107.68 L329.5,107.43 L330,107.16 L330.5,106.9 L331,106.62 L331.5,106.34 L332,106.05 L332.5,105.76 L333,105.46 L333.5,105.16 L334,104.86 L334.5,104.56 L335,104.26 L335.5,103.96 L336,103.67 L336.5,103.38 L337,103.1 L337.5,102.83 L338,102.56 L338.5,102.31 L339,102.07 L339.5,101.84 L340,101.62 L340.5,101.43 L341,101.25 L341.5,101.08 L342,100.94 L342.5,100.82 L343,100.72 L343.5,100.64 L344,100.58 L344.5,100.54 L345,100.53 L345.5,100.54 L346,100.57 L346.5,100.62 L347,100.7 L347.5,100.8 L348,100.92 L348.5,101.06 L349,101.22 L349.5,101.4 L350,101.59 L350.5,101.8 L351,102.03 L351.5,102.27 L352,102.53 L352.5,102.79 L353,103.07 L353.5,103.35 L354,103.64 L354.5,103.94 L355,104.24 L355.5,104.54 L356,104.85 L356.5,105.16 L357,105.46 L357.5,105.76 L358,106.06 L358.5,106.36 L359,106.65 L359.5,106.93 L360,107.21 L360.5,107.48 L361,107.74 L361.5,107.99 L362,108.23 L362.5,108.47 L363,108.69 L363.5,108.9 L364,109.11 L364.5,109.3 L365,109.49 L365.5,109.66 L366,109.82 L366.5,109.98 L367,110.12 L367.5,110.26 L368,110.38 L368.5,110.5 L369,110.61 L369.5,110.71 L370,110.8 L370.5,110.89 L371,110.97 L371.5,111.04 L372,111.11 L372.5,111.17 L373,111.23 L373.5,111.28 L374,111.32 L374.5,111.37 L375,111.4 L375.5,111.44 L376,111.47 L376.5,111.5 L377,111.52 L377.5,111.55 L378,111.57 L378.5,111.59 L379,111.6 L379.5,111.62 L380,111.63 L380.5,111.64 L381,111.65 L381.5,111.66 L382,111.67 L382.5,111.68 L383,111.69 L383.5,111.7 L384,111.7 L384.5,111.71 L384.7,111.73Z" fill="#5EC3C6" fill-opacity="0.85" stroke="none"/>
<path d="M344.1,111.52 L344.1,111.47 L344.6,111.47 L345.1,111.45 L345.6,111.44 L346.1,111.43 L346.6,111.41 L347.1,111.38 L347.6,111.35 L348.1,111.32 L348.6,111.28 L349.1,111.23 L349.6,111.18 L350.1,111.12 L350.6,111.04 L351.1,110.96 L351.6,110.86 L352.1,110.74 L352.6,110.62 L353.1,110.47 L353.6,110.3 L354.1,110.11 L354.6,109.9 L355.1,109.67 L355.6,109.4 L356.1,109.11 L356.6,108.78 L357.1,108.42 L357.6,108.03 L358.1,107.6 L358.6,107.13 L359.1,106.61 L359.6,106.06 L360.1,105.46 L360.6,104.82 L361.1,104.14 L361.6,103.41 L362.1,102.63 L362.6,101.82 L363.1,100.96 L363.6,100.06 L364.1,99.12 L364.6,98.15 L365.1,97.15 L365.6,96.12 L366.1,95.07 L366.6,94 L367.1,92.92 L367.6,91.83 L368.1,90.75 L368.6,89.67 L369.1,88.61 L369.6,87.58 L370.1,86.57 L370.6,85.6 L371.1,84.68 L371.6,83.81 L372.1,83 L372.6,82.26 L373.1,81.59 L373.6,81 L374.1,80.5 L374.6,80.09 L375.1,79.77 L375.6,79.54 L376.1,79.41 L376.6,79.39 L377.1,79.43 L377.6,79.52 L378.1,79.66 L378.6,79.85 L379.1,80.09 L379.6,80.38 L380.1,80.72 L380.6,81.1 L381.1,81.52 L381.6,81.99 L382.1,82.5 L382.6,83.04 L383.1,83.62 L383.6,84.23 L384.1,84.87 L384.6,85.54 L385.1,86.24 L385.6,86.95 L386.1,87.68 L386.6,88.43 L387.1,89.19 L387.6,89.96 L388.1,90.74 L388.6,91.53 L389.1,92.31 L389.6,93.1 L390.1,93.88 L390.6,94.66 L391.1,95.43 L391.6,96.19 L392.1,96.94 L392.6,97.67 L393.1,98.39 L393.6,99.1 L394.1,99.79 L394.6,100.45 L395.1,101.1 L395.6,101.73 L396.1,102.34 L396.6,102.92 L397.1,103.48 L397.6,104.02 L398.1,104.54 L398.6,105.03 L399.1,105.5 L399.6,105.94 L400.1,106.37 L400.6,106.77 L401.1,107.15 L401.6,107.51 L402.1,107.85 L402.6,108.16 L403.1,108.46 L403.6,108.74 L404.1,109 L404.6,109.24 L405.1,109.47 L405.6,109.68 L406.1,109.88 L406.6,110.06 L407.1,110.22 L407.6,110.38 L408.1,110.52 L408.6,110.65 L409.1,110.77 L409.6,110.88 L410.1,110.98 L410.6,111.07 L411.1,111.16 L411.6,111.23 L412.1,111.3 L412.6,111.37 L413.1,111.42 L413.6,111.48 L414.1,111.52 L414.6,111.57 L415.1,111.6 L415.6,111.64 L416.1,111.67 L416.6,111.7 L417.1,111.72 L417.6,111.75 L418.1,111.77 L418.6,111.78 L419.1,111.8 L419.6,111.82 L420.1,111.83 L420.6,111.84 L421.1,111.85 L421.5,111.91Z" fill="#D2BF8C" fill-opacity="0.85" stroke="none"/>
<path d="M260.2,111.4L450.2,112.35" stroke="#8a8a8a" stroke-width="0.9"/>
<g fill="none" stroke="#555" stroke-width="0.5" stroke-opacity="0.85"><circle cx="261" cy="109.89" r="0.85"/><circle cx="262.5" cy="109.61" r="0.85"/><circle cx="264" cy="110.53" r="0.85"/><circle cx="265.5" cy="109.51" r="0.85"/><circle cx="267" cy="110.36" r="0.85"/><circle cx="268.5" cy="110.06" r="0.85"/><circle cx="270" cy="109.5" r="0.85"/><circle cx="271.5" cy="110.29" r="0.85"/><circle cx="273" cy="109.39" r="0.85"/><circle cx="274.5" cy="110.03" r="0.85"/><circle cx="276" cy="109.29" r="0.85"/><circle cx="277.5" cy="109.22" r="0.85"/><circle cx="279" cy="109.71" r="0.85"/><circle cx="280.5" cy="110.3" r="0.85"/><circle cx="282" cy="108.89" r="0.85"/><circle cx="283.5" cy="108.91" r="0.85"/><circle cx="285" cy="109.46" r="0.85"/><circle cx="286.5" cy="109.84" r="0.85"/><circle cx="288" cy="108.97" r="0.85"/><circle cx="289.5" cy="108.42" r="0.85"/><circle cx="291" cy="109.21" r="0.85"/><circle cx="292.5" cy="107.27" r="0.85"/><circle cx="294" cy="108.45" r="0.85"/><circle cx="295.5" cy="107.13" r="0.85"/><circle cx="297" cy="106.56" r="0.85"/><circle cx="298.5" cy="106.19" r="0.85"/><circle cx="300" cy="106.2" r="0.85"/><circle cx="301.5" cy="106.77" r="0.85"/><circle cx="303" cy="105.28" r="0.85"/><circle cx="304.5" cy="105.63" r="0.85"/><circle cx="306" cy="105.34" r="0.85"/><circle cx="307.5" cy="104.45" r="0.85"/><circle cx="309" cy="104.35" r="0.85"/><circle cx="310.5" cy="103.04" r="0.85"/><circle cx="312" cy="102.61" r="0.85"/><circle cx="313.5" cy="102.44" r="0.85"/><circle cx="315" cy="102.87" r="0.85"/><circle cx="316.5" cy="102.01" r="0.85"/><circle cx="318" cy="101.41" r="0.85"/><circle cx="319.5" cy="101.51" r="0.85"/><circle cx="321" cy="100.88" r="0.85"/><circle cx="322.5" cy="100.22" r="0.85"/><circle cx="324" cy="100.72" r="0.85"/><circle cx="325.5" cy="100.18" r="0.85"/><circle cx="327" cy="98.99" r="0.85"/><circle cx="328.5" cy="99.22" r="0.85"/><circle cx="330" cy="98.78" r="0.85"/><circle cx="331.5" cy="99.06" r="0.85"/><circle cx="333" cy="98.48" r="0.85"/><circle cx="334.5" cy="97.4" r="0.85"/><circle cx="336" cy="98.37" r="0.85"/><circle cx="337.5" cy="96.57" r="0.85"/><circle cx="339" cy="96.86" r="0.85"/><circle cx="340.5" cy="97.21" r="0.85"/><circle cx="342" cy="95.86" r="0.85"/><circle cx="343.5" cy="96.17" r="0.85"/><circle cx="345" cy="95.02" r="0.85"/><circle cx="346.5" cy="95.73" r="0.85"/><circle cx="348" cy="95.4" r="0.85"/><circle cx="349.5" cy="94.44" r="0.85"/><circle cx="351" cy="94.25" r="0.85"/><circle cx="352.5" cy="92.36" r="0.85"/><circle cx="354" cy="92.05" r="0.85"/><circle cx="355.5" cy="90.8" r="0.85"/><circle cx="357" cy="89.52" r="0.85"/><circle cx="358.5" cy="87.88" r="0.85"/><circle cx="360" cy="87.09" r="0.85"/><circle cx="361.5" cy="85.88" r="0.85"/><circle cx="363" cy="83.79" r="0.85"/><circle cx="364.5" cy="82.96" r="0.85"/><circle cx="366" cy="80.76" r="0.85"/><circle cx="367.5" cy="80.88" r="0.85"/><circle cx="369" cy="79.88" r="0.85"/><circle cx="370.5" cy="79.75" r="0.85"/><circle cx="372" cy="78.79" r="0.85"/><circle cx="373.5" cy="77.33" r="0.85"/><circle cx="375" cy="77.27" r="0.85"/><circle cx="376.5" cy="77.84" r="0.85"/><circle cx="378" cy="77.07" r="0.85"/><circle cx="379.5" cy="78.52" r="0.85"/><circle cx="381" cy="78.89" r="0.85"/><circle cx="382.5" cy="79.94" r="0.85"/><circle cx="384" cy="81.28" r="0.85"/><circle cx="385.5" cy="84.34" r="0.85"/><circle cx="387" cy="85.21" r="0.85"/><circle cx="388.5" cy="87.51" r="0.85"/><circle cx="390" cy="89.93" r="0.85"/><circle cx="391.5" cy="93.12" r="0.85"/><circle cx="393" cy="94.02" r="0.85"/><circle cx="394.5" cy="96.85" r="0.85"/><circle cx="396" cy="99.05" r="0.85"/><circle cx="397.5" cy="101.6" r="0.85"/><circle cx="399" cy="103.28" r="0.85"/><circle cx="400.5" cy="104.95" r="0.85"/><circle cx="402" cy="105.3" r="0.85"/><circle cx="403.5" cy="106.76" r="0.85"/><circle cx="405" cy="107.64" r="0.85"/><circle cx="406.5" cy="109.42" r="0.85"/><circle cx="408" cy="110.72" r="0.85"/><circle cx="409.5" cy="109.66" r="0.85"/><circle cx="411" cy="109.9" r="0.85"/><circle cx="412.5" cy="110.15" r="0.85"/><circle cx="414" cy="110.26" r="0.85"/><circle cx="415.5" cy="110.8" r="0.85"/><circle cx="417" cy="111.07" r="0.85"/><circle cx="418.5" cy="110.54" r="0.85"/><circle cx="420" cy="110.14" r="0.85"/><circle cx="421.5" cy="110.94" r="0.85"/><circle cx="423" cy="110.9" r="0.85"/><circle cx="424.5" cy="111.3" r="0.85"/><circle cx="426" cy="112.04" r="0.85"/><circle cx="427.5" cy="111.61" r="0.85"/><circle cx="429" cy="111.33" r="0.85"/><circle cx="430.5" cy="111.55" r="0.85"/><circle cx="432" cy="111.7" r="0.85"/><circle cx="433.5" cy="110.61" r="0.85"/><circle cx="435" cy="112.17" r="0.85"/><circle cx="436.5" cy="111.99" r="0.85"/><circle cx="438" cy="112.19" r="0.85"/><circle cx="439.5" cy="112.09" r="0.85"/><circle cx="441" cy="111.39" r="0.85"/><circle cx="442.5" cy="111.44" r="0.85"/><circle cx="444" cy="110.94" r="0.85"/><circle cx="445.5" cy="111.92" r="0.85"/><circle cx="447" cy="110.93" r="0.85"/><circle cx="448.5" cy="110.97" r="0.85"/><circle cx="450" cy="111.27" r="0.85"/></g>
<path d="M259.8,110.2C262.1,110.2 268.87,110.43 273.6,110.2C278.33,109.97 283.33,109.52 288.2,108.8C293.07,108.08 297.93,107.05 302.8,105.9C307.67,104.75 312.55,103.17 317.4,101.9C322.25,100.63 327.03,99.38 331.9,98.3C336.77,97.22 342.75,96.62 346.6,95.4C350.45,94.18 352.38,92.83 355,91C357.62,89.17 359.87,86.35 362.3,84.4C364.73,82.45 367.28,80.45 369.6,79.3C371.92,78.15 374.02,77.25 376.2,77.5C378.38,77.75 380.63,79.03 382.7,80.8C384.77,82.57 386.65,85.43 388.6,88.1C390.55,90.77 392.45,94.13 394.4,96.8C396.35,99.47 398.35,102.15 400.3,104.1C402.25,106.05 403.92,107.4 406.1,108.5C408.28,109.6 406.03,110.15 413.4,110.7C420.77,111.25 444.15,111.62 450.3,111.8" fill="none" stroke="#F37878" stroke-width="1.35" stroke-linejoin="round"/>
<path d="M262.7,140.91 L262.7,140.91 L263.2,140.91 L263.7,140.91 L264.2,140.91 L264.7,140.91 L265.2,140.91 L265.7,140.91 L266.2,140.91 L266.7,140.91 L267.2,140.91 L267.7,140.91 L268.2,140.91 L268.7,140.91 L269.2,140.91 L269.7,140.91 L270.2,140.91 L270.7,140.9 L271.2,140.9 L271.7,140.9 L272.2,140.9 L272.7,140.89 L273.2,140.89 L273.7,140.88 L274.2,140.88 L274.7,140.87 L275.2,140.87 L275.7,140.86 L276.2,140.85 L276.7,140.85 L277.2,140.84 L277.7,140.83 L278.2,140.82 L278.7,140.81 L279.2,140.79 L279.7,140.78 L280.2,140.77 L280.7,140.75 L281.2,140.73 L281.7,140.72 L282.2,140.7 L282.7,140.68 L283.2,140.65 L283.7,140.63 L284.2,140.61 L284.7,140.58 L285.2,140.55 L285.7,140.52 L286.2,140.49 L286.7,140.46 L287.2,140.42 L287.7,140.39 L288.2,140.35 L288.7,140.31 L289.2,140.26 L289.7,140.22 L290.2,140.17 L290.7,140.12 L291.2,140.07 L291.7,140.02 L292.2,139.96 L292.7,139.9 L293.2,139.84 L293.7,139.78 L294.2,139.72 L294.7,139.65 L295.2,139.58 L295.7,139.51 L296.2,139.44 L296.7,139.36 L297.2,139.29 L297.7,139.21 L298.2,139.13 L298.7,139.05 L299.2,138.96 L299.7,138.88 L300.2,138.79 L300.7,138.7 L301.2,138.61 L301.7,138.52 L302.2,138.43 L302.7,138.34 L303.2,138.25 L303.7,138.16 L304.2,138.07 L304.7,137.97 L305.2,137.88 L305.7,137.79 L306.2,137.7 L306.7,137.6 L307.2,137.51 L307.7,137.43 L308.2,137.34 L308.7,137.25 L309.2,137.17 L309.7,137.09 L310.2,137.01 L310.7,136.93 L311.2,136.85 L311.7,136.78 L312.2,136.71 L312.7,136.65 L313.2,136.58 L313.7,136.52 L314.2,136.47 L314.7,136.42 L315.2,136.37 L315.7,136.33 L316.2,136.29 L316.7,136.25 L317.2,136.22 L317.7,136.2 L318.2,136.18 L318.7,136.16 L319.2,136.15 L319.7,136.14 L320.2,136.14 L320.7,136.15 L321.2,136.15 L321.7,136.17 L322.2,136.19 L322.7,136.21 L323.2,136.24 L323.7,136.27 L324.2,136.31 L324.7,136.35 L325.2,136.39 L325.7,136.44 L326.2,136.5 L326.7,136.55 L327.2,136.61 L327.7,136.68 L328.2,136.75 L328.7,136.82 L329.2,136.9 L329.7,136.97 L330.2,137.05 L330.7,137.14 L331.2,137.22 L331.7,137.31 L332.2,137.4 L332.7,137.49 L333.2,137.58 L333.7,137.68 L334.2,137.77 L334.7,137.87 L335.2,137.96 L335.7,138.06 L336.2,138.16 L336.7,138.25 L337.2,138.35 L337.7,138.44 L338.2,138.54 L338.7,138.64 L339.2,138.73 L339.7,138.82 L340.2,138.92 L340.7,139.01 L341.2,139.1 L341.7,139.18 L342.2,139.27 L342.7,139.36 L343.2,139.44 L343.7,139.52 L344.2,139.6 L344.7,139.68 L345.2,139.75 L345.7,139.83 L346.2,139.9 L346.7,139.97 L347.2,140.03 L347.7,140.1 L348.2,140.16 L348.7,140.22 L349.2,140.28 L349.7,140.34 L350.2,140.39 L350.7,140.44 L351.2,140.49 L351.7,140.54 L352.2,140.59 L352.7,140.63 L353.2,140.67 L353.7,140.71 L354.2,140.75 L354.7,140.79 L355.2,140.82 L355.7,140.85 L356.2,140.88 L356.7,140.91 L357.2,140.94 L357.7,140.97 L358.2,140.99 L358.7,141.02 L359.2,141.04 L359.7,141.06 L360.2,141.08 L360.7,141.1 L361.2,141.12 L361.7,141.13 L362.2,141.15 L362.7,141.16 L363.2,141.18 L363.7,141.19 L364.2,141.2 L364.7,141.21 L365.2,141.23 L365.7,141.24 L366.2,141.25 L366.7,141.25 L367.2,141.26 L367.7,141.27 L368.2,141.28 L368.7,141.29 L369.2,141.29 L369.7,141.3 L370.2,141.3 L370.7,141.31 L371.2,141.32 L371.7,141.32 L372.2,141.32 L372.7,141.33 L373.2,141.33 L373.7,141.34 L374.2,141.34 L374.7,141.35 L375.2,141.35 L375.7,141.35 L376.2,141.36 L376.7,141.36 L377.2,141.36 L377.7,141.36 L377.9,141.37Z" fill="#8A86CF" fill-opacity="0.85" stroke="none"/>
<path d="M307,141.09 L307,141.08 L307.5,141.08 L308,141.07 L308.5,141.07 L309,141.07 L309.5,141.07 L310,141.07 L310.5,141.06 L311,141.06 L311.5,141.05 L312,141.05 L312.5,141.04 L313,141.03 L313.5,141.02 L314,141.01 L314.5,140.99 L315,140.98 L315.5,140.96 L316,140.94 L316.5,140.92 L317,140.89 L317.5,140.86 L318,140.83 L318.5,140.79 L319,140.75 L319.5,140.71 L320,140.66 L320.5,140.6 L321,140.55 L321.5,140.48 L322,140.41 L322.5,140.34 L323,140.25 L323.5,140.16 L324,140.07 L324.5,139.96 L325,139.85 L325.5,139.73 L326,139.61 L326.5,139.47 L327,139.33 L327.5,139.18 L328,139.02 L328.5,138.85 L329,138.68 L329.5,138.49 L330,138.3 L330.5,138.1 L331,137.89 L331.5,137.68 L332,137.46 L332.5,137.23 L333,137 L333.5,136.77 L334,136.53 L334.5,136.29 L335,136.04 L335.5,135.79 L336,135.55 L336.5,135.3 L337,135.06 L337.5,134.82 L338,134.58 L338.5,134.35 L339,134.13 L339.5,133.91 L340,133.7 L340.5,133.51 L341,133.32 L341.5,133.15 L342,132.98 L342.5,132.84 L343,132.7 L343.5,132.59 L344,132.49 L344.5,132.4 L345,132.34 L345.5,132.29 L346,132.26 L346.5,132.25 L347,132.26 L347.5,132.28 L348,132.33 L348.5,132.39 L349,132.47 L349.5,132.57 L350,132.68 L350.5,132.81 L351,132.96 L351.5,133.12 L352,133.29 L352.5,133.48 L353,133.68 L353.5,133.88 L354,134.1 L354.5,134.33 L355,134.56 L355.5,134.8 L356,135.04 L356.5,135.29 L357,135.53 L357.5,135.78 L358,136.03 L358.5,136.28 L359,136.53 L359.5,136.78 L360,137.02 L360.5,137.25 L361,137.49 L361.5,137.71 L362,137.93 L362.5,138.15 L363,138.35 L363.5,138.55 L364,138.74 L364.5,138.93 L365,139.1 L365.5,139.27 L366,139.43 L366.5,139.58 L367,139.72 L367.5,139.85 L368,139.98 L368.5,140.1 L369,140.21 L369.5,140.31 L370,140.41 L370.5,140.49 L371,140.58 L371.5,140.65 L372,140.72 L372.5,140.79 L373,140.85 L373.5,140.9 L374,140.95 L374.5,141 L375,141.04 L375.5,141.08 L376,141.11 L376.5,141.14 L377,141.17 L377.5,141.2 L378,141.22 L378.5,141.24 L379,141.26 L379.5,141.28 L380,141.29 L380.5,141.31 L381,141.32 L381.5,141.33 L382,141.34 L382.5,141.35 L383,141.36 L383.5,141.36 L384,141.37 L384.5,141.38 L385,141.38 L385.5,141.39 L386,141.39 L386.2,141.41Z" fill="#5EC3C6" fill-opacity="0.85" stroke="none"/>
<path d="M346.6,141.25 L346.6,141.21 L347.1,141.2 L347.6,141.19 L348.1,141.18 L348.6,141.17 L349.1,141.15 L349.6,141.13 L350.1,141.11 L350.6,141.08 L351.1,141.04 L351.6,141 L352.1,140.95 L352.6,140.89 L353.1,140.82 L353.6,140.74 L354.1,140.65 L354.6,140.55 L355.1,140.42 L355.6,140.29 L356.1,140.13 L356.6,139.95 L357.1,139.75 L357.6,139.53 L358.1,139.28 L358.6,139 L359.1,138.69 L359.6,138.35 L360.1,137.97 L360.6,137.56 L361.1,137.12 L361.6,136.63 L362.1,136.11 L362.6,135.55 L363.1,134.95 L363.6,134.31 L364.1,133.63 L364.6,132.92 L365.1,132.17 L365.6,131.39 L366.1,130.58 L366.6,129.75 L367.1,128.89 L367.6,128.02 L368.1,127.13 L368.6,126.23 L369.1,125.34 L369.6,124.44 L370.1,123.56 L370.6,122.7 L371.1,121.87 L371.6,121.06 L372.1,120.3 L372.6,119.59 L373.1,118.92 L373.6,118.32 L374.1,117.78 L374.6,117.31 L375.1,116.92 L375.6,116.61 L376.1,116.38 L376.6,116.23 L377.1,116.17 L377.6,116.19 L378.1,116.25 L378.6,116.35 L379.1,116.49 L379.6,116.68 L380.1,116.91 L380.6,117.18 L381.1,117.48 L381.6,117.83 L382.1,118.21 L382.6,118.62 L383.1,119.06 L383.6,119.54 L384.1,120.04 L384.6,120.56 L385.1,121.11 L385.6,121.68 L386.1,122.27 L386.6,122.87 L387.1,123.48 L387.6,124.1 L388.1,124.73 L388.6,125.37 L389.1,126.01 L389.6,126.65 L390.1,127.28 L390.6,127.92 L391.1,128.54 L391.6,129.16 L392.1,129.77 L392.6,130.37 L393.1,130.96 L393.6,131.53 L394.1,132.09 L394.6,132.63 L395.1,133.16 L395.6,133.67 L396.1,134.16 L396.6,134.63 L397.1,135.08 L397.6,135.51 L398.1,135.92 L398.6,136.32 L399.1,136.69 L399.6,137.05 L400.1,137.38 L400.6,137.7 L401.1,138 L401.6,138.28 L402.1,138.54 L402.6,138.79 L403.1,139.02 L403.6,139.24 L404.1,139.44 L404.6,139.62 L405.1,139.79 L405.6,139.95 L406.1,140.1 L406.6,140.24 L407.1,140.36 L407.6,140.47 L408.1,140.58 L408.6,140.67 L409.1,140.76 L409.6,140.84 L410.1,140.91 L410.6,140.98 L411.1,141.04 L411.6,141.09 L412.1,141.14 L412.6,141.19 L413.1,141.23 L413.6,141.26 L414.1,141.3 L414.6,141.32 L415.1,141.35 L415.6,141.37 L416.1,141.39 L416.6,141.41 L417.1,141.43 L417.6,141.45 L418.1,141.46 L418.6,141.47 L419.1,141.48 L419.6,141.49 L420.1,141.5 L420.4,141.54Z" fill="#D2BF8C" fill-opacity="0.85" stroke="none"/>
<path d="M260.2,141.2L450.2,141.96" stroke="#8a8a8a" stroke-width="0.9"/>
<g fill="none" stroke="#555" stroke-width="0.5" stroke-opacity="0.85"><circle cx="261" cy="139.19" r="0.85"/><circle cx="262.5" cy="140.5" r="0.85"/><circle cx="264" cy="138.98" r="0.85"/><circle cx="265.5" cy="140" r="0.85"/><circle cx="267" cy="138.86" r="0.85"/><circle cx="268.5" cy="139.12" r="0.85"/><circle cx="270" cy="140.44" r="0.85"/><circle cx="271.5" cy="138.97" r="0.85"/><circle cx="273" cy="139.69" r="0.85"/><circle cx="274.5" cy="139.28" r="0.85"/><circle cx="276" cy="139.18" r="0.85"/><circle cx="277.5" cy="139.16" r="0.85"/><circle cx="279" cy="138.52" r="0.85"/><circle cx="280.5" cy="139.55" r="0.85"/><circle cx="282" cy="138.1" r="0.85"/><circle cx="283.5" cy="138.23" r="0.85"/><circle cx="285" cy="137.69" r="0.85"/><circle cx="286.5" cy="137.98" r="0.85"/><circle cx="288" cy="138.06" r="0.85"/><circle cx="289.5" cy="138.76" r="0.85"/><circle cx="291" cy="137.61" r="0.85"/><circle cx="292.5" cy="136.92" r="0.85"/><circle cx="294" cy="136.95" r="0.85"/><circle cx="295.5" cy="138.02" r="0.85"/><circle cx="297" cy="136.1" r="0.85"/><circle cx="298.5" cy="136.83" r="0.85"/><circle cx="300" cy="136.12" r="0.85"/><circle cx="301.5" cy="136.34" r="0.85"/><circle cx="303" cy="135.47" r="0.85"/><circle cx="304.5" cy="135.79" r="0.85"/><circle cx="306" cy="135.1" r="0.85"/><circle cx="307.5" cy="135.02" r="0.85"/><circle cx="309" cy="135.1" r="0.85"/><circle cx="310.5" cy="134.15" r="0.85"/><circle cx="312" cy="132.99" r="0.85"/><circle cx="313.5" cy="132.49" r="0.85"/><circle cx="315" cy="133.72" r="0.85"/><circle cx="316.5" cy="132.57" r="0.85"/><circle cx="318" cy="131.73" r="0.85"/><circle cx="319.5" cy="132.79" r="0.85"/><circle cx="321" cy="131.86" r="0.85"/><circle cx="322.5" cy="131.87" r="0.85"/><circle cx="324" cy="131.89" r="0.85"/><circle cx="325.5" cy="130.57" r="0.85"/><circle cx="327" cy="130.45" r="0.85"/><circle cx="328.5" cy="131.15" r="0.85"/><circle cx="330" cy="129.56" r="0.85"/><circle cx="331.5" cy="130.44" r="0.85"/><circle cx="333" cy="128.99" r="0.85"/><circle cx="334.5" cy="129.8" r="0.85"/><circle cx="336" cy="129.58" r="0.85"/><circle cx="337.5" cy="129.77" r="0.85"/><circle cx="339" cy="129.34" r="0.85"/><circle cx="340.5" cy="128.47" r="0.85"/><circle cx="342" cy="127.67" r="0.85"/><circle cx="343.5" cy="127.33" r="0.85"/><circle cx="345" cy="127.75" r="0.85"/><circle cx="346.5" cy="127.44" r="0.85"/><circle cx="348" cy="126.38" r="0.85"/><circle cx="349.5" cy="127.63" r="0.85"/><circle cx="351" cy="126.67" r="0.85"/><circle cx="352.5" cy="126.71" r="0.85"/><circle cx="354" cy="125.4" r="0.85"/><circle cx="355.5" cy="124.8" r="0.85"/><circle cx="357" cy="123.49" r="0.85"/><circle cx="358.5" cy="123.01" r="0.85"/><circle cx="360" cy="121.69" r="0.85"/><circle cx="361.5" cy="120.82" r="0.85"/><circle cx="363" cy="119.71" r="0.85"/><circle cx="364.5" cy="119.48" r="0.85"/><circle cx="366" cy="118.55" r="0.85"/><circle cx="367.5" cy="116.31" r="0.85"/><circle cx="369" cy="115.89" r="0.85"/><circle cx="370.5" cy="114.82" r="0.85"/><circle cx="372" cy="115.14" r="0.85"/><circle cx="373.5" cy="115.25" r="0.85"/><circle cx="375" cy="113.61" r="0.85"/><circle cx="376.5" cy="114.63" r="0.85"/><circle cx="378" cy="114.1" r="0.85"/><circle cx="379.5" cy="114.17" r="0.85"/><circle cx="381" cy="116.33" r="0.85"/><circle cx="382.5" cy="116.57" r="0.85"/><circle cx="384" cy="117.44" r="0.85"/><circle cx="385.5" cy="119.39" r="0.85"/><circle cx="387" cy="120.91" r="0.85"/><circle cx="388.5" cy="123.33" r="0.85"/><circle cx="390" cy="125.4" r="0.85"/><circle cx="391.5" cy="127.27" r="0.85"/><circle cx="393" cy="129.52" r="0.85"/><circle cx="394.5" cy="130.85" r="0.85"/><circle cx="396" cy="132.18" r="0.85"/><circle cx="397.5" cy="133.68" r="0.85"/><circle cx="399" cy="135.1" r="0.85"/><circle cx="400.5" cy="136.99" r="0.85"/><circle cx="402" cy="137.63" r="0.85"/><circle cx="403.5" cy="139.85" r="0.85"/><circle cx="405" cy="139.67" r="0.85"/><circle cx="406.5" cy="140.24" r="0.85"/><circle cx="408" cy="140.88" r="0.85"/><circle cx="409.5" cy="139.35" r="0.85"/><circle cx="411" cy="139.37" r="0.85"/><circle cx="412.5" cy="139.68" r="0.85"/><circle cx="414" cy="140.2" r="0.85"/><circle cx="415.5" cy="140.6" r="0.85"/><circle cx="417" cy="140.97" r="0.85"/><circle cx="418.5" cy="140.33" r="0.85"/><circle cx="420" cy="141.49" r="0.85"/><circle cx="421.5" cy="139.82" r="0.85"/><circle cx="423" cy="141.37" r="0.85"/><circle cx="424.5" cy="140.3" r="0.85"/><circle cx="426" cy="141.54" r="0.85"/><circle cx="427.5" cy="140.08" r="0.85"/><circle cx="429" cy="141.8" r="0.85"/><circle cx="430.5" cy="141.48" r="0.85"/><circle cx="432" cy="141.94" r="0.85"/><circle cx="433.5" cy="141.25" r="0.85"/><circle cx="435" cy="140.57" r="0.85"/><circle cx="436.5" cy="142.04" r="0.85"/><circle cx="438" cy="141.13" r="0.85"/><circle cx="439.5" cy="140.53" r="0.85"/><circle cx="441" cy="141.51" r="0.85"/><circle cx="442.5" cy="141.36" r="0.85"/><circle cx="444" cy="141.36" r="0.85"/><circle cx="445.5" cy="140.83" r="0.85"/><circle cx="447" cy="140.81" r="0.85"/><circle cx="448.5" cy="141.69" r="0.85"/><circle cx="450" cy="141.5" r="0.85"/></g>
<path d="M259.8,139.7C262.1,139.65 268.87,139.65 273.6,139.4C278.33,139.15 283.33,138.8 288.2,138.2C293.07,137.6 297.93,136.77 302.8,135.8C307.67,134.83 312.55,133.38 317.4,132.4C322.25,131.42 327.03,130.73 331.9,129.9C336.77,129.07 342.75,128.13 346.6,127.4C350.45,126.67 352.38,126.67 355,125.5C357.62,124.33 359.87,122.02 362.3,120.4C364.73,118.78 367.17,116.83 369.6,115.8C372.03,114.77 374.47,113.8 376.9,114.2C379.33,114.6 382.02,116.32 384.2,118.2C386.38,120.08 388.05,123.07 390,125.5C391.95,127.93 393.95,130.77 395.9,132.8C397.85,134.83 399.52,136.48 401.7,137.7C403.88,138.92 400.9,139.45 409,140.1C417.1,140.75 443.42,141.35 450.3,141.6" fill="none" stroke="#F37878" stroke-width="1.35" stroke-linejoin="round"/>
<text x="264.2" y="17.7" font-size="11.3" fill="#4FC4C4" stroke="#4FC4C4" stroke-width="0.22" text-anchor="start" >V<tspan font-size="8.81" dy="3.4">O</tspan><tspan dy="-3.4">-Ru/HfO</tspan><tspan font-size="8.81" dy="3.4">2</tspan><tspan dy="-3.4">-P</tspan></text>
<text x="264.5" y="54" font-size="11.3" fill="#3D6CC0" stroke="#3D6CC0" stroke-width="0.22" text-anchor="start" >V<tspan font-size="8.81" dy="3.4">O</tspan><tspan dy="-3.4">-Ru/HfO</tspan><tspan font-size="8.81" dy="3.4">2</tspan><tspan dy="-3.4">-O</tspan></text>
<text x="264.1" y="90.2" font-size="11.3" fill="#F47272" stroke="#F47272" stroke-width="0.22" text-anchor="start" >V<tspan font-size="8.81" dy="3.4">O</tspan><tspan dy="-3.4">-Ru/HfO</tspan><tspan font-size="8.81" dy="3.4">2</tspan><tspan dy="-3.4">-OP</tspan></text>
<text x="268.5" y="127.7" font-size="11.3" fill="#8a8a8a" stroke="#8a8a8a" stroke-width="0.22" text-anchor="start" >HfO<tspan font-size="8.8" dy="3.4">2</tspan></text>
<text x="446.4" y="14.5" font-size="11.3" fill="#000" stroke="#000" stroke-width="0.22" text-anchor="end" >O 1<tspan font-style="italic">s</tspan></text>
<defs><clipPath id="ch0"><rect x="499.5" y="3" width="185" height="140"/></clipPath><clipPath id="ch1"><rect x="499.5" y="183" width="185" height="141"/></clipPath><clipPath id="ch2"><rect x="499.5" y="362" width="185" height="141"/></clipPath></defs>
<mask id="lblm" maskUnits="userSpaceOnUse" x="0" y="0" width="685" height="533"><rect x="0" y="0" width="685" height="533" fill="#fff"/><rect x="578.5" y="84.3" width="9" height="6.2" fill="#000"/><rect x="650.6" y="61.1" width="9" height="6.2" fill="#000"/><rect x="622.1" y="276.9" width="9" height="6.2" fill="#000"/></mask>
<g mask="url(#lblm)">
<path d="M516.2,122.4C515.7,119.85 516.45,116.68 517.3,114.3C518.15,111.92 519.6,109.82 521.3,108.1C523,106.38 525.1,105.08 527.5,104C529.9,102.92 532.63,102.2 535.7,101.6C538.77,101 542.17,100.73 545.9,100.4C549.63,100.07 554.35,100.18 558.1,99.6C561.85,99.02 565.33,98.03 568.4,96.9C571.47,95.77 574.3,94.25 576.5,92.8C578.7,91.35 580.07,90.42 581.6,88.2C583.13,85.98 584.5,82.32 585.7,79.5C586.9,76.68 587.6,73.4 588.8,71.3C590,69.2 591.2,67.98 592.9,66.9C594.6,65.82 596.62,64.92 599,64.8C601.38,64.68 604.13,65.18 607.2,66.2C610.27,67.22 614,69.37 617.4,70.9C620.8,72.43 624.87,73.97 627.6,75.4C630.33,76.83 632.6,77.78 633.8,79.5C635,81.22 635.15,83.32 634.8,85.7C634.45,88.08 633.07,91.08 631.7,93.8C630.33,96.52 627.97,98.93 626.6,102C625.23,105.07 624.08,108.8 623.5,112.2C622.92,115.6 623.43,119.17 623.1,122.4C622.77,125.63 622.78,129.38 621.5,131.6C620.22,133.82 618.47,134.67 615.4,135.7C612.33,136.73 607.88,137.28 603.1,137.8C598.32,138.32 592.83,138.8 586.7,138.8C580.57,138.8 573.1,138.22 566.3,137.8C559.5,137.38 552.03,136.98 545.9,136.3C539.77,135.62 533.77,134.82 529.5,133.7C525.23,132.58 522.52,131.48 520.3,129.6C518.08,127.72 516.7,124.95 516.2,122.4Z" fill="none" stroke="#1d3d1d" stroke-width="0.85" stroke-opacity="0.85" clip-path="url(#ch0)"/>
<path d="M671.5,38.5C668.97,38.78 665.78,39.32 663.9,41C662.02,42.68 661.18,45.65 660.2,48.6C659.22,51.55 658.37,55.75 658,58.7C657.63,61.65 657.43,64.18 658,66.3C658.57,68.42 659.3,70.13 661.4,71.4C663.5,72.67 667.65,73.77 670.6,73.9C673.55,74.03 676.53,73.18 679.1,72.2C681.67,71.22 683.85,70.7 686,68C688.15,65.3 692,60.33 692,56C692,51.67 688.15,44.78 686,42C683.85,39.22 681.52,39.88 679.1,39.3C676.68,38.72 674.03,38.22 671.5,38.5Z" fill="none" stroke="#1d3d1d" stroke-width="0.85" stroke-opacity="0.85" clip-path="url(#ch0)"/>
<path d="M586.5,254C586.7,252.17 586.8,248.65 587.7,246.4C588.6,244.15 589.8,242.62 591.9,240.5C594,238.38 597.2,235.67 600.3,233.7C603.4,231.73 607.12,230.17 610.5,228.7C613.88,227.23 617.22,225.75 620.6,224.9C623.98,224.05 627.42,223.53 630.8,223.6C634.18,223.67 638.08,224.73 640.9,225.3C643.72,225.87 645.17,226.72 647.7,227C650.23,227.28 653.28,227.43 656.1,227C658.92,226.57 661.92,225.67 664.6,224.4C667.28,223.13 669.95,220.72 672.2,219.4C674.45,218.08 676.13,216.82 678.1,216.5C680.07,216.18 681.68,216.58 684,217.5C686.32,218.42 690,216.58 692,222C694,227.42 696,240.5 696,250C696,259.5 694.15,273.95 692,279C689.85,284.05 686.83,280.02 683.1,280.3C679.37,280.58 674.95,280.63 669.6,280.7C664.25,280.77 657.47,280.78 651,280.7C644.53,280.62 636.43,280.43 630.8,280.2C625.17,279.97 621.43,279.87 617.2,279.3C612.97,278.73 609.05,278.07 605.4,276.8C601.75,275.53 597.97,273.82 595.3,271.7C592.63,269.58 590.87,266.48 589.4,264.1C587.93,261.72 586.98,259.08 586.5,257.4C586.02,255.72 586.3,255.83 586.5,254Z" fill="none" stroke="#1d3d1d" stroke-width="0.85" stroke-opacity="0.85" clip-path="url(#ch1)"/>
<path d="M514.2,480.4C514.2,478 514.83,475.42 516.2,473.2C517.57,470.98 519.83,468.9 522.4,467.1C524.97,465.3 528.03,463.52 531.6,462.4C535.17,461.28 539.72,460.87 543.8,460.4C547.88,459.93 552.35,460.02 556.1,459.6C559.85,459.18 563.07,458.87 566.3,457.9C569.53,456.93 572.95,455.5 575.5,453.8C578.05,452.1 579.9,450.42 581.6,447.7C583.3,444.98 584.33,440.57 585.7,437.5C587.07,434.43 588.27,431.42 589.8,429.3C591.33,427.18 593.02,425.75 594.9,424.8C596.78,423.85 598.37,423.37 601.1,423.6C603.83,423.83 607.57,424.73 611.3,426.2C615.03,427.67 619.93,430.68 623.5,432.4C627.07,434.12 630.32,434.97 632.7,436.5C635.08,438.03 636.87,439.4 637.8,441.6C638.73,443.8 638.97,446.3 638.3,449.7C637.63,453.1 635.92,458.25 633.8,462C631.68,465.75 628.17,469.13 625.6,472.2C623.03,475.27 620.1,477.67 618.4,480.4C616.7,483.13 616.25,486.05 615.4,488.6C614.55,491.15 614.33,494 613.3,495.7C612.27,497.4 611.92,498.12 609.2,498.8C606.48,499.48 602.45,499.73 597,499.8C591.55,499.87 583.32,499.53 576.5,499.2C569.68,498.87 562.9,498.38 556.1,497.8C549.3,497.22 541.32,496.55 535.7,495.7C530.08,494.85 525.65,494.05 522.4,492.7C519.15,491.35 517.57,489.65 516.2,487.6C514.83,485.55 514.2,482.8 514.2,480.4Z" fill="none" stroke="#1d3d1d" stroke-width="0.85" stroke-opacity="0.85" clip-path="url(#ch2)"/>
</g>
</svg>
<script>
(function(){
var CM=[[0,140,0,255],[0.10,90,0,255],[0.20,30,30,255],[0.30,0,110,255],[0.40,0,200,255],[0.47,0,255,255],[0.55,0,255,128],[0.60,0,245,60],[0.66,60,255,0],[0.72,170,255,0],[0.78,255,255,0],[0.86,255,170,0],[0.93,255,90,0],[1,255,20,0]];
function cmap(t){if(t<0)t=0;if(t>1)t=1;for(var i=1;i<CM.length;i++){if(t<=CM[i][0]){var a=CM[i-1],b=CM[i],u=(t-a[0])/(b[0]-a[0]);return [a[1]+(b[1]-a[1])*u,a[2]+(b[2]-a[2])*u,a[3]+(b[3]-a[3])*u];}}return [255,20,0];}
function gs(list,x,y){var v=0;for(var i=0;i<list.length;i++){var g=list[i];var dx=(x-g[0])/g[2],dy=(y-g[1])/g[3];v+=g[4]*Math.exp(-0.5*(dx*dx+dy*dy));}return v;}
function sdist(pts,x,y){var n=pts.length,best=1e9,inside=false;for(var i=0,j=n-1;i<n;j=i++){var xi=pts[i][0],yi=pts[i][1],xj=pts[j][0],yj=pts[j][1];
 if(((yi>y)!=(yj>y))&&(x<(xj-xi)*(y-yi)/(yj-yi)+xi))inside=!inside;
 var dx=xj-xi,dy=yj-yi,l2=dx*dx+dy*dy,t=l2>0?((x-xi)*dx+(y-yi)*dy)/l2:0;if(t<0)t=0;if(t>1)t=1;var ex=xi+t*dx-x,ey=yi+t*dy-y;var d2=ex*ex+ey*ey;if(d2<best)best=d2;}
 var d=Math.sqrt(best);return inside?d:-d;}
var L=0.6;
var HEAT=[{"id":"hm0","top":3,"H":140,"bg":{"c":[0.0,0.3,0.36,0.3],"g":[[515,18,25,20,-0.06],[525,75,25,20,0.09],[648,77,10,8,0.25],[655,20,20,14,0.05],[664,116,16,18,-0.12]]},"post":[[561.2,81.6,7,7,-0.36],[594.5,13,7,11,-0.28],[631,38.5,5.5,13,-0.34],[660,103,13,5.5,-0.25],[667.8,129,13,5.5,-0.25]],"blobs":[{"core0":0.8,"core":[[568,122,30,14,0.26],[606,84,8,10,0.08]],"Din":10.5,"Dout":12,"pts":[[516.2,122.4],[516.08,121.53],[516.04,120.62],[516.07,119.7],[516.17,118.76],[516.33,117.82],[516.53,116.89],[516.76,115.99],[517.02,115.12],[517.3,114.3],[517.65,113.42],[518.04,112.57],[518.49,111.74],[518.98,110.95],[519.51,110.19],[520.08,109.46],[520.67,108.76],[521.3,108.1],[521.96,107.48],[522.65,106.89],[523.38,106.33],[524.14,105.81],[524.93,105.32],[525.76,104.86],[526.61,104.42],[527.5,104.0],[528.31,103.65],[529.15,103.33],[530.01,103.03],[530.9,102.75],[531.81,102.49],[532.74,102.25],[533.7,102.02],[534.69,101.8],[535.7,101.6],[536.54,101.44],[537.41,101.3],[538.28,101.18],[539.18,101.06],[540.09,100.95],[541.02,100.85],[541.96,100.76],[542.92,100.67],[543.9,100.58],[544.89,100.49],[545.9,100.4],[546.78,100.33],[547.69,100.27],[548.62,100.23],[549.57,100.19],[550.53,100.15],[551.51,100.11],[552.48,100.07],[553.46,100.03],[554.42,99.97],[555.37,99.91],[556.31,99.82],[557.22,99.72],[558.1,99.6],[559.12,99.43],[560.12,99.24],[561.11,99.04],[562.08,98.82],[563.03,98.58],[563.97,98.33],[564.9,98.06],[565.8,97.79],[566.69,97.5],[567.55,97.21],[568.4,96.9],[569.31,96.55],[570.21,96.18],[571.09,95.79],[571.94,95.38],[572.77,94.97],[573.58,94.54],[574.36,94.11],[575.11,93.67],[575.82,93.24],[576.5,92.8],[577.39,92.2],[578.2,91.64],[578.95,91.08],[579.64,90.48],[580.3,89.83],[580.95,89.08],[581.6,88.2],[582.06,87.49],[582.5,86.71],[582.93,85.88],[583.36,84.99],[583.77,84.07],[584.18,83.14],[584.57,82.2],[584.96,81.27],[585.34,80.37],[585.7,79.5],[586.08,78.55],[586.44,77.57],[586.77,76.59],[587.09,75.61],[587.41,74.66],[587.73,73.73],[588.06,72.86],[588.42,72.04],[588.8,71.3],[589.32,70.45],[589.84,69.7],[590.38,69.03],[590.95,68.43],[591.55,67.88],[592.2,67.37],[592.9,66.9],[593.65,66.45],[594.44,66.03],[595.26,65.66],[596.13,65.33],[597.05,65.08],[598.0,64.9],[599.0,64.8],[599.81,64.78],[600.64,64.81],[601.5,64.89],[602.39,65.0],[603.3,65.16],[604.24,65.36],[605.2,65.6],[606.19,65.88],[607.2,66.2],[607.98,66.48],[608.78,66.79],[609.61,67.15],[610.45,67.53],[611.31,67.93],[612.17,68.36],[613.05,68.79],[613.93,69.23],[614.8,69.66],[615.68,70.09],[616.54,70.5],[617.4,70.9],[618.26,71.28],[619.15,71.67],[620.04,72.05],[620.95,72.43],[621.85,72.81],[622.75,73.19],[623.63,73.56],[624.5,73.94],[625.33,74.31],[626.13,74.68],[626.89,75.04],[627.6,75.4],[628.6,75.92],[629.55,76.4],[630.45,76.87],[631.27,77.34],[632.03,77.83],[632.71,78.34],[633.3,78.89],[633.8,79.5],[634.25,80.26],[634.58,81.06],[634.81,81.91],[634.93,82.8],[634.96,83.73],[634.92,84.7],[634.8,85.7],[634.65,86.52],[634.43,87.37],[634.14,88.26],[633.81,89.16],[633.44,90.09],[633.03,91.02],[632.6,91.96],[632.15,92.89],[631.7,93.8],[631.26,94.61],[630.78,95.4],[630.25,96.19],[629.71,96.98],[629.15,97.77],[628.59,98.57],[628.05,99.39],[627.52,100.23],[627.04,101.1],[626.6,102.0],[626.23,102.85],[625.88,103.73],[625.54,104.64],[625.21,105.56],[624.9,106.5],[624.61,107.45],[624.34,108.41],[624.1,109.36],[623.87,110.32],[623.67,111.27],[623.5,112.2],[623.37,113.13],[623.28,114.07],[623.23,115.01],[623.21,115.95],[623.2,116.89],[623.21,117.83],[623.22,118.76],[623.22,119.69],[623.21,120.61],[623.17,121.51],[623.1,122.4],[623.01,123.38],[622.93,124.39],[622.85,125.39],[622.76,126.4],[622.66,127.38],[622.52,128.34],[622.35,129.25],[622.13,130.1],[621.85,130.89],[621.5,131.6],[621.0,132.37],[620.44,133.03],[619.81,133.6],[619.12,134.09],[618.34,134.53],[617.47,134.94],[616.49,135.32],[615.4,135.7],[614.67,135.93],[613.89,136.14],[613.07,136.34],[612.21,136.53],[611.31,136.7],[610.37,136.87],[609.41,137.02],[608.41,137.16],[607.39,137.3],[606.35,137.43],[605.28,137.56],[604.2,137.68],[603.1,137.8],[602.25,137.89],[601.38,137.98],[600.5,138.07],[599.61,138.15],[598.7,138.24],[597.78,138.31],[596.84,138.39],[595.89,138.46],[594.92,138.53],[593.94,138.59],[592.95,138.64],[591.94,138.69],[590.92,138.73],[589.89,138.76],[588.84,138.78],[587.78,138.8],[586.7,138.8],[585.81,138.8],[584.91,138.78],[584.0,138.77],[583.06,138.74],[582.12,138.71],[581.16,138.67],[580.2,138.63],[579.22,138.59],[578.24,138.54],[577.25,138.48],[576.25,138.43],[575.25,138.37],[574.25,138.31],[573.25,138.24],[572.25,138.18],[571.24,138.12],[570.24,138.05],[569.25,137.99],[568.26,137.92],[567.28,137.86],[566.3,137.8],[565.32,137.74],[564.34,137.68],[563.35,137.62],[562.36,137.56],[561.36,137.5],[560.35,137.44],[559.35,137.38],[558.35,137.31],[557.35,137.25],[556.35,137.18],[555.35,137.12],[554.36,137.05],[553.38,136.97],[552.4,136.9],[551.44,136.82],[550.48,136.74],[549.54,136.66],[548.6,136.58],[547.69,136.49],[546.79,136.4],[545.9,136.3],[544.82,136.18],[543.74,136.05],[542.67,135.93],[541.61,135.8],[540.56,135.66],[539.53,135.52],[538.5,135.38],[537.5,135.24],[536.51,135.09],[535.54,134.93],[534.6,134.77],[533.67,134.61],[532.78,134.44],[531.91,134.26],[531.08,134.08],[530.27,133.89],[529.5,133.7],[528.37,133.4],[527.32,133.09],[526.33,132.77],[525.41,132.45],[524.54,132.11],[523.73,131.76],[522.97,131.38],[522.25,130.98],[521.56,130.55],[520.92,130.09],[520.3,129.6],[519.59,128.94],[518.95,128.23],[518.36,127.46],[517.84,126.66],[517.39,125.83],[516.99,124.98],[516.66,124.12],[516.4,123.26]]},{"core0":0.68,"core":[],"Din":5,"Dout":10,"pts":[[671.5,38.5],[670.63,38.6],[669.74,38.74],[668.82,38.9],[667.91,39.1],[667.01,39.36],[666.14,39.67],[665.33,40.04],[664.57,40.48],[663.9,41.0],[663.31,41.61],[662.79,42.3],[662.32,43.06],[661.91,43.89],[661.53,44.77],[661.18,45.69],[660.85,46.65],[660.52,47.62],[660.2,48.6],[659.94,49.43],[659.68,50.32],[659.43,51.24],[659.2,52.19],[658.97,53.16],[658.77,54.14],[658.57,55.11],[658.4,56.06],[658.25,56.98],[658.11,57.87],[658.0,58.7],[657.87,59.79],[657.77,60.83],[657.69,61.84],[657.65,62.81],[657.65,63.74],[657.71,64.63],[657.82,65.49],[658.0,66.3],[658.26,67.18],[658.55,68.02],[658.91,68.8],[659.36,69.53],[659.91,70.21],[660.58,70.83],[661.4,71.4],[662.09,71.77],[662.88,72.13],[663.76,72.47],[664.7,72.79],[665.68,73.08],[666.69,73.33],[667.71,73.54],[668.71,73.71],[669.68,73.83],[670.6,73.9],[671.58,73.91],[672.57,73.85],[673.54,73.74],[674.51,73.57],[675.47,73.36],[676.41,73.11],[677.33,72.83],[678.23,72.52],[679.1,72.2],[679.94,71.89],[680.76,71.58],[681.55,71.27],[682.33,70.93],[683.08,70.54],[683.83,70.07],[684.56,69.51],[685.28,68.82],[686.0,68.0],[686.48,67.39],[687.01,66.71],[687.56,65.98],[688.13,65.2],[688.7,64.37],[689.26,63.51],[689.81,62.61],[690.32,61.69],[690.78,60.75],[691.19,59.8],[691.52,58.84],[691.78,57.89],[691.94,56.94],[692.0,56.0],[691.96,55.16],[691.83,54.27],[691.63,53.34],[691.36,52.38],[691.04,51.39],[690.67,50.4],[690.25,49.41],[689.81,48.42],[689.33,47.45],[688.84,46.51],[688.34,45.61],[687.84,44.75],[687.35,43.95],[686.88,43.22],[686.42,42.57],[686.0,42.0],[685.19,41.11],[684.35,40.49],[683.51,40.08],[682.65,39.83],[681.78,39.68],[680.9,39.58],[680.0,39.47],[679.1,39.3],[678.18,39.09],[677.25,38.89],[676.3,38.72],[675.34,38.58],[674.38,38.47],[673.42,38.42],[672.45,38.43]]}]},{"id":"hm1","top":183,"H":141,"bg":{"c":[0.0,0.3,0.1,0.12],"g":[[620,305,60,7,-0.06],[570,240,25,30,0.1],[676,190,8,8,0.1],[625,225,35,25,0.08],[540,250,12,40,0.04]]},"post":[[652,192,5.5,10,-0.34],[585,184,8,4,-0.08],[544.6,274.6,9,6.5,-0.16],[625,307,45,7,-0.12]],"blobs":[{"core0":0.8,"core":[[660,254,32,13,0.27]],"Din":12,"Dout":14,"pts":[[586.5,254.0],[586.57,253.24],[586.65,252.36],[586.73,251.38],[586.84,250.36],[586.98,249.31],[587.16,248.28],[587.4,247.3],[587.7,246.4],[588.05,245.59],[588.44,244.83],[588.87,244.1],[589.35,243.4],[589.89,242.7],[590.48,242.0],[591.15,241.27],[591.9,240.5],[592.5,239.91],[593.15,239.29],[593.84,238.66],[594.57,238.02],[595.33,237.37],[596.12,236.72],[596.94,236.08],[597.77,235.45],[598.61,234.84],[599.45,234.25],[600.3,233.7],[601.09,233.22],[601.9,232.75],[602.73,232.3],[603.57,231.86],[604.43,231.43],[605.29,231.01],[606.17,230.61],[607.04,230.21],[607.91,229.82],[608.78,229.44],[609.65,229.07],[610.5,228.7],[611.42,228.3],[612.34,227.9],[613.26,227.51],[614.18,227.12],[615.09,226.75],[616.01,226.39],[616.92,226.05],[617.84,225.72],[618.76,225.42],[619.68,225.15],[620.6,224.9],[621.52,224.68],[622.45,224.47],[623.38,224.28],[624.31,224.12],[625.24,223.97],[626.16,223.85],[627.09,223.75],[628.02,223.67],[628.95,223.62],[629.88,223.6],[630.8,223.6],[631.73,223.64],[632.69,223.73],[633.65,223.85],[634.62,224.0],[635.58,224.17],[636.54,224.36],[637.47,224.56],[638.39,224.76],[639.27,224.95],[640.11,225.13],[640.9,225.3],[641.9,225.52],[642.79,225.76],[643.62,226.01],[644.41,226.26],[645.18,226.49],[645.96,226.69],[646.8,226.87],[647.7,227.0],[648.56,227.09],[649.46,227.16],[650.38,227.22],[651.32,227.26],[652.27,227.27],[653.23,227.26],[654.2,227.21],[655.15,227.12],[656.1,227.0],[657.04,226.84],[658.0,226.64],[658.96,226.41],[659.92,226.15],[660.88,225.86],[661.83,225.54],[662.77,225.19],[663.69,224.81],[664.6,224.4],[665.4,223.99],[666.2,223.52],[667.0,223.01],[667.79,222.47],[668.56,221.92],[669.33,221.36],[670.07,220.82],[670.8,220.3],[671.51,219.83],[672.2,219.4],[673.13,218.84],[674.01,218.3],[674.85,217.81],[675.66,217.36],[676.46,216.98],[677.27,216.69],[678.1,216.5],[679.06,216.4],[679.99,216.41],[680.92,216.54],[681.88,216.76],[682.9,217.09],[684.0,217.5],[684.73,217.7],[685.53,217.8],[686.37,217.85],[687.24,217.92],[688.12,218.06],[688.99,218.34],[689.83,218.81],[690.62,219.54],[691.35,220.58],[692.0,222.0],[692.21,222.59],[692.41,223.23],[692.62,223.91],[692.82,224.65],[693.02,225.43],[693.22,226.25],[693.42,227.1],[693.61,228.0],[693.8,228.92],[693.99,229.88],[694.17,230.86],[694.34,231.87],[694.51,232.89],[694.67,233.94],[694.83,235.0],[694.97,236.08],[695.11,237.16],[695.25,238.26],[695.37,239.36],[695.48,240.46],[695.59,241.56],[695.68,242.65],[695.76,243.74],[695.83,244.82],[695.89,245.89],[695.94,246.95],[695.97,247.99],[695.99,249.0],[696.0,250.0],[695.99,250.97],[695.98,251.96],[695.95,252.98],[695.91,254.03],[695.85,255.1],[695.79,256.18],[695.72,257.28],[695.63,258.38],[695.54,259.5],[695.44,260.62],[695.33,261.74],[695.21,262.86],[695.08,263.97],[694.95,265.08],[694.81,266.17],[694.66,267.25],[694.5,268.31],[694.34,269.35],[694.17,270.36],[693.99,271.35],[693.81,272.3],[693.63,273.23],[693.44,274.11],[693.24,274.96],[693.04,275.76],[692.84,276.51],[692.63,277.22],[692.43,277.87],[692.21,278.46],[692.0,279.0],[691.25,280.37],[690.44,281.17],[689.57,281.52],[688.63,281.53],[687.64,281.3],[686.59,280.96],[685.48,280.6],[684.32,280.35],[683.1,280.3],[682.29,280.36],[681.46,280.41],[680.6,280.45],[679.73,280.49],[678.83,280.53],[677.9,280.56],[676.96,280.58],[675.98,280.6],[674.99,280.62],[673.96,280.64],[672.91,280.66],[671.84,280.67],[670.73,280.69],[669.6,280.7],[668.74,280.71],[667.86,280.72],[666.97,280.73],[666.05,280.73],[665.11,280.74],[664.16,280.75],[663.19,280.75],[662.21,280.75],[661.22,280.76],[660.22,280.76],[659.21,280.76],[658.19,280.75],[657.17,280.75],[656.14,280.75],[655.11,280.74],[654.08,280.73],[653.05,280.72],[652.02,280.71],[651.0,280.7],[650.07,280.69],[649.11,280.67],[648.14,280.66],[647.16,280.64],[646.16,280.62],[645.15,280.61],[644.14,280.59],[643.13,280.56],[642.11,280.54],[641.09,280.52],[640.08,280.49],[639.08,280.47],[638.09,280.44],[637.1,280.41],[636.14,280.39],[635.19,280.36],[634.26,280.33],[633.35,280.3],[632.47,280.27],[631.62,280.23],[630.8,280.2],[629.62,280.15],[628.5,280.11],[627.42,280.06],[626.38,280.02],[625.38,279.97],[624.42,279.93],[623.48,279.88],[622.56,279.82],[621.65,279.76],[620.76,279.69],[619.88,279.61],[618.99,279.52],[618.1,279.41],[617.2,279.3],[616.23,279.17],[615.27,279.03],[614.32,278.89],[613.38,278.73],[612.45,278.57],[611.54,278.4],[610.63,278.22],[609.73,278.02],[608.85,277.81],[607.97,277.59],[607.1,277.34],[606.25,277.08],[605.4,276.8],[604.49,276.47],[603.57,276.13],[602.66,275.77],[601.75,275.39],[600.86,274.99],[599.98,274.57],[599.12,274.13],[598.29,273.68],[597.49,273.21],[596.72,272.72],[595.99,272.22],[595.3,271.7],[594.53,271.04],[593.8,270.33],[593.13,269.58],[592.49,268.8],[591.9,268.0],[591.34,267.2],[590.82,266.39],[590.32,265.6],[589.85,264.83],[589.4,264.1],[588.87,263.2],[588.4,262.28],[587.97,261.38],[587.58,260.49],[587.24,259.63],[586.95,258.82],[586.7,258.07],[586.5,257.4],[586.27,256.42],[586.24,255.76],[586.35,255.07]]}]},{"id":"hm2","top":362,"H":141,"bg":{"c":[0.02,0.22,0.33,0.3],"g":[[530,385,35,22,-0.08],[530,425,22,14,0.06],[662,425,20,22,0.16],[665,478,15,12,-0.08]]},"post":[[562.2,439.5,7,7,-0.36],[596,367,8,9,-0.12],[630,384,6.5,17,-0.34],[653.9,483.4,14,5,-0.25],[685,455,8,12,-0.3]],"blobs":[{"core0":0.8,"core":[[572,481,32,14,0.28],[604,446,8,10,0.08]],"Din":10.5,"Dout":13,"pts":[[514.2,480.4],[514.23,479.49],[514.32,478.57],[514.47,477.65],[514.69,476.73],[514.97,475.82],[515.31,474.92],[515.72,474.05],[516.2,473.2],[516.69,472.47],[517.24,471.74],[517.84,471.03],[518.5,470.34],[519.21,469.65],[519.96,468.99],[520.74,468.34],[521.56,467.71],[522.4,467.1],[523.11,466.61],[523.85,466.12],[524.61,465.64],[525.4,465.17],[526.21,464.72],[527.05,464.27],[527.91,463.85],[528.79,463.45],[529.7,463.07],[530.64,462.72],[531.6,462.4],[532.44,462.15],[533.31,461.93],[534.21,461.73],[535.13,461.55],[536.07,461.38],[537.02,461.23],[537.99,461.09],[538.96,460.96],[539.94,460.84],[540.92,460.72],[541.89,460.61],[542.85,460.51],[543.8,460.4],[544.75,460.3],[545.71,460.22],[546.67,460.15],[547.65,460.09],[548.62,460.05],[549.59,460.0],[550.56,459.96],[551.52,459.92],[552.47,459.87],[553.4,459.82],[554.32,459.76],[555.22,459.69],[556.1,459.6],[557.11,459.49],[558.1,459.38],[559.06,459.27],[560.01,459.15],[560.93,459.02],[561.85,458.89],[562.75,458.73],[563.65,458.56],[564.53,458.37],[565.42,458.15],[566.3,457.9],[567.19,457.62],[568.08,457.33],[568.97,457.01],[569.85,456.67],[570.72,456.31],[571.58,455.93],[572.42,455.54],[573.24,455.13],[574.03,454.7],[574.78,454.26],[575.5,453.8],[576.32,453.23],[577.1,452.66],[577.84,452.07],[578.53,451.45],[579.2,450.8],[579.83,450.11],[580.44,449.37],[581.03,448.57],[581.6,447.7],[582.05,446.92],[582.47,446.07],[582.86,445.16],[583.24,444.21],[583.6,443.23],[583.95,442.23],[584.29,441.23],[584.64,440.25],[584.98,439.29],[585.33,438.37],[585.7,437.5],[586.11,436.58],[586.5,435.67],[586.9,434.78],[587.29,433.9],[587.69,433.04],[588.09,432.22],[588.5,431.43],[588.92,430.67],[589.35,429.96],[589.8,429.3],[590.47,428.43],[591.15,427.65],[591.86,426.94],[592.58,426.3],[593.33,425.74],[594.1,425.24],[594.9,424.8],[595.69,424.42],[596.47,424.11],[597.27,423.86],[598.11,423.68],[599.0,423.57],[599.99,423.54],[601.1,423.6],[601.87,423.68],[602.68,423.79],[603.54,423.94],[604.43,424.11],[605.35,424.32],[606.3,424.56],[607.28,424.83],[608.27,425.13],[609.27,425.46],[610.28,425.81],[611.3,426.2],[612.12,426.54],[612.96,426.92],[613.84,427.33],[614.73,427.77],[615.63,428.23],[616.55,428.72],[617.46,429.21],[618.38,429.7],[619.28,430.19],[620.17,430.68],[621.05,431.15],[621.9,431.59],[622.72,432.01],[623.5,432.4],[624.46,432.85],[625.41,433.26],[626.34,433.64],[627.24,434.0],[628.12,434.35],[628.96,434.69],[629.78,435.02],[630.57,435.37],[631.32,435.72],[632.03,436.1],[632.7,436.5],[633.57,437.07],[634.37,437.63],[635.11,438.21],[635.79,438.8],[636.4,439.42],[636.94,440.09],[637.41,440.81],[637.8,441.6],[638.08,442.35],[638.32,443.12],[638.49,443.92],[638.61,444.76],[638.67,445.65],[638.67,446.58],[638.61,447.56],[638.49,448.6],[638.3,449.7],[638.14,450.45],[637.95,451.26],[637.73,452.1],[637.49,452.97],[637.21,453.87],[636.92,454.79],[636.59,455.72],[636.25,456.66],[635.89,457.59],[635.5,458.52],[635.1,459.43],[634.68,460.32],[634.25,461.18],[633.8,462.0],[633.33,462.8],[632.81,463.58],[632.27,464.36],[631.7,465.13],[631.1,465.88],[630.49,466.62],[629.87,467.36],[629.24,468.08],[628.61,468.79],[627.98,469.49],[627.36,470.18],[626.75,470.87],[626.16,471.54],[625.6,472.2],[624.89,473.02],[624.17,473.81],[623.45,474.58],[622.73,475.33],[622.02,476.06],[621.33,476.79],[620.67,477.5],[620.03,478.22],[619.44,478.94],[618.89,479.66],[618.4,480.4],[617.88,481.32],[617.43,482.24],[617.06,483.17],[616.73,484.1],[616.44,485.03],[616.18,485.95],[615.93,486.85],[615.67,487.74],[615.4,488.6],[615.11,489.57],[614.86,490.55],[614.63,491.52],[614.42,492.47],[614.19,493.38],[613.94,494.23],[613.65,495.01],[613.3,495.7],[612.83,496.47],[612.38,497.11],[611.88,497.63],[611.24,498.07],[610.38,498.45],[609.2,498.8],[608.55,498.95],[607.85,499.09],[607.11,499.21],[606.32,499.31],[605.48,499.41],[604.59,499.49],[603.65,499.57],[602.67,499.63],[601.63,499.68],[600.55,499.72],[599.42,499.76],[598.23,499.78],[597.0,499.8],[596.2,499.81],[595.37,499.81],[594.51,499.81],[593.61,499.8],[592.69,499.78],[591.74,499.77],[590.78,499.75],[589.79,499.72],[588.79,499.7],[587.77,499.67],[586.75,499.63],[585.71,499.6],[584.68,499.56],[583.63,499.52],[582.59,499.48],[581.55,499.43],[580.52,499.39],[579.5,499.34],[578.48,499.29],[577.48,499.25],[576.5,499.2],[575.53,499.15],[574.55,499.1],[573.58,499.05],[572.61,498.99],[571.64,498.94],[570.66,498.88],[569.69,498.82],[568.72,498.76],[567.75,498.69],[566.78,498.63],[565.81,498.56],[564.84,498.49],[563.87,498.42],[562.9,498.35],[561.93,498.27],[560.95,498.2],[559.98,498.12],[559.01,498.04],[558.04,497.96],[557.07,497.88],[556.1,497.8],[555.12,497.72],[554.13,497.63],[553.12,497.54],[552.11,497.46],[551.09,497.37],[550.06,497.28],[549.04,497.19],[548.01,497.09],[546.98,497.0],[545.96,496.9],[544.95,496.8],[543.95,496.7],[542.95,496.6],[541.97,496.49],[541.01,496.39],[540.07,496.28],[539.14,496.17],[538.24,496.05],[537.37,495.94],[536.52,495.82],[535.7,495.7],[534.51,495.52],[533.37,495.34],[532.25,495.15],[531.18,494.97],[530.13,494.78],[529.13,494.59],[528.16,494.39],[527.23,494.18],[526.33,493.96],[525.48,493.74],[524.65,493.5],[523.87,493.25],[523.11,492.98],[522.4,492.7],[521.38,492.24],[520.46,491.75],[519.65,491.23],[518.93,490.69],[518.28,490.13],[517.69,489.53],[517.16,488.91],[516.67,488.27],[516.2,487.6],[515.72,486.8],[515.31,485.95],[514.97,485.05],[514.69,484.13],[514.47,483.19],[514.32,482.25],[514.23,481.31]]}]}];
HEAT.forEach(function(P){var cv=document.getElementById(P.id);var W0=cv.width,H0=cv.height;var M=8;var W=W0+2*M,H=H0+2*M;
 var off=document.createElement('canvas');off.width=W;off.height=H;var octx=off.getContext('2d');var im=octx.createImageData(W,H);
 var c=P.bg.c;
 for(var yy=0;yy<H;yy++)for(var xx=0;xx<W;xx++){var x=499+xx-M+0.5,y=P.top+yy-M+0.5;var u=(xx-M)/(W0-1),v=(yy-M)/(H0-1);
  var t=c[0]*(1-u)*(1-v)+c[1]*u*(1-v)+c[2]*(1-u)*v+c[3]*u*v+gs(P.bg.g,x,y);
  for(var b=0;b<P.blobs.length;b++){var B=P.blobs[b];var d=sdist(B.pts,x,y);
   if(d>0){var G=B.core0+gs(B.core,x,y);if(G<L)G=L;t=L+(G-L)*(1-Math.exp(-Math.pow(d/B.Din,1.8)));}
   else{t=t+(L-t)*Math.exp(d/B.Dout);}}
  if(P.post)t+=gs(P.post,x,y);var col=cmap(t);var o=(yy*W+xx)*4;im.data[o]=col[0];im.data[o+1]=col[1];im.data[o+2]=col[2];im.data[o+3]=255;}
 octx.putImageData(im,0,0);
 var ctx=cv.getContext('2d');ctx.filter='blur('+(P.blur||1.6)+'px)';ctx.drawImage(off,-M,-M);ctx.filter='none';});
})();

</script>
</body></html>
